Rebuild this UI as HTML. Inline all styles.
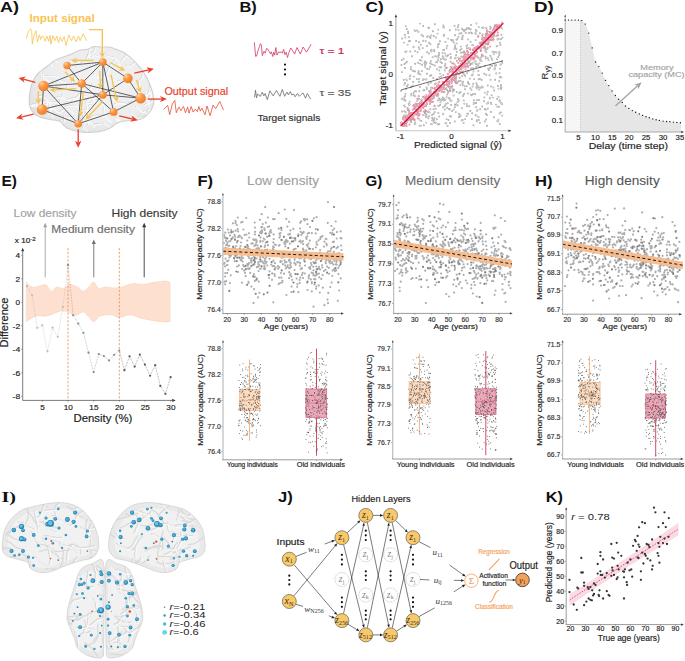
<!DOCTYPE html>
<html><head><meta charset="utf-8"><style>
html,body{margin:0;padding:0;background:#fff;}
svg{display:block;}
text{font-family:"Liberation Sans", sans-serif;}
</style></head><body>
<svg width="685" height="661" viewBox="0 0 685 661">
<rect width="685" height="661" fill="#fff"/>
<text x="0.00" y="11.60" font-size="15.2" fill="#111" font-weight="bold" textLength="19" lengthAdjust="spacingAndGlyphs">A)</text>
<defs><clipPath id="cA"><path d="M29.2,99.3 C29.2,96.2 29.8,92.2 30.5,89.0 C31.2,85.8 32.2,82.6 33.5,80.0 C34.8,77.4 36.2,75.4 38.0,73.5 C39.8,71.6 42.2,69.9 44.0,68.5 C45.8,67.1 47.2,66.3 49.0,65.0 C50.8,63.6 52.5,61.6 54.7,60.4 C56.9,59.1 59.3,58.5 62.0,57.5 C64.7,56.5 68.3,55.5 71.1,54.3 C73.9,53.1 76.3,51.4 79.0,50.5 C81.7,49.6 84.9,49.9 87.4,49.2 C89.9,48.5 91.6,46.8 94.0,46.5 C96.4,46.2 99.2,47.1 101.7,47.2 C104.2,47.3 106.6,46.7 109.0,47.0 C111.4,47.3 113.7,48.4 116.0,49.2 C118.3,50.0 120.6,50.6 123.0,52.0 C125.4,53.4 128.2,55.6 130.4,57.4 C132.6,59.2 134.0,60.8 136.0,63.0 C138.0,65.2 140.8,68.2 142.6,70.7 C144.4,73.2 145.6,75.3 147.0,78.0 C148.4,80.7 149.8,84.3 150.8,87.0 C151.8,89.7 152.5,91.6 153.0,94.0 C153.5,96.4 154.0,99.1 153.9,101.3 C153.8,103.5 153.2,105.1 152.5,107.0 C151.8,108.9 150.9,110.8 149.5,112.5 C148.1,114.2 145.9,116.3 144.0,117.5 C142.1,118.7 140.2,119.3 138.0,119.8 C135.8,120.3 132.9,120.1 131.0,120.3 C129.1,120.5 128.1,120.4 126.3,120.7 C124.5,121.0 121.7,121.5 120.0,122.0 C118.3,122.5 117.5,122.9 116.0,123.8 C114.5,124.7 112.7,126.5 111.0,127.5 C109.3,128.5 107.8,129.2 105.8,129.9 C103.8,130.6 101.0,131.2 99.0,131.6 C97.0,131.9 95.6,131.8 93.6,132.0 C91.6,132.2 89.0,132.5 87.0,132.5 C85.0,132.5 83.5,132.3 81.3,132.0 C79.1,131.7 76.4,131.2 74.0,130.5 C71.6,129.8 68.8,128.9 67.0,127.9 C65.2,126.9 64.0,125.5 63.0,124.5 C62.0,123.5 62.1,122.4 60.9,121.7 C59.7,121.0 57.7,120.6 56.0,120.3 C54.3,120.0 52.9,120.1 50.7,119.7 C48.5,119.3 45.4,118.7 43.0,118.0 C40.6,117.3 38.1,116.7 36.4,115.6 C34.6,114.5 33.5,112.9 32.5,111.5 C31.5,110.1 30.8,109.4 30.2,107.4 C29.6,105.4 29.1,102.4 29.2,99.3Z"/></clipPath><radialGradient id="ng" cx="0.32" cy="0.26" r="0.8"><stop offset="0" stop-color="#ffd2a6"/><stop offset="0.38" stop-color="#fd9b48"/><stop offset="1" stop-color="#ee7b22"/></radialGradient></defs>
<defs><radialGradient id="bgA" cx="0.55" cy="0.45" r="0.6"><stop offset="0" stop-color="#f3f3f3"/><stop offset="0.7" stop-color="#ededed"/><stop offset="1" stop-color="#e2e2e2"/></radialGradient></defs>
<path d="M29.2,99.3 C29.2,96.2 29.8,92.2 30.5,89.0 C31.2,85.8 32.2,82.6 33.5,80.0 C34.8,77.4 36.2,75.4 38.0,73.5 C39.8,71.6 42.2,69.9 44.0,68.5 C45.8,67.1 47.2,66.3 49.0,65.0 C50.8,63.6 52.5,61.6 54.7,60.4 C56.9,59.1 59.3,58.5 62.0,57.5 C64.7,56.5 68.3,55.5 71.1,54.3 C73.9,53.1 76.3,51.4 79.0,50.5 C81.7,49.6 84.9,49.9 87.4,49.2 C89.9,48.5 91.6,46.8 94.0,46.5 C96.4,46.2 99.2,47.1 101.7,47.2 C104.2,47.3 106.6,46.7 109.0,47.0 C111.4,47.3 113.7,48.4 116.0,49.2 C118.3,50.0 120.6,50.6 123.0,52.0 C125.4,53.4 128.2,55.6 130.4,57.4 C132.6,59.2 134.0,60.8 136.0,63.0 C138.0,65.2 140.8,68.2 142.6,70.7 C144.4,73.2 145.6,75.3 147.0,78.0 C148.4,80.7 149.8,84.3 150.8,87.0 C151.8,89.7 152.5,91.6 153.0,94.0 C153.5,96.4 154.0,99.1 153.9,101.3 C153.8,103.5 153.2,105.1 152.5,107.0 C151.8,108.9 150.9,110.8 149.5,112.5 C148.1,114.2 145.9,116.3 144.0,117.5 C142.1,118.7 140.2,119.3 138.0,119.8 C135.8,120.3 132.9,120.1 131.0,120.3 C129.1,120.5 128.1,120.4 126.3,120.7 C124.5,121.0 121.7,121.5 120.0,122.0 C118.3,122.5 117.5,122.9 116.0,123.8 C114.5,124.7 112.7,126.5 111.0,127.5 C109.3,128.5 107.8,129.2 105.8,129.9 C103.8,130.6 101.0,131.2 99.0,131.6 C97.0,131.9 95.6,131.8 93.6,132.0 C91.6,132.2 89.0,132.5 87.0,132.5 C85.0,132.5 83.5,132.3 81.3,132.0 C79.1,131.7 76.4,131.2 74.0,130.5 C71.6,129.8 68.8,128.9 67.0,127.9 C65.2,126.9 64.0,125.5 63.0,124.5 C62.0,123.5 62.1,122.4 60.9,121.7 C59.7,121.0 57.7,120.6 56.0,120.3 C54.3,120.0 52.9,120.1 50.7,119.7 C48.5,119.3 45.4,118.7 43.0,118.0 C40.6,117.3 38.1,116.7 36.4,115.6 C34.6,114.5 33.5,112.9 32.5,111.5 C31.5,110.1 30.8,109.4 30.2,107.4 C29.6,105.4 29.1,102.4 29.2,99.3Z" fill="url(#bgA)"/>
<g clip-path="url(#cA)">
<path d="M142.4,102.2 C142.8,101.2 144.2,97.9 145.1,96.5 C145.9,95.0 146.6,94.9 147.3,93.6 C148.0,92.3 149.0,89.9 149.4,88.5 C149.8,87.1 149.0,87.0 149.7,85.4 C150.4,83.7 153.0,79.7 153.6,78.5M144.8,128.0 C145.1,127.5 146.4,124.9 147.1,124.8 C147.8,124.6 148.2,126.4 148.9,127.3 C149.6,128.3 150.6,130.4 151.4,130.4 C152.1,130.5 152.5,127.5 153.3,127.5 C154.1,127.5 155.8,129.9 156.4,130.4M143.9,91.4 C144.0,91.5 144.4,90.8 144.8,91.8 C145.3,92.8 146.5,96.1 146.6,97.2 C146.8,98.3 145.7,98.0 145.8,98.4 C146.0,98.7 147.1,98.3 147.5,99.6 C147.9,100.9 147.9,105.1 148.0,106.2M138.0,90.3 C138.2,89.4 138.8,86.4 138.9,84.8 C139.0,83.2 138.1,82.2 138.6,81.0 C139.1,79.7 141.5,78.1 142.0,77.2 C142.5,76.3 141.1,77.1 141.5,75.6 C141.9,74.2 143.7,69.8 144.2,68.7M63.9,120.9 C63.9,120.0 63.1,116.4 63.8,116.0 C64.5,115.5 67.3,117.9 68.0,118.0 C68.8,118.1 68.0,116.9 68.3,116.7 C68.6,116.5 69.0,117.0 69.9,117.0 C70.8,116.9 73.2,116.4 73.8,116.3M32.4,103.4 C33.0,103.4 35.5,103.7 36.4,103.3 C37.3,103.0 37.0,101.6 37.8,101.4 C38.5,101.2 39.7,102.3 41.0,102.2 C42.3,102.1 44.2,100.7 45.6,100.8 C47.1,100.9 48.9,102.4 49.5,102.7M78.5,93.7 C79.6,94.1 83.5,95.1 85.5,95.8 C87.5,96.6 89.1,97.3 90.5,98.0 C92.0,98.8 92.8,100.2 94.0,100.4 C95.3,100.6 96.6,99.2 98.2,99.3 C99.7,99.5 102.5,100.9 103.4,101.2M129.9,112.3 C130.9,113.1 134.4,116.2 136.0,117.0 C137.7,117.8 138.2,116.8 139.8,116.9 C141.5,117.0 144.2,117.0 145.9,117.5 C147.6,118.1 148.6,119.7 149.9,120.5 C151.1,121.3 152.8,122.0 153.4,122.3M88.2,43.4 C88.3,44.6 88.8,48.3 88.8,50.2 C88.7,52.2 87.8,53.3 87.9,55.0 C88.0,56.7 88.7,58.8 89.2,60.5 C89.8,62.2 90.5,64.1 91.0,65.3 C91.5,66.6 92.0,67.5 92.2,67.9M126.4,125.6 C126.8,126.3 127.8,129.1 128.9,129.9 C130.0,130.7 131.7,130.2 132.8,130.6 C133.9,131.0 134.5,131.0 135.4,132.5 C136.3,133.9 137.8,137.4 138.4,139.0 C139.0,140.6 138.7,141.7 138.8,142.2M114.8,103.5 C115.6,103.4 117.6,102.8 119.4,102.9 C121.2,102.9 124.0,103.9 125.8,103.7 C127.6,103.6 128.4,102.7 130.1,102.2 C131.8,101.6 134.8,100.9 136.0,100.4 C137.2,99.9 137.3,99.3 137.5,99.1M21.0,103.6 C21.9,103.7 24.7,104.0 26.3,104.2 C28.0,104.4 29.7,104.8 31.1,104.7 C32.5,104.6 33.4,103.4 34.7,103.7 C35.9,104.0 36.6,106.7 38.6,106.6 C40.5,106.6 45.0,103.9 46.3,103.3M101.2,81.0 C101.6,80.1 102.6,77.3 103.5,75.8 C104.5,74.2 106.0,73.5 107.1,71.8 C108.1,70.0 108.7,66.8 109.6,65.2 C110.5,63.6 111.6,63.4 112.5,62.4 C113.4,61.5 114.6,59.8 115.0,59.3M117.3,126.3 C117.5,126.3 117.9,125.9 118.2,126.5 C118.6,127.2 118.7,129.5 119.1,130.2 C119.6,130.9 120.1,130.2 120.9,130.6 C121.7,130.9 123.1,131.4 123.9,132.1 C124.6,132.8 125.1,134.3 125.4,134.8M135.6,106.8 C136.7,107.6 140.7,110.9 142.1,111.7 C143.5,112.4 142.9,110.5 143.9,111.2 C144.9,111.9 146.8,114.6 148.2,116.0 C149.6,117.3 150.8,118.1 152.3,119.3 C153.8,120.4 156.3,122.2 157.0,122.8M57.3,136.5 C57.4,135.5 57.4,132.0 58.1,130.7 C58.9,129.4 61.4,129.3 61.9,128.6 C62.5,127.9 61.5,126.9 61.5,126.3 C61.4,125.7 61.7,126.2 61.6,125.1 C61.6,124.0 61.0,120.5 60.9,119.6M82.6,115.6 C82.9,115.3 83.6,114.8 84.2,114.0 C84.8,113.1 86.2,112.2 86.4,110.5 C86.7,108.8 86.1,105.2 86.0,103.7 C85.9,102.3 85.3,102.8 85.8,101.8 C86.4,100.9 88.8,98.5 89.3,97.9M114.8,117.2 C115.4,117.6 117.5,118.6 118.6,119.6 C119.6,120.5 120.7,122.4 121.1,123.0 C121.5,123.5 120.8,122.3 121.2,122.9 C121.6,123.6 122.5,125.3 123.7,126.8 C124.8,128.2 127.3,130.7 128.0,131.5M114.8,119.0 C115.5,119.4 117.7,119.8 118.6,121.3 C119.5,122.7 119.7,126.8 120.0,127.7 C120.4,128.7 120.1,126.0 120.7,127.2 C121.4,128.4 123.0,133.8 123.9,135.2 C124.9,136.6 126.0,135.5 126.4,135.6M148.8,97.8 C149.0,97.1 149.3,95.5 150.0,93.6 C150.7,91.7 152.5,88.2 153.1,86.6 C153.6,85.0 153.3,84.5 153.5,84.1 C153.6,83.8 153.8,85.1 154.0,84.5 C154.3,83.9 154.6,81.3 154.8,80.7M54.0,98.5 C54.6,98.2 56.0,97.0 57.7,96.9 C59.4,96.9 62.9,97.8 64.3,98.3 C65.7,98.7 64.6,99.8 66.1,99.7 C67.7,99.5 71.5,98.0 73.4,97.6 C75.4,97.2 77.0,97.3 77.7,97.3M143.9,105.0 C144.3,104.7 145.5,104.0 145.9,103.1 C146.2,102.2 145.7,100.0 146.0,99.5 C146.4,99.0 147.3,100.5 147.9,100.1 C148.5,99.7 149.1,97.9 149.6,97.0 C150.1,96.1 150.8,95.1 151.0,94.7M75.1,97.9 C75.8,97.3 77.8,94.9 79.1,94.1 C80.3,93.3 81.9,93.7 82.7,93.3 C83.5,92.9 83.0,92.4 84.1,91.6 C85.2,90.9 88.2,90.2 89.5,88.9 C90.8,87.6 91.4,84.5 91.8,83.6M87.3,102.9 C88.0,102.7 90.0,103.2 91.4,101.8 C92.9,100.5 94.3,96.2 96.0,94.8 C97.8,93.4 99.9,94.2 101.8,93.5 C103.7,92.7 105.8,90.9 107.2,90.4 C108.6,89.9 109.6,90.4 110.1,90.4M85.3,61.2 C85.8,60.0 87.4,55.0 88.0,53.9 C88.6,52.8 88.0,55.2 88.9,54.7 C89.9,54.2 92.8,52.5 93.8,51.0 C94.9,49.4 95.0,46.5 95.5,45.5 C95.9,44.4 96.4,44.8 96.6,44.6M50.1,107.3 C50.7,107.6 52.4,108.2 53.7,109.0 C55.0,109.9 56.3,112.5 58.2,112.3 C60.0,112.2 63.2,108.8 64.8,108.3 C66.5,107.8 66.7,108.4 68.1,109.3 C69.4,110.1 72.1,112.7 72.9,113.4M42.5,73.4 C42.5,74.0 41.9,75.6 42.9,76.8 C43.8,77.9 47.0,79.4 48.1,80.4 C49.3,81.5 49.0,82.6 49.5,83.2 C50.0,83.8 50.6,84.1 51.3,84.1 C51.9,84.0 53.0,83.2 53.3,83.1M137.1,128.3 C137.6,127.0 139.2,122.0 139.9,120.6 C140.7,119.3 140.5,120.9 141.5,120.1 C142.5,119.4 145.3,117.1 146.0,116.2 C146.8,115.3 145.7,115.9 146.1,114.6 C146.6,113.4 148.3,109.7 148.7,108.7M90.4,92.8 C91.2,93.1 94.0,94.2 95.2,94.4 C96.5,94.5 96.2,94.4 97.9,93.7 C99.6,93.1 104.0,91.0 105.5,90.4 C107.0,89.9 105.5,90.6 107.0,90.3 C108.4,90.0 112.9,88.7 114.1,88.4M41.7,75.1 C42.4,75.2 44.8,75.6 46.3,75.7 C47.7,75.7 48.6,75.1 50.3,75.4 C52.1,75.6 55.0,76.1 56.8,77.0 C58.5,77.9 59.4,79.9 60.8,80.7 C62.3,81.4 64.5,81.4 65.3,81.5M93.5,73.3 C94.0,74.0 96.1,76.7 96.7,77.1 C97.2,77.5 96.5,75.5 96.8,75.6 C97.1,75.7 97.8,77.5 98.4,77.7 C99.0,77.8 99.2,76.7 100.4,76.4 C101.5,76.2 104.4,76.4 105.2,76.4M137.0,91.6 C137.2,91.6 137.7,91.2 138.0,91.3 C138.3,91.4 138.1,91.7 138.7,92.4 C139.4,93.1 141.4,95.0 141.9,95.8 C142.4,96.5 141.4,96.3 141.9,96.7 C142.5,97.1 144.6,97.8 145.2,98.0M27.2,103.8 C27.2,103.8 26.8,103.6 27.4,103.8 C28.1,104.0 30.5,104.6 31.1,104.9 C31.7,105.2 30.0,105.5 30.8,105.6 C31.6,105.6 35.2,105.2 36.0,105.2 C36.8,105.2 35.8,105.6 35.7,105.6M106.7,76.9 C107.4,77.5 110.0,79.9 111.1,80.2 C112.1,80.6 112.3,78.8 113.2,78.9 C114.1,79.1 115.9,80.8 116.3,81.1 C116.7,81.4 114.9,80.9 115.7,80.7 C116.4,80.6 119.9,80.3 120.7,80.3M81.0,109.9 C81.2,110.1 82.2,110.8 82.4,111.2 C82.5,111.5 81.9,111.7 81.9,111.9 C81.9,112.2 81.7,111.4 82.4,112.7 C83.0,113.9 85.1,118.5 85.7,119.3 C86.4,120.2 86.0,118.1 86.0,117.9M72.3,118.9 C72.5,118.8 72.1,118.2 73.3,118.5 C74.4,118.7 78.2,120.5 79.4,120.4 C80.6,120.4 79.7,118.9 80.4,118.3 C81.0,117.7 82.3,117.5 83.3,116.6 C84.4,115.8 86.2,113.9 86.8,113.4M120.4,61.1 C120.5,61.0 120.3,61.6 121.2,60.6 C122.1,59.6 124.6,55.6 125.7,54.9 C126.8,54.2 126.5,57.2 127.8,56.6 C129.1,56.0 132.2,52.2 133.5,51.2 C134.8,50.1 135.1,50.5 135.4,50.4M107.3,45.2 C108.1,45.5 110.7,47.3 111.8,47.4 C112.9,47.4 112.8,45.5 114.0,45.4 C115.2,45.2 117.0,46.2 118.8,46.4 C120.6,46.6 122.8,46.8 124.6,46.6 C126.4,46.4 128.8,45.3 129.6,45.1M45.3,55.7 C45.7,55.8 46.9,56.4 47.6,56.4 C48.2,56.3 48.8,55.5 49.3,55.4 C49.9,55.4 49.8,55.4 50.7,56.2 C51.5,56.9 53.3,58.9 54.3,59.8 C55.4,60.8 56.5,61.3 56.9,61.6M91.8,56.8 C91.9,56.5 91.5,55.2 92.4,55.1 C93.4,54.9 96.3,55.3 97.4,56.0 C98.6,56.6 98.4,58.5 99.4,58.9 C100.4,59.2 102.2,58.0 103.2,58.2 C104.3,58.5 105.3,60.2 105.7,60.6M107.5,55.2 C107.9,55.5 109.2,56.2 110.2,56.6 C111.2,56.9 112.4,56.6 113.5,57.1 C114.5,57.7 115.6,58.7 116.5,59.9 C117.4,61.0 118.2,63.1 118.8,64.0 C119.5,64.9 120.3,65.1 120.6,65.3M111.7,97.7 C112.2,98.2 114.0,100.0 114.9,100.9 C115.7,101.7 115.9,102.7 116.7,102.9 C117.5,103.1 118.0,102.1 119.6,102.2 C121.2,102.3 124.9,103.0 126.1,103.4 C127.4,103.9 126.9,104.6 127.0,104.9M125.9,65.3 C126.5,65.4 128.3,66.2 129.4,65.9 C130.5,65.5 131.9,63.9 132.7,63.4 C133.5,62.8 133.0,63.4 134.1,62.6 C135.2,61.8 137.8,59.7 139.1,58.5 C140.4,57.4 141.4,56.2 141.9,55.7M46.0,102.8 C46.4,102.6 47.5,101.0 48.1,101.8 C48.7,102.7 49.5,106.8 49.6,107.8 C49.7,108.9 48.6,107.1 48.8,108.2 C49.0,109.3 50.1,113.3 50.8,114.7 C51.4,116.0 52.3,116.2 52.6,116.5M90.8,109.8 C90.5,109.0 88.3,105.5 88.7,104.8 C89.1,104.0 92.5,106.3 93.1,105.4 C93.8,104.5 92.7,100.8 92.8,99.3 C92.9,97.7 93.3,96.8 93.7,96.0 C94.1,95.1 94.9,94.5 95.2,94.2M45.2,136.8 C45.5,136.2 46.5,134.5 46.8,133.4 C47.1,132.4 46.8,131.5 47.2,130.7 C47.6,130.0 48.7,129.6 49.3,128.8 C49.9,128.1 50.6,127.0 50.8,126.3 C51.0,125.7 50.6,125.1 50.6,124.9M143.7,69.4 C144.5,69.7 147.7,70.4 148.3,71.7 C148.9,72.9 146.8,75.1 147.3,76.8 C147.9,78.5 150.8,80.9 151.6,81.8 C152.4,82.6 152.0,81.0 152.1,81.8 C152.2,82.5 152.1,85.5 152.1,86.2M37.5,95.9 C38.5,96.0 41.6,95.7 43.2,96.4 C44.8,97.1 46.0,99.2 47.0,100.1 C47.9,100.9 48.0,101.2 48.9,101.5 C49.9,101.8 51.3,101.6 52.9,101.7 C54.4,101.9 57.6,102.5 58.5,102.6M84.9,118.9 C85.4,118.9 86.9,119.6 87.9,119.2 C88.8,118.8 89.0,117.2 90.6,116.5 C92.1,115.8 95.2,115.3 97.0,115.1 C98.9,114.9 100.0,115.0 101.4,115.2 C102.8,115.3 104.7,115.9 105.4,116.1M87.8,124.1 C87.9,123.7 87.7,121.0 88.6,121.3 C89.6,121.6 92.5,125.3 93.3,126.1 C94.1,126.9 93.1,126.5 93.3,126.2 C93.6,125.8 93.9,124.4 95.1,123.9 C96.3,123.5 99.5,123.6 100.4,123.6M99.6,102.1 C100.2,102.6 102.7,103.8 103.3,105.4 C103.9,106.9 103.0,109.9 103.3,111.5 C103.7,113.1 104.7,113.8 105.2,114.9 C105.7,116.1 105.7,117.1 106.6,118.2 C107.5,119.3 109.8,120.9 110.4,121.4M123.6,49.5 C124.6,50.0 127.9,51.7 129.7,52.4 C131.5,53.0 132.9,52.9 134.2,53.5 C135.6,54.0 136.1,55.3 137.7,55.7 C139.3,56.2 142.3,55.3 143.8,56.1 C145.3,56.9 146.1,59.8 146.6,60.6M84.1,122.1 C84.6,121.9 86.1,122.0 86.8,121.3 C87.6,120.7 88.0,118.7 88.6,117.9 C89.3,117.1 89.8,116.7 90.6,116.5 C91.4,116.3 92.4,117.0 93.5,116.8 C94.5,116.5 96.1,115.2 96.6,114.9M34.2,121.7 C35.1,121.7 37.7,121.9 39.6,121.8 C41.5,121.7 43.6,120.8 45.4,121.3 C47.3,121.7 49.2,124.1 50.7,124.5 C52.3,124.8 53.1,122.9 54.8,123.3 C56.5,123.8 60.0,126.5 61.0,127.1M146.1,103.7 C146.9,103.4 149.9,102.1 150.8,101.5 C151.7,100.9 150.9,100.4 151.4,100.4 C151.9,100.4 153.2,101.6 153.9,101.4 C154.6,101.1 155.2,100.2 155.4,99.0 C155.7,97.8 155.4,94.9 155.4,94.0M34.9,67.2 C34.8,67.1 33.9,66.8 34.3,66.8 C34.7,66.7 36.8,66.2 37.3,66.9 C37.9,67.6 37.3,70.3 37.7,70.9 C38.1,71.5 39.4,70.2 39.9,70.7 C40.4,71.2 40.4,73.5 40.5,74.1M64.8,89.5 C65.1,89.3 66.4,89.5 66.8,88.3 C67.2,87.1 66.5,83.1 67.1,82.2 C67.8,81.4 69.9,83.4 70.7,83.1 C71.5,82.8 71.3,81.7 72.0,80.5 C72.6,79.2 74.2,76.3 74.7,75.4M35.9,55.4 C36.8,55.5 39.5,56.2 40.8,56.5 C42.1,56.7 42.5,55.7 43.8,56.8 C45.1,57.9 47.7,62.0 48.5,63.0 C49.3,64.0 48.0,62.2 48.6,62.6 C49.1,63.1 51.4,65.2 51.9,65.8M82.5,117.8 C82.6,118.8 83.4,122.3 83.5,123.9 C83.5,125.6 82.2,126.7 82.6,127.7 C83.0,128.6 85.1,127.9 85.9,129.5 C86.8,131.2 87.3,136.3 87.9,137.5 C88.5,138.7 89.3,136.8 89.6,136.7M69.4,60.2 C70.0,60.1 71.9,59.3 72.9,59.7 C73.9,60.1 74.5,62.7 75.5,62.6 C76.4,62.5 77.9,58.7 78.4,59.0 C78.9,59.3 77.6,64.0 78.3,64.4 C79.0,64.8 81.9,61.9 82.6,61.5M130.7,135.2 C130.9,135.0 131.6,135.2 132.3,134.1 C133.1,133.0 134.6,130.2 135.2,128.7 C135.9,127.2 136.0,126.4 136.4,125.1 C136.7,123.9 136.3,122.1 137.2,121.0 C138.1,120.0 140.8,119.0 141.6,118.6M39.4,43.5 C40.2,43.9 42.3,45.6 44.2,46.1 C46.1,46.6 49.0,46.3 50.8,46.5 C52.6,46.6 53.9,46.2 55.0,46.9 C56.0,47.7 56.0,49.7 57.2,50.7 C58.5,51.7 61.6,52.7 62.4,53.1M138.3,63.9 C138.4,64.2 138.5,65.4 139.1,65.8 C139.7,66.2 141.4,65.7 141.9,66.2 C142.4,66.6 141.7,67.9 141.9,68.7 C142.2,69.5 143.3,70.4 143.6,71.2 C144.0,72.0 144.1,73.0 144.2,73.4M65.7,101.5 C66.1,101.5 67.4,101.2 68.3,101.4 C69.1,101.5 69.5,103.0 70.6,102.4 C71.6,101.8 73.4,98.0 74.6,97.6 C75.8,97.1 77.3,99.6 77.7,99.6 C78.0,99.6 76.9,98.0 76.7,97.7M134.7,51.3 C134.7,50.6 134.2,47.9 134.4,47.2 C134.6,46.4 135.3,47.2 135.9,46.9 C136.5,46.5 137.1,45.7 138.1,45.1 C139.2,44.6 141.5,44.3 142.0,43.6 C142.6,43.0 141.6,41.7 141.5,41.3M103.0,122.0 C103.3,122.3 104.1,123.9 104.7,124.3 C105.3,124.8 105.8,124.1 106.6,124.6 C107.4,125.0 108.5,126.1 109.4,127.1 C110.3,128.1 111.2,129.2 112.0,130.5 C112.8,131.8 113.7,134.1 114.0,134.9M64.6,106.3 C65.1,106.1 65.9,105.6 67.8,105.5 C69.6,105.4 73.8,104.9 75.6,105.8 C77.5,106.6 77.0,110.3 78.9,110.9 C80.7,111.4 85.0,109.0 86.6,109.1 C88.3,109.3 88.3,111.3 88.6,111.7M143.4,94.7 C144.0,94.6 146.4,94.5 147.4,94.1 C148.4,93.7 148.7,93.3 149.6,92.2 C150.4,91.2 151.6,89.0 152.6,87.9 C153.6,86.9 154.0,86.6 155.4,86.1 C156.9,85.5 160.3,84.7 161.3,84.5M46.9,114.5 C47.5,113.6 49.4,110.2 50.4,109.0 C51.4,107.8 51.9,108.0 53.0,107.3 C54.2,106.5 55.9,105.7 57.1,104.4 C58.3,103.2 59.3,101.2 60.2,99.6 C61.1,97.9 62.1,95.4 62.4,94.6M113.5,125.9 C114.2,126.3 116.8,127.9 117.7,128.6 C118.6,129.3 118.0,129.8 118.9,130.0 C119.9,130.2 121.9,129.2 123.2,130.1 C124.5,130.9 125.8,134.5 126.8,135.3 C127.8,136.1 128.9,135.1 129.4,135.0" fill="none" stroke="#cfcfcf" stroke-width="0.8" stroke-linecap="round" stroke-linejoin="round"/>
<path d="M142.4,102.2 C142.8,101.2 144.2,97.9 145.1,96.5 C145.9,95.0 146.6,94.9 147.3,93.6 C148.0,92.3 149.0,89.9 149.4,88.5 C149.8,87.1 149.0,87.0 149.7,85.4 C150.4,83.7 153.0,79.7 153.6,78.5M144.8,128.0 C145.1,127.5 146.4,124.9 147.1,124.8 C147.8,124.6 148.2,126.4 148.9,127.3 C149.6,128.3 150.6,130.4 151.4,130.4 C152.1,130.5 152.5,127.5 153.3,127.5 C154.1,127.5 155.8,129.9 156.4,130.4M143.9,91.4 C144.0,91.5 144.4,90.8 144.8,91.8 C145.3,92.8 146.5,96.1 146.6,97.2 C146.8,98.3 145.7,98.0 145.8,98.4 C146.0,98.7 147.1,98.3 147.5,99.6 C147.9,100.9 147.9,105.1 148.0,106.2M138.0,90.3 C138.2,89.4 138.8,86.4 138.9,84.8 C139.0,83.2 138.1,82.2 138.6,81.0 C139.1,79.7 141.5,78.1 142.0,77.2 C142.5,76.3 141.1,77.1 141.5,75.6 C141.9,74.2 143.7,69.8 144.2,68.7M63.9,120.9 C63.9,120.0 63.1,116.4 63.8,116.0 C64.5,115.5 67.3,117.9 68.0,118.0 C68.8,118.1 68.0,116.9 68.3,116.7 C68.6,116.5 69.0,117.0 69.9,117.0 C70.8,116.9 73.2,116.4 73.8,116.3M32.4,103.4 C33.0,103.4 35.5,103.7 36.4,103.3 C37.3,103.0 37.0,101.6 37.8,101.4 C38.5,101.2 39.7,102.3 41.0,102.2 C42.3,102.1 44.2,100.7 45.6,100.8 C47.1,100.9 48.9,102.4 49.5,102.7M78.5,93.7 C79.6,94.1 83.5,95.1 85.5,95.8 C87.5,96.6 89.1,97.3 90.5,98.0 C92.0,98.8 92.8,100.2 94.0,100.4 C95.3,100.6 96.6,99.2 98.2,99.3 C99.7,99.5 102.5,100.9 103.4,101.2M129.9,112.3 C130.9,113.1 134.4,116.2 136.0,117.0 C137.7,117.8 138.2,116.8 139.8,116.9 C141.5,117.0 144.2,117.0 145.9,117.5 C147.6,118.1 148.6,119.7 149.9,120.5 C151.1,121.3 152.8,122.0 153.4,122.3M88.2,43.4 C88.3,44.6 88.8,48.3 88.8,50.2 C88.7,52.2 87.8,53.3 87.9,55.0 C88.0,56.7 88.7,58.8 89.2,60.5 C89.8,62.2 90.5,64.1 91.0,65.3 C91.5,66.6 92.0,67.5 92.2,67.9M126.4,125.6 C126.8,126.3 127.8,129.1 128.9,129.9 C130.0,130.7 131.7,130.2 132.8,130.6 C133.9,131.0 134.5,131.0 135.4,132.5 C136.3,133.9 137.8,137.4 138.4,139.0 C139.0,140.6 138.7,141.7 138.8,142.2M114.8,103.5 C115.6,103.4 117.6,102.8 119.4,102.9 C121.2,102.9 124.0,103.9 125.8,103.7 C127.6,103.6 128.4,102.7 130.1,102.2 C131.8,101.6 134.8,100.9 136.0,100.4 C137.2,99.9 137.3,99.3 137.5,99.1M21.0,103.6 C21.9,103.7 24.7,104.0 26.3,104.2 C28.0,104.4 29.7,104.8 31.1,104.7 C32.5,104.6 33.4,103.4 34.7,103.7 C35.9,104.0 36.6,106.7 38.6,106.6 C40.5,106.6 45.0,103.9 46.3,103.3M101.2,81.0 C101.6,80.1 102.6,77.3 103.5,75.8 C104.5,74.2 106.0,73.5 107.1,71.8 C108.1,70.0 108.7,66.8 109.6,65.2 C110.5,63.6 111.6,63.4 112.5,62.4 C113.4,61.5 114.6,59.8 115.0,59.3M117.3,126.3 C117.5,126.3 117.9,125.9 118.2,126.5 C118.6,127.2 118.7,129.5 119.1,130.2 C119.6,130.9 120.1,130.2 120.9,130.6 C121.7,130.9 123.1,131.4 123.9,132.1 C124.6,132.8 125.1,134.3 125.4,134.8M135.6,106.8 C136.7,107.6 140.7,110.9 142.1,111.7 C143.5,112.4 142.9,110.5 143.9,111.2 C144.9,111.9 146.8,114.6 148.2,116.0 C149.6,117.3 150.8,118.1 152.3,119.3 C153.8,120.4 156.3,122.2 157.0,122.8M57.3,136.5 C57.4,135.5 57.4,132.0 58.1,130.7 C58.9,129.4 61.4,129.3 61.9,128.6 C62.5,127.9 61.5,126.9 61.5,126.3 C61.4,125.7 61.7,126.2 61.6,125.1 C61.6,124.0 61.0,120.5 60.9,119.6M82.6,115.6 C82.9,115.3 83.6,114.8 84.2,114.0 C84.8,113.1 86.2,112.2 86.4,110.5 C86.7,108.8 86.1,105.2 86.0,103.7 C85.9,102.3 85.3,102.8 85.8,101.8 C86.4,100.9 88.8,98.5 89.3,97.9M114.8,117.2 C115.4,117.6 117.5,118.6 118.6,119.6 C119.6,120.5 120.7,122.4 121.1,123.0 C121.5,123.5 120.8,122.3 121.2,122.9 C121.6,123.6 122.5,125.3 123.7,126.8 C124.8,128.2 127.3,130.7 128.0,131.5M114.8,119.0 C115.5,119.4 117.7,119.8 118.6,121.3 C119.5,122.7 119.7,126.8 120.0,127.7 C120.4,128.7 120.1,126.0 120.7,127.2 C121.4,128.4 123.0,133.8 123.9,135.2 C124.9,136.6 126.0,135.5 126.4,135.6M148.8,97.8 C149.0,97.1 149.3,95.5 150.0,93.6 C150.7,91.7 152.5,88.2 153.1,86.6 C153.6,85.0 153.3,84.5 153.5,84.1 C153.6,83.8 153.8,85.1 154.0,84.5 C154.3,83.9 154.6,81.3 154.8,80.7M54.0,98.5 C54.6,98.2 56.0,97.0 57.7,96.9 C59.4,96.9 62.9,97.8 64.3,98.3 C65.7,98.7 64.6,99.8 66.1,99.7 C67.7,99.5 71.5,98.0 73.4,97.6 C75.4,97.2 77.0,97.3 77.7,97.3M143.9,105.0 C144.3,104.7 145.5,104.0 145.9,103.1 C146.2,102.2 145.7,100.0 146.0,99.5 C146.4,99.0 147.3,100.5 147.9,100.1 C148.5,99.7 149.1,97.9 149.6,97.0 C150.1,96.1 150.8,95.1 151.0,94.7M75.1,97.9 C75.8,97.3 77.8,94.9 79.1,94.1 C80.3,93.3 81.9,93.7 82.7,93.3 C83.5,92.9 83.0,92.4 84.1,91.6 C85.2,90.9 88.2,90.2 89.5,88.9 C90.8,87.6 91.4,84.5 91.8,83.6M87.3,102.9 C88.0,102.7 90.0,103.2 91.4,101.8 C92.9,100.5 94.3,96.2 96.0,94.8 C97.8,93.4 99.9,94.2 101.8,93.5 C103.7,92.7 105.8,90.9 107.2,90.4 C108.6,89.9 109.6,90.4 110.1,90.4M85.3,61.2 C85.8,60.0 87.4,55.0 88.0,53.9 C88.6,52.8 88.0,55.2 88.9,54.7 C89.9,54.2 92.8,52.5 93.8,51.0 C94.9,49.4 95.0,46.5 95.5,45.5 C95.9,44.4 96.4,44.8 96.6,44.6M50.1,107.3 C50.7,107.6 52.4,108.2 53.7,109.0 C55.0,109.9 56.3,112.5 58.2,112.3 C60.0,112.2 63.2,108.8 64.8,108.3 C66.5,107.8 66.7,108.4 68.1,109.3 C69.4,110.1 72.1,112.7 72.9,113.4M42.5,73.4 C42.5,74.0 41.9,75.6 42.9,76.8 C43.8,77.9 47.0,79.4 48.1,80.4 C49.3,81.5 49.0,82.6 49.5,83.2 C50.0,83.8 50.6,84.1 51.3,84.1 C51.9,84.0 53.0,83.2 53.3,83.1M137.1,128.3 C137.6,127.0 139.2,122.0 139.9,120.6 C140.7,119.3 140.5,120.9 141.5,120.1 C142.5,119.4 145.3,117.1 146.0,116.2 C146.8,115.3 145.7,115.9 146.1,114.6 C146.6,113.4 148.3,109.7 148.7,108.7M90.4,92.8 C91.2,93.1 94.0,94.2 95.2,94.4 C96.5,94.5 96.2,94.4 97.9,93.7 C99.6,93.1 104.0,91.0 105.5,90.4 C107.0,89.9 105.5,90.6 107.0,90.3 C108.4,90.0 112.9,88.7 114.1,88.4M41.7,75.1 C42.4,75.2 44.8,75.6 46.3,75.7 C47.7,75.7 48.6,75.1 50.3,75.4 C52.1,75.6 55.0,76.1 56.8,77.0 C58.5,77.9 59.4,79.9 60.8,80.7 C62.3,81.4 64.5,81.4 65.3,81.5M93.5,73.3 C94.0,74.0 96.1,76.7 96.7,77.1 C97.2,77.5 96.5,75.5 96.8,75.6 C97.1,75.7 97.8,77.5 98.4,77.7 C99.0,77.8 99.2,76.7 100.4,76.4 C101.5,76.2 104.4,76.4 105.2,76.4M137.0,91.6 C137.2,91.6 137.7,91.2 138.0,91.3 C138.3,91.4 138.1,91.7 138.7,92.4 C139.4,93.1 141.4,95.0 141.9,95.8 C142.4,96.5 141.4,96.3 141.9,96.7 C142.5,97.1 144.6,97.8 145.2,98.0M27.2,103.8 C27.2,103.8 26.8,103.6 27.4,103.8 C28.1,104.0 30.5,104.6 31.1,104.9 C31.7,105.2 30.0,105.5 30.8,105.6 C31.6,105.6 35.2,105.2 36.0,105.2 C36.8,105.2 35.8,105.6 35.7,105.6M106.7,76.9 C107.4,77.5 110.0,79.9 111.1,80.2 C112.1,80.6 112.3,78.8 113.2,78.9 C114.1,79.1 115.9,80.8 116.3,81.1 C116.7,81.4 114.9,80.9 115.7,80.7 C116.4,80.6 119.9,80.3 120.7,80.3M81.0,109.9 C81.2,110.1 82.2,110.8 82.4,111.2 C82.5,111.5 81.9,111.7 81.9,111.9 C81.9,112.2 81.7,111.4 82.4,112.7 C83.0,113.9 85.1,118.5 85.7,119.3 C86.4,120.2 86.0,118.1 86.0,117.9M72.3,118.9 C72.5,118.8 72.1,118.2 73.3,118.5 C74.4,118.7 78.2,120.5 79.4,120.4 C80.6,120.4 79.7,118.9 80.4,118.3 C81.0,117.7 82.3,117.5 83.3,116.6 C84.4,115.8 86.2,113.9 86.8,113.4M120.4,61.1 C120.5,61.0 120.3,61.6 121.2,60.6 C122.1,59.6 124.6,55.6 125.7,54.9 C126.8,54.2 126.5,57.2 127.8,56.6 C129.1,56.0 132.2,52.2 133.5,51.2 C134.8,50.1 135.1,50.5 135.4,50.4M107.3,45.2 C108.1,45.5 110.7,47.3 111.8,47.4 C112.9,47.4 112.8,45.5 114.0,45.4 C115.2,45.2 117.0,46.2 118.8,46.4 C120.6,46.6 122.8,46.8 124.6,46.6 C126.4,46.4 128.8,45.3 129.6,45.1M45.3,55.7 C45.7,55.8 46.9,56.4 47.6,56.4 C48.2,56.3 48.8,55.5 49.3,55.4 C49.9,55.4 49.8,55.4 50.7,56.2 C51.5,56.9 53.3,58.9 54.3,59.8 C55.4,60.8 56.5,61.3 56.9,61.6M91.8,56.8 C91.9,56.5 91.5,55.2 92.4,55.1 C93.4,54.9 96.3,55.3 97.4,56.0 C98.6,56.6 98.4,58.5 99.4,58.9 C100.4,59.2 102.2,58.0 103.2,58.2 C104.3,58.5 105.3,60.2 105.7,60.6M107.5,55.2 C107.9,55.5 109.2,56.2 110.2,56.6 C111.2,56.9 112.4,56.6 113.5,57.1 C114.5,57.7 115.6,58.7 116.5,59.9 C117.4,61.0 118.2,63.1 118.8,64.0 C119.5,64.9 120.3,65.1 120.6,65.3M111.7,97.7 C112.2,98.2 114.0,100.0 114.9,100.9 C115.7,101.7 115.9,102.7 116.7,102.9 C117.5,103.1 118.0,102.1 119.6,102.2 C121.2,102.3 124.9,103.0 126.1,103.4 C127.4,103.9 126.9,104.6 127.0,104.9M125.9,65.3 C126.5,65.4 128.3,66.2 129.4,65.9 C130.5,65.5 131.9,63.9 132.7,63.4 C133.5,62.8 133.0,63.4 134.1,62.6 C135.2,61.8 137.8,59.7 139.1,58.5 C140.4,57.4 141.4,56.2 141.9,55.7M46.0,102.8 C46.4,102.6 47.5,101.0 48.1,101.8 C48.7,102.7 49.5,106.8 49.6,107.8 C49.7,108.9 48.6,107.1 48.8,108.2 C49.0,109.3 50.1,113.3 50.8,114.7 C51.4,116.0 52.3,116.2 52.6,116.5M90.8,109.8 C90.5,109.0 88.3,105.5 88.7,104.8 C89.1,104.0 92.5,106.3 93.1,105.4 C93.8,104.5 92.7,100.8 92.8,99.3 C92.9,97.7 93.3,96.8 93.7,96.0 C94.1,95.1 94.9,94.5 95.2,94.2M45.2,136.8 C45.5,136.2 46.5,134.5 46.8,133.4 C47.1,132.4 46.8,131.5 47.2,130.7 C47.6,130.0 48.7,129.6 49.3,128.8 C49.9,128.1 50.6,127.0 50.8,126.3 C51.0,125.7 50.6,125.1 50.6,124.9M143.7,69.4 C144.5,69.7 147.7,70.4 148.3,71.7 C148.9,72.9 146.8,75.1 147.3,76.8 C147.9,78.5 150.8,80.9 151.6,81.8 C152.4,82.6 152.0,81.0 152.1,81.8 C152.2,82.5 152.1,85.5 152.1,86.2M37.5,95.9 C38.5,96.0 41.6,95.7 43.2,96.4 C44.8,97.1 46.0,99.2 47.0,100.1 C47.9,100.9 48.0,101.2 48.9,101.5 C49.9,101.8 51.3,101.6 52.9,101.7 C54.4,101.9 57.6,102.5 58.5,102.6M84.9,118.9 C85.4,118.9 86.9,119.6 87.9,119.2 C88.8,118.8 89.0,117.2 90.6,116.5 C92.1,115.8 95.2,115.3 97.0,115.1 C98.9,114.9 100.0,115.0 101.4,115.2 C102.8,115.3 104.7,115.9 105.4,116.1M87.8,124.1 C87.9,123.7 87.7,121.0 88.6,121.3 C89.6,121.6 92.5,125.3 93.3,126.1 C94.1,126.9 93.1,126.5 93.3,126.2 C93.6,125.8 93.9,124.4 95.1,123.9 C96.3,123.5 99.5,123.6 100.4,123.6M99.6,102.1 C100.2,102.6 102.7,103.8 103.3,105.4 C103.9,106.9 103.0,109.9 103.3,111.5 C103.7,113.1 104.7,113.8 105.2,114.9 C105.7,116.1 105.7,117.1 106.6,118.2 C107.5,119.3 109.8,120.9 110.4,121.4M123.6,49.5 C124.6,50.0 127.9,51.7 129.7,52.4 C131.5,53.0 132.9,52.9 134.2,53.5 C135.6,54.0 136.1,55.3 137.7,55.7 C139.3,56.2 142.3,55.3 143.8,56.1 C145.3,56.9 146.1,59.8 146.6,60.6M84.1,122.1 C84.6,121.9 86.1,122.0 86.8,121.3 C87.6,120.7 88.0,118.7 88.6,117.9 C89.3,117.1 89.8,116.7 90.6,116.5 C91.4,116.3 92.4,117.0 93.5,116.8 C94.5,116.5 96.1,115.2 96.6,114.9M34.2,121.7 C35.1,121.7 37.7,121.9 39.6,121.8 C41.5,121.7 43.6,120.8 45.4,121.3 C47.3,121.7 49.2,124.1 50.7,124.5 C52.3,124.8 53.1,122.9 54.8,123.3 C56.5,123.8 60.0,126.5 61.0,127.1M146.1,103.7 C146.9,103.4 149.9,102.1 150.8,101.5 C151.7,100.9 150.9,100.4 151.4,100.4 C151.9,100.4 153.2,101.6 153.9,101.4 C154.6,101.1 155.2,100.2 155.4,99.0 C155.7,97.8 155.4,94.9 155.4,94.0M34.9,67.2 C34.8,67.1 33.9,66.8 34.3,66.8 C34.7,66.7 36.8,66.2 37.3,66.9 C37.9,67.6 37.3,70.3 37.7,70.9 C38.1,71.5 39.4,70.2 39.9,70.7 C40.4,71.2 40.4,73.5 40.5,74.1M64.8,89.5 C65.1,89.3 66.4,89.5 66.8,88.3 C67.2,87.1 66.5,83.1 67.1,82.2 C67.8,81.4 69.9,83.4 70.7,83.1 C71.5,82.8 71.3,81.7 72.0,80.5 C72.6,79.2 74.2,76.3 74.7,75.4M35.9,55.4 C36.8,55.5 39.5,56.2 40.8,56.5 C42.1,56.7 42.5,55.7 43.8,56.8 C45.1,57.9 47.7,62.0 48.5,63.0 C49.3,64.0 48.0,62.2 48.6,62.6 C49.1,63.1 51.4,65.2 51.9,65.8M82.5,117.8 C82.6,118.8 83.4,122.3 83.5,123.9 C83.5,125.6 82.2,126.7 82.6,127.7 C83.0,128.6 85.1,127.9 85.9,129.5 C86.8,131.2 87.3,136.3 87.9,137.5 C88.5,138.7 89.3,136.8 89.6,136.7M69.4,60.2 C70.0,60.1 71.9,59.3 72.9,59.7 C73.9,60.1 74.5,62.7 75.5,62.6 C76.4,62.5 77.9,58.7 78.4,59.0 C78.9,59.3 77.6,64.0 78.3,64.4 C79.0,64.8 81.9,61.9 82.6,61.5M130.7,135.2 C130.9,135.0 131.6,135.2 132.3,134.1 C133.1,133.0 134.6,130.2 135.2,128.7 C135.9,127.2 136.0,126.4 136.4,125.1 C136.7,123.9 136.3,122.1 137.2,121.0 C138.1,120.0 140.8,119.0 141.6,118.6M39.4,43.5 C40.2,43.9 42.3,45.6 44.2,46.1 C46.1,46.6 49.0,46.3 50.8,46.5 C52.6,46.6 53.9,46.2 55.0,46.9 C56.0,47.7 56.0,49.7 57.2,50.7 C58.5,51.7 61.6,52.7 62.4,53.1M138.3,63.9 C138.4,64.2 138.5,65.4 139.1,65.8 C139.7,66.2 141.4,65.7 141.9,66.2 C142.4,66.6 141.7,67.9 141.9,68.7 C142.2,69.5 143.3,70.4 143.6,71.2 C144.0,72.0 144.1,73.0 144.2,73.4M65.7,101.5 C66.1,101.5 67.4,101.2 68.3,101.4 C69.1,101.5 69.5,103.0 70.6,102.4 C71.6,101.8 73.4,98.0 74.6,97.6 C75.8,97.1 77.3,99.6 77.7,99.6 C78.0,99.6 76.9,98.0 76.7,97.7M134.7,51.3 C134.7,50.6 134.2,47.9 134.4,47.2 C134.6,46.4 135.3,47.2 135.9,46.9 C136.5,46.5 137.1,45.7 138.1,45.1 C139.2,44.6 141.5,44.3 142.0,43.6 C142.6,43.0 141.6,41.7 141.5,41.3M103.0,122.0 C103.3,122.3 104.1,123.9 104.7,124.3 C105.3,124.8 105.8,124.1 106.6,124.6 C107.4,125.0 108.5,126.1 109.4,127.1 C110.3,128.1 111.2,129.2 112.0,130.5 C112.8,131.8 113.7,134.1 114.0,134.9M64.6,106.3 C65.1,106.1 65.9,105.6 67.8,105.5 C69.6,105.4 73.8,104.9 75.6,105.8 C77.5,106.6 77.0,110.3 78.9,110.9 C80.7,111.4 85.0,109.0 86.6,109.1 C88.3,109.3 88.3,111.3 88.6,111.7M143.4,94.7 C144.0,94.6 146.4,94.5 147.4,94.1 C148.4,93.7 148.7,93.3 149.6,92.2 C150.4,91.2 151.6,89.0 152.6,87.9 C153.6,86.9 154.0,86.6 155.4,86.1 C156.9,85.5 160.3,84.7 161.3,84.5M46.9,114.5 C47.5,113.6 49.4,110.2 50.4,109.0 C51.4,107.8 51.9,108.0 53.0,107.3 C54.2,106.5 55.9,105.7 57.1,104.4 C58.3,103.2 59.3,101.2 60.2,99.6 C61.1,97.9 62.1,95.4 62.4,94.6M113.5,125.9 C114.2,126.3 116.8,127.9 117.7,128.6 C118.6,129.3 118.0,129.8 118.9,130.0 C119.9,130.2 121.9,129.2 123.2,130.1 C124.5,130.9 125.8,134.5 126.8,135.3 C127.8,136.1 128.9,135.1 129.4,135.0" fill="none" stroke="#fbfbfb" stroke-width="1.2" stroke-linecap="round" stroke-linejoin="round" transform="translate(0.9 0.8)"/>
</g>
<path d="M29.2,99.3 C29.2,96.2 29.8,92.2 30.5,89.0 C31.2,85.8 32.2,82.6 33.5,80.0 C34.8,77.4 36.2,75.4 38.0,73.5 C39.8,71.6 42.2,69.9 44.0,68.5 C45.8,67.1 47.2,66.3 49.0,65.0 C50.8,63.6 52.5,61.6 54.7,60.4 C56.9,59.1 59.3,58.5 62.0,57.5 C64.7,56.5 68.3,55.5 71.1,54.3 C73.9,53.1 76.3,51.4 79.0,50.5 C81.7,49.6 84.9,49.9 87.4,49.2 C89.9,48.5 91.6,46.8 94.0,46.5 C96.4,46.2 99.2,47.1 101.7,47.2 C104.2,47.3 106.6,46.7 109.0,47.0 C111.4,47.3 113.7,48.4 116.0,49.2 C118.3,50.0 120.6,50.6 123.0,52.0 C125.4,53.4 128.2,55.6 130.4,57.4 C132.6,59.2 134.0,60.8 136.0,63.0 C138.0,65.2 140.8,68.2 142.6,70.7 C144.4,73.2 145.6,75.3 147.0,78.0 C148.4,80.7 149.8,84.3 150.8,87.0 C151.8,89.7 152.5,91.6 153.0,94.0 C153.5,96.4 154.0,99.1 153.9,101.3 C153.8,103.5 153.2,105.1 152.5,107.0 C151.8,108.9 150.9,110.8 149.5,112.5 C148.1,114.2 145.9,116.3 144.0,117.5 C142.1,118.7 140.2,119.3 138.0,119.8 C135.8,120.3 132.9,120.1 131.0,120.3 C129.1,120.5 128.1,120.4 126.3,120.7 C124.5,121.0 121.7,121.5 120.0,122.0 C118.3,122.5 117.5,122.9 116.0,123.8 C114.5,124.7 112.7,126.5 111.0,127.5 C109.3,128.5 107.8,129.2 105.8,129.9 C103.8,130.6 101.0,131.2 99.0,131.6 C97.0,131.9 95.6,131.8 93.6,132.0 C91.6,132.2 89.0,132.5 87.0,132.5 C85.0,132.5 83.5,132.3 81.3,132.0 C79.1,131.7 76.4,131.2 74.0,130.5 C71.6,129.8 68.8,128.9 67.0,127.9 C65.2,126.9 64.0,125.5 63.0,124.5 C62.0,123.5 62.1,122.4 60.9,121.7 C59.7,121.0 57.7,120.6 56.0,120.3 C54.3,120.0 52.9,120.1 50.7,119.7 C48.5,119.3 45.4,118.7 43.0,118.0 C40.6,117.3 38.1,116.7 36.4,115.6 C34.6,114.5 33.5,112.9 32.5,111.5 C31.5,110.1 30.8,109.4 30.2,107.4 C29.6,105.4 29.1,102.4 29.2,99.3Z" fill="none" stroke="#d0d0d0" stroke-width="1.1"/>
<line x1="67.00" y1="65.50" x2="102.80" y2="62.10" stroke="#262626" stroke-width="0.72"/>
<line x1="67.00" y1="65.50" x2="81.70" y2="83.50" stroke="#262626" stroke-width="0.72"/>
<line x1="102.80" y1="62.10" x2="43.50" y2="86.00" stroke="#262626" stroke-width="0.72"/>
<line x1="102.80" y1="62.10" x2="81.70" y2="83.50" stroke="#262626" stroke-width="0.72"/>
<line x1="102.80" y1="62.10" x2="127.90" y2="78.40" stroke="#262626" stroke-width="0.72"/>
<line x1="102.80" y1="62.10" x2="102.80" y2="94.80" stroke="#262626" stroke-width="0.72"/>
<line x1="102.80" y1="62.10" x2="113.60" y2="111.90" stroke="#262626" stroke-width="0.72"/>
<line x1="43.50" y1="86.00" x2="81.70" y2="83.50" stroke="#262626" stroke-width="0.72"/>
<line x1="43.50" y1="86.00" x2="42.10" y2="109.50" stroke="#262626" stroke-width="0.72"/>
<line x1="43.50" y1="86.00" x2="78.20" y2="123.80" stroke="#262626" stroke-width="0.72"/>
<line x1="81.70" y1="83.50" x2="140.60" y2="98.20" stroke="#262626" stroke-width="0.72"/>
<line x1="81.70" y1="83.50" x2="113.60" y2="111.90" stroke="#262626" stroke-width="0.72"/>
<line x1="81.70" y1="83.50" x2="78.20" y2="123.80" stroke="#262626" stroke-width="0.72"/>
<line x1="42.10" y1="109.50" x2="102.80" y2="94.80" stroke="#262626" stroke-width="0.72"/>
<line x1="42.10" y1="109.50" x2="78.20" y2="123.80" stroke="#262626" stroke-width="0.72"/>
<line x1="78.20" y1="123.80" x2="102.80" y2="94.80" stroke="#262626" stroke-width="0.72"/>
<line x1="78.20" y1="123.80" x2="113.60" y2="111.90" stroke="#262626" stroke-width="0.72"/>
<line x1="127.90" y1="78.40" x2="140.60" y2="98.20" stroke="#262626" stroke-width="0.72"/>
<line x1="127.90" y1="78.40" x2="102.80" y2="94.80" stroke="#262626" stroke-width="0.72"/>
<line x1="113.60" y1="111.90" x2="140.60" y2="98.20" stroke="#262626" stroke-width="0.72"/>
<line x1="102.80" y1="94.80" x2="140.60" y2="98.20" stroke="#262626" stroke-width="0.72"/>
<line x1="43.50" y1="86.00" x2="102.80" y2="94.80" stroke="#262626" stroke-width="0.72"/>
<g opacity="0.95"><line x1="93.6" y1="60.4" x2="75.3" y2="60.4" stroke="#f6c24e" stroke-width="1.4"/><path d="M71.1,60.4 L77.1,57.4 L75.3,60.4 L77.1,63.4 Z" fill="#f6c24e"/></g>
<g opacity="0.95"><line x1="110.0" y1="62.5" x2="121.5" y2="68.7" stroke="#f6c24e" stroke-width="1.4"/><path d="M125.2,70.7 L118.5,70.5 L121.5,68.7 L121.3,65.2 Z" fill="#f6c24e"/></g>
<g opacity="0.95"><line x1="99.7" y1="70.7" x2="100.5" y2="84.8" stroke="#f6c24e" stroke-width="1.4"/><path d="M100.7,89.0 L97.4,83.2 L100.5,84.8 L103.4,82.8 Z" fill="#f6c24e"/></g>
<g opacity="0.95"><line x1="111.0" y1="74.7" x2="116.1" y2="98.2" stroke="#f6c24e" stroke-width="1.4"/><path d="M117.0,102.3 L112.8,97.1 L116.1,98.2 L118.7,95.8 Z" fill="#f6c24e"/></g>
<g opacity="0.95"><line x1="65.0" y1="71.7" x2="72.2" y2="78.9" stroke="#f6c24e" stroke-width="1.4"/><path d="M75.2,81.9 L68.8,79.8 L72.2,78.9 L73.1,75.5 Z" fill="#f6c24e"/></g>
<g opacity="0.95"><line x1="76.2" y1="88.6" x2="53.8" y2="89.9" stroke="#f6c24e" stroke-width="1.4"/><path d="M49.6,90.1 L55.4,86.8 L53.8,89.9 L55.8,92.8 Z" fill="#f6c24e"/></g>
<g opacity="0.95"><line x1="83.4" y1="92.1" x2="80.8" y2="112.4" stroke="#f6c24e" stroke-width="1.4"/><path d="M80.3,116.6 L78.1,110.3 L80.8,112.4 L84.0,111.0 Z" fill="#f6c24e"/></g>
<g opacity="0.95"><line x1="102.8" y1="101.3" x2="88.3" y2="116.6" stroke="#f6c24e" stroke-width="1.4"/><path d="M85.4,119.7 L87.3,113.3 L88.3,116.6 L91.7,117.4 Z" fill="#f6c24e"/></g>
<g opacity="0.95"><line x1="38.4" y1="91.1" x2="38.4" y2="100.2" stroke="#f6c24e" stroke-width="1.4"/><path d="M38.4,104.4 L35.4,98.4 L38.4,100.2 L41.4,98.4 Z" fill="#f6c24e"/></g>
<g opacity="0.95"><line x1="136.5" y1="79.9" x2="139.4" y2="89.1" stroke="#f6c24e" stroke-width="1.4"/><path d="M140.6,93.1 L136.0,88.3 L139.4,89.1 L141.7,86.5 Z" fill="#f6c24e"/></g>
<path d="M88.9,29.6 L102.3,29.6 L102.3,53" fill="none" stroke="#f6c24e" stroke-width="1.3"/>
<g><line x1="102.3" y1="50.0" x2="102.3" y2="54.1" stroke="#f6c24e" stroke-width="1.3"/><path d="M102.3,58.0 L99.6,52.5 L102.3,54.1 L105.0,52.5 Z" fill="#f6c24e"/></g>
<g><line x1="35.3" y1="82.3" x2="23.2" y2="79.1" stroke="#e8402a" stroke-width="1.3"/><path d="M18.5,77.9 L26.1,76.6 L23.2,79.1 L24.5,82.8 Z" fill="#e8402a"/></g>
<g><line x1="33.6" y1="114.2" x2="20.9" y2="117.1" stroke="#e8402a" stroke-width="1.3"/><path d="M16.1,118.2 L22.2,113.5 L20.9,117.1 L23.6,119.8 Z" fill="#e8402a"/></g>
<g><line x1="78.2" y1="129.3" x2="78.2" y2="142.8" stroke="#e8402a" stroke-width="1.3"/><path d="M78.2,147.7 L75.0,140.7 L78.2,142.8 L81.4,140.7 Z" fill="#e8402a"/></g>
<g><line x1="134.3" y1="73.2" x2="149.0" y2="69.9" stroke="#e8402a" stroke-width="1.3"/><path d="M153.8,68.8 L147.7,73.5 L149.0,69.9 L146.3,67.2 Z" fill="#e8402a"/></g>
<g><line x1="147.7" y1="99.1" x2="162.0" y2="99.1" stroke="#e8402a" stroke-width="1.3"/><path d="M166.9,99.1 L159.9,102.3 L162.0,99.1 L159.9,95.9 Z" fill="#e8402a"/></g>
<g><line x1="119.2" y1="115.8" x2="132.9" y2="119.1" stroke="#e8402a" stroke-width="1.3"/><path d="M137.7,120.2 L130.1,121.7 L132.9,119.1 L131.6,115.5 Z" fill="#e8402a"/></g>
<circle cx="67.00" cy="65.50" r="3.70" fill="url(#ng)"/>
<circle cx="102.80" cy="62.10" r="3.90" fill="url(#ng)"/>
<circle cx="81.70" cy="83.50" r="4.30" fill="url(#ng)"/>
<circle cx="43.50" cy="86.00" r="5.30" fill="url(#ng)"/>
<circle cx="127.90" cy="78.40" r="4.80" fill="url(#ng)"/>
<circle cx="102.80" cy="94.80" r="3.90" fill="url(#ng)"/>
<circle cx="140.60" cy="98.20" r="5.30" fill="url(#ng)"/>
<circle cx="42.10" cy="109.50" r="5.30" fill="url(#ng)"/>
<circle cx="113.60" cy="111.90" r="3.90" fill="url(#ng)"/>
<circle cx="78.20" cy="123.80" r="3.80" fill="url(#ng)"/>
<text x="29.50" y="22.20" font-size="10.2" fill="#fbc353" font-weight="bold" textLength="65.3" lengthAdjust="spacingAndGlyphs">Input signal</text>
<text x="164.40" y="94.50" font-size="10" fill="#e8402a" textLength="63.8" lengthAdjust="spacingAndGlyphs" stroke="#e8402a" stroke-width="0.16">Output signal</text>
<path d="M26.4,38.4 L28.2,31.9 L30.5,28.8 L31.7,31.3 L32.3,44.2 L34.0,36.0 L35.8,30.8 L37.5,41.9 L39.3,34.8 L40.8,39.5 L42.2,36.0 L43.9,37.2 L45.1,41.3 L46.9,36.0 L48.6,41.3 L50.1,35.4 L50.9,44.2 L52.9,35.4 L54.8,40.7 L56.8,36.0 L58.5,42.4 L60.3,37.2 L62.0,41.3 L64.1,36.6 L66.1,45.4 L68.8,34.8 L71.4,40.7 L73.7,36.0 L76.1,41.9 L78.4,36.0 L80.1,40.7 L83.1,33.7 L86.6,40.7" fill="none" stroke="#f6c24e" stroke-width="0.8" stroke-linejoin="round"/>
<path d="M163.6,109.6 L167.7,105.3 L169.7,114.7 L172.3,104.0 L174.8,100.4 L176.3,112.7 L178.9,107.0 L180.9,110.6 L183.5,106.5 L185.5,112.7 L187.6,107.0 L189.1,113.2 L191.2,106.5 L193.2,112.1 L195.3,109.1 L197.3,111.6 L198.8,106.5 L200.4,111.1 L201.9,108.1 L205.0,114.7 L207.0,106.0 L210.1,115.7 L213.1,105.0 L215.7,108.6 L219.8,101.4 L223.4,110.1" fill="none" stroke="#e8402a" stroke-width="0.75" stroke-linejoin="round"/>
<text x="239.40" y="11.60" font-size="15.2" fill="#111" font-weight="bold" textLength="17.3" lengthAdjust="spacingAndGlyphs">B)</text>
<path d="M254.3,42.3 L255.7,56.5 L256.6,56.0 L258.1,50.3 L259.5,46.5 L260.4,43.7 L261.4,45.1 L262.3,55.6 L264.0,51.3 L265.2,53.2 L266.6,48.4 L268.0,49.4 L269.0,51.3 L270.4,53.7 L271.3,51.8 L272.8,56.5 L273.7,52.2 L274.7,55.1 L275.8,47.5 L277.0,55.1 L278.5,51.8 L279.9,52.7 L281.3,51.8 L282.3,53.2 L283.7,49.4 L284.9,54.6 L286.1,52.2 L287.5,57.5 L288.9,52.7 L290.8,48.0 L292.7,50.8 L294.6,54.1 L297.0,47.5 L300.3,54.1 L303.1,47.0 L306.5,52.2 L311.2,44.2" fill="none" stroke="#d03a62" stroke-width="0.8" stroke-linejoin="round"/>
<path d="M254.6,97.3 L255.5,90.2 L256.5,97.8 L257.6,94.0 L259.0,95.4 L260.4,96.3 L262.3,92.1 L263.8,95.9 L265.2,93.5 L267.3,99.7 L269.9,90.8 L273.2,95.9 L276.4,90.5 L279.9,96.3 L282.3,89.5 L284.6,96.3 L287.0,92.1 L288.4,94.9 L290.3,91.6 L291.7,94.9 L293.6,94.0 L295.1,96.8 L297.4,93.5 L299.3,96.3 L301.2,94.4 L303.1,93.0 L305.5,98.2 L307.4,93.5 L310.7,99.2" fill="none" stroke="#707070" stroke-width="0.85" stroke-linejoin="round"/>
<text x="319.40" y="53.80" font-size="9.8" fill="#c8264a" textLength="25" lengthAdjust="spacingAndGlyphs" stroke="#c8264a" stroke-width="0.16">τ = 1</text>
<text x="319.60" y="95.80" font-size="9.8" fill="#555" textLength="31.5" lengthAdjust="spacingAndGlyphs" stroke="#555" stroke-width="0.16">τ = 35</text>
<path d="M285.0 64.6h0M285.0 69.5h0M285.0 74.4h0" stroke="#111" stroke-width="2.20" stroke-linecap="round" fill="none"/>
<text x="257.40" y="120.80" font-size="9.7" fill="#333" textLength="63" lengthAdjust="spacingAndGlyphs" stroke="#333" stroke-width="0.16">Target signals</text>
<text x="365.50" y="11.80" font-size="15.2" fill="#111" font-weight="bold" textLength="18.1" lengthAdjust="spacingAndGlyphs">C)</text>
<path d="M409.7 101.6h0M460.4 116.2h0M449.9 109.4h0M412.6 85.7h0M444.9 65.7h0M498.5 96.7h0M492.0 65.9h0M479.9 122.7h0M439.2 116.5h0M496.0 104.6h0M431.4 49.8h0M423.3 40.8h0M470.6 41.8h0M478.4 35.8h0M487.7 85.5h0M489.9 97.6h0M441.8 63.0h0M419.4 49.3h0M487.8 108.5h0M464.6 63.7h0M481.3 44.9h0M431.3 75.3h0M499.5 53.3h0M470.3 88.1h0M469.3 57.3h0M457.6 105.5h0M413.8 76.6h0M454.8 104.8h0M440.6 86.8h0M441.1 90.1h0M450.0 116.2h0M495.0 68.2h0M497.6 39.6h0M483.9 41.8h0M450.2 90.7h0M459.3 93.2h0M460.4 115.1h0M418.2 73.3h0M429.5 91.0h0M443.3 57.4h0M418.7 47.2h0M469.3 84.3h0M472.8 94.2h0M479.1 75.1h0M453.7 109.4h0M490.0 68.0h0M401.1 90.9h0M471.0 68.4h0M490.4 55.8h0M458.4 57.6h0M469.3 62.8h0M450.0 123.0h0M488.5 60.3h0M440.9 89.3h0M408.9 37.1h0M450.7 58.2h0M445.5 68.2h0M491.4 104.1h0M418.1 62.7h0M491.0 112.0h0M473.7 50.2h0M466.1 57.3h0M467.5 66.7h0M453.2 91.3h0M402.2 38.5h0M425.1 98.6h0M462.2 76.1h0M483.4 43.7h0M451.9 63.4h0M420.4 74.4h0M482.1 27.6h0M440.1 73.6h0M489.5 75.3h0M480.3 60.6h0M441.7 92.0h0M497.3 121.1h0M446.6 56.4h0M463.6 122.9h0M443.5 100.6h0M432.0 99.3h0M461.4 33.2h0M431.0 92.6h0M425.7 63.9h0M431.2 90.6h0M478.4 75.0h0M499.1 27.7h0M448.9 97.9h0M421.9 71.1h0M406.7 29.0h0M438.8 106.1h0M481.3 57.3h0M454.6 25.7h0M409.6 118.1h0M475.7 61.5h0M431.0 87.8h0M439.0 98.5h0M416.1 104.5h0M441.6 90.9h0M451.2 67.0h0M461.3 56.4h0M407.6 120.1h0M480.7 87.8h0M443.9 98.7h0M472.6 86.5h0M441.4 67.1h0M459.9 33.5h0M439.2 43.6h0M458.9 117.0h0M463.5 94.8h0M405.0 106.6h0M405.7 112.3h0M429.0 53.5h0M420.8 125.6h0M493.8 54.1h0M467.2 113.6h0M427.8 36.1h0M478.7 87.3h0M500.9 88.0h0M417.6 114.7h0M469.2 48.6h0M440.8 85.9h0M473.0 45.1h0M434.1 120.1h0M475.8 29.9h0M408.0 84.6h0M452.5 90.0h0M416.0 107.3h0M499.5 72.9h0M487.1 94.4h0M455.0 45.5h0M500.2 77.2h0M484.8 65.7h0M444.9 59.6h0M445.8 59.5h0M423.1 114.9h0M490.3 40.4h0M462.7 119.9h0M477.1 110.8h0M473.5 71.5h0M429.5 96.6h0M434.9 24.3h0M443.5 58.9h0M448.2 38.6h0M487.7 91.8h0M448.9 109.0h0M419.5 125.6h0M444.7 70.4h0M442.8 57.5h0M423.0 96.8h0M450.7 67.6h0M430.3 109.3h0M470.7 94.6h0M414.8 124.0h0M469.2 28.9h0M416.2 40.9h0M419.8 23.6h0M445.5 104.8h0M495.1 79.8h0M427.0 73.8h0M434.8 94.5h0M452.2 40.7h0M443.3 25.5h0M433.6 113.9h0M497.0 59.3h0M449.7 72.2h0M415.0 122.4h0M462.6 71.3h0M470.4 60.6h0M466.7 104.1h0M467.0 64.4h0M428.3 111.4h0M489.7 98.5h0M465.9 29.4h0M434.3 50.0h0M468.1 113.8h0M437.8 47.2h0M448.2 91.6h0M433.7 36.0h0M432.6 57.3h0M498.5 97.1h0M496.3 36.1h0M473.5 125.2h0M443.3 50.0h0M416.8 79.1h0M467.1 106.3h0M478.7 27.1h0M430.2 66.7h0M495.1 65.8h0M431.4 51.5h0M451.5 86.8h0M455.1 58.3h0M473.1 68.1h0M496.3 73.5h0M467.1 73.1h0M446.1 67.8h0M476.3 83.1h0M456.4 67.5h0M430.8 82.6h0M449.0 83.5h0M490.2 26.6h0M439.9 99.7h0M471.6 95.0h0M444.1 86.8h0M497.8 121.4h0M487.6 103.4h0M446.6 48.3h0M423.5 90.2h0M437.8 124.2h0M414.9 91.1h0M447.9 91.1h0M486.0 109.6h0M458.5 36.8h0M450.6 67.8h0M416.8 30.4h0M424.8 61.4h0M423.7 115.1h0M476.2 66.8h0M451.0 79.8h0M498.3 56.9h0M468.2 63.3h0M435.4 123.0h0M426.4 62.4h0M473.2 83.8h0M468.4 71.1h0M500.1 76.6h0M464.6 86.2h0M467.8 93.5h0M440.4 61.8h0M485.6 56.8h0M478.2 65.7h0M432.9 101.8h0M455.1 35.2h0M423.1 36.2h0M413.6 47.3h0M419.3 91.3h0M420.1 63.6h0M455.1 107.1h0M456.1 55.2h0M433.6 50.4h0M448.4 85.5h0M414.7 95.6h0M462.4 83.2h0M486.8 103.6h0M439.1 54.9h0M444.8 105.9h0M426.2 116.0h0M466.7 86.2h0M496.8 46.3h0M403.0 118.8h0M461.8 39.1h0M426.0 117.0h0M483.2 40.6h0M464.2 93.6h0M455.1 47.2h0M496.2 65.2h0M430.0 75.7h0M461.6 62.2h0M417.6 52.3h0M494.1 28.7h0M437.5 33.6h0M479.8 33.2h0M445.7 103.6h0M463.4 29.9h0M426.6 87.5h0M455.7 29.5h0M434.2 97.6h0M409.7 78.9h0M494.6 68.4h0M434.8 65.5h0M467.2 28.2h0M415.0 108.2h0M500.4 64.5h0M429.4 100.9h0M490.5 79.8h0M466.5 45.9h0M470.7 29.3h0M426.8 89.1h0M432.2 117.9h0M461.7 120.5h0M478.5 117.0h0M418.6 71.2h0M409.6 104.5h0M498.5 88.6h0M456.2 79.5h0M411.1 67.1h0M457.8 27.3h0M502.1 104.1h0M432.9 31.2h0M450.5 87.1h0M420.9 106.2h0M478.9 47.3h0M454.1 67.1h0M472.7 74.5h0M466.7 116.1h0M502.5 37.6h0M409.8 76.4h0M447.1 94.6h0M456.0 83.2h0M431.4 64.1h0M481.5 42.5h0M403.4 99.5h0M458.0 81.8h0M499.8 100.2h0M484.3 38.6h0M421.4 60.6h0M404.1 105.4h0M463.7 100.4h0M452.2 111.0h0M475.8 64.0h0M479.1 99.9h0M430.9 61.1h0M462.4 39.2h0M500.9 102.6h0M425.4 79.4h0M491.6 39.9h0M490.0 36.6h0M477.5 110.1h0M446.7 56.0h0M418.5 31.7h0M494.1 35.7h0M448.5 120.0h0M486.7 29.6h0M444.1 87.2h0M444.2 27.5h0M434.4 117.9h0M454.2 80.2h0M490.8 27.8h0M409.2 112.3h0M455.7 66.9h0M419.0 73.8h0M421.3 99.8h0M494.8 28.1h0M449.7 84.3h0M492.7 51.8h0M426.7 98.9h0M426.7 115.9h0M411.4 95.4h0M456.6 43.4h0M491.4 57.6h0M483.6 27.9h0M447.5 125.7h0M414.2 119.4h0M445.3 100.1h0M478.5 57.9h0M419.9 86.9h0M484.4 39.9h0M447.1 107.8h0M487.0 114.9h0M499.3 80.9h0M499.3 52.0h0M476.8 120.1h0M437.0 69.1h0M460.3 85.1h0M483.3 55.7h0M435.8 122.5h0M484.7 41.3h0M451.5 100.6h0M447.3 45.7h0M488.2 68.8h0M417.8 112.0h0M401.5 65.0h0M477.9 46.5h0M494.5 69.4h0M471.7 75.4h0M449.8 30.3h0M412.5 70.5h0M403.7 125.7h0M461.5 48.9h0M457.4 38.7h0M402.7 125.5h0M438.2 105.6h0M419.4 119.5h0M447.6 79.7h0M429.1 42.7h0M446.7 97.1h0M433.9 97.8h0M451.1 39.7h0M484.9 92.6h0M419.0 78.9h0M452.5 88.6h0M424.4 90.2h0M431.1 50.8h0M482.7 87.4h0M421.9 57.3h0M502.3 28.6h0M418.5 96.3h0M482.7 34.5h0M480.4 79.1h0M427.2 68.8h0M468.0 81.9h0M499.8 123.9h0M487.0 125.8h0M474.1 103.2h0M411.4 116.2h0M435.8 37.5h0M401.7 98.6h0M437.2 62.3h0M425.2 110.1h0M432.2 94.8h0M415.3 123.8h0M468.8 61.4h0M486.1 119.5h0M463.7 61.1h0M428.4 84.6h0M502.3 115.6h0M441.6 100.1h0M406.5 51.5h0M426.3 122.6h0M500.8 112.4h0M457.6 101.9h0M479.3 89.5h0M438.0 44.7h0M468.8 32.9h0M462.3 57.3h0M405.4 100.8h0M501.6 103.5h0M484.7 109.0h0M441.2 67.5h0M458.8 80.9h0M498.4 119.6h0M464.2 74.5h0M492.3 59.9h0M404.4 96.9h0M439.9 41.3h0M408.8 104.8h0M411.0 121.0h0M502.2 61.4h0M475.8 33.8h0M499.4 101.3h0M494.0 117.3h0M460.1 50.3h0M458.8 100.5h0M464.8 30.2h0M501.2 85.0h0M475.5 115.2h0M485.8 113.8h0M443.2 107.3h0M415.2 30.7h0M476.2 107.2h0M494.2 90.5h0M413.1 105.7h0M472.6 63.6h0M465.8 32.9h0M481.6 80.0h0M492.8 97.6h0M423.0 80.1h0M490.7 33.1h0M481.7 43.9h0M476.2 103.0h0M467.5 51.7h0M484.3 73.7h0M432.8 120.0h0M420.9 44.7h0M497.5 106.7h0M470.0 78.6h0M455.6 57.7h0M499.6 113.5h0M500.0 42.7h0M481.5 61.1h0M472.2 113.2h0M436.8 119.3h0M439.3 124.3h0M444.7 109.5h0M413.4 46.6h0M485.5 48.1h0M458.0 99.2h0M437.4 85.2h0M430.3 63.2h0M428.3 118.2h0M469.4 47.7h0M491.6 95.3h0M459.7 77.7h0M440.2 104.9h0M419.0 81.7h0M417.3 100.9h0M464.2 31.3h0M458.4 25.3h0M454.1 76.4h0M419.0 96.1h0M408.2 33.3h0M481.4 60.8h0M448.1 55.2h0M480.2 67.0h0M476.4 87.2h0M407.0 86.3h0M408.1 31.5h0M480.2 109.2h0M417.3 98.7h0M408.7 103.7h0M494.1 34.1h0M452.2 86.5h0M430.9 99.7h0M445.4 123.1h0M474.0 100.3h0M500.4 45.0h0M463.1 52.3h0M441.8 99.3h0M405.4 37.5h0M455.3 69.1h0M452.2 80.5h0M439.5 67.3h0M423.8 125.3h0M437.1 56.5h0M457.5 82.7h0M405.3 51.7h0M427.2 52.2h0M419.4 103.8h0M461.8 108.1h0M444.9 53.4h0M467.4 54.2h0M453.8 42.5h0M488.8 70.0h0M464.7 52.9h0M476.7 88.5h0M427.0 46.0h0M480.3 59.2h0M406.1 88.8h0M454.2 89.7h0M431.1 124.1h0M405.8 26.1h0M468.1 52.8h0M405.1 100.3h0M478.7 79.2h0M408.4 108.7h0M428.4 82.6h0M428.3 27.8h0M499.8 77.2h0M501.5 87.7h0M438.4 113.0h0M430.5 44.3h0M401.7 60.1h0M408.8 120.3h0M499.9 68.6h0M423.2 104.3h0M435.2 56.2h0M442.6 52.9h0M501.4 34.7h0M436.2 62.2h0M483.4 47.5h0M415.3 123.6h0M469.2 106.3h0M489.2 39.2h0M411.3 94.0h0M434.6 112.2h0M483.3 27.5h0M449.8 88.8h0M464.4 56.6h0M482.2 106.4h0M455.8 112.1h0M420.0 59.9h0M414.5 30.4h0M468.2 58.9h0M490.9 102.6h0M475.6 51.7h0M430.6 38.1h0M446.2 123.2h0M490.3 28.9h0M484.4 47.9h0M485.7 58.6h0M442.7 56.2h0M403.4 118.6h0M407.4 108.0h0M419.0 42.3h0M431.8 124.3h0M434.0 96.5h0M485.1 46.5h0M487.3 35.4h0M442.8 97.5h0M422.1 106.3h0M413.8 95.2h0M408.8 119.3h0M418.8 115.7h0M496.6 27.0h0M475.0 94.0h0M438.7 57.5h0M429.6 112.5h0M424.5 63.2h0M425.1 65.1h0M482.4 43.5h0M426.3 97.0h0M463.1 81.7h0M405.2 116.7h0M415.2 51.1h0M453.4 63.3h0M449.4 97.9h0M413.6 92.8h0M439.0 53.0h0M477.5 64.4h0M446.0 55.6h0M487.8 58.1h0M404.5 84.6h0M473.1 54.2h0M433.7 122.2h0M443.9 85.0h0M422.7 48.1h0M464.3 103.6h0M438.0 60.0h0M471.7 56.2h0M402.3 125.5h0M478.4 71.0h0M405.5 93.7h0M472.6 50.1h0M468.2 39.4h0M473.7 53.8h0M448.0 92.7h0M437.8 100.4h0M451.9 81.3h0M407.9 116.2h0M404.9 34.8h0M429.8 37.0h0M457.1 82.1h0M415.2 63.8h0M407.6 44.6h0M501.0 89.1h0M429.2 116.3h0M471.9 119.1h0M487.7 47.7h0M439.4 77.1h0M416.2 91.4h0M487.8 44.3h0M437.0 86.5h0M473.6 103.9h0M471.9 33.3h0M497.6 38.7h0M442.2 87.1h0M470.3 111.0h0M478.8 119.9h0M469.9 48.6h0M497.9 86.0h0M459.3 33.6h0M406.2 123.8h0M444.2 34.8h0M475.7 40.1h0M432.3 120.4h0M462.8 35.8h0M460.7 72.1h0M499.2 54.9h0M488.4 102.4h0M456.3 104.2h0M443.4 74.9h0M421.2 121.0h0M440.9 59.2h0M461.1 52.7h0M406.7 80.4h0M427.7 111.9h0M487.5 48.7h0M405.5 63.2h0M433.3 78.0h0M451.1 116.5h0M432.1 114.9h0M496.5 52.5h0M445.3 64.0h0M474.3 79.1h0M404.4 64.1h0M401.9 111.5h0M474.0 103.1h0M468.0 67.3h0M411.0 87.3h0M429.2 69.1h0M456.5 39.8h0M434.4 51.2h0M467.4 45.1h0M433.5 109.2h0M486.3 27.7h0M458.8 113.8h0M468.6 27.9h0M443.2 114.2h0M435.6 108.8h0M460.6 80.9h0M430.8 90.3h0M437.8 56.4h0M410.7 118.9h0M424.5 105.7h0M449.7 98.9h0M480.0 79.0h0M434.0 119.4h0M403.6 58.7h0M410.3 51.5h0M417.5 100.6h0M493.4 87.5h0M470.5 58.2h0M474.7 61.6h0M486.4 52.3h0M445.4 41.9h0M402.0 72.1h0M446.3 88.2h0M471.1 24.9h0M404.2 115.5h0M475.3 33.1h0M411.9 56.2h0M447.7 103.3h0M468.1 83.0h0M476.4 31.2h0M476.8 84.7h0M501.0 64.6h0M411.9 119.4h0M437.3 96.2h0M404.9 68.0h0M482.2 35.8h0M456.7 91.9h0M438.3 29.6h0M402.6 123.4h0M482.3 86.4h0M487.2 32.9h0M423.2 26.0h0M478.3 70.7h0M471.4 89.8h0M444.2 49.9h0M485.1 50.5h0M413.2 82.0h0M406.4 79.5h0M403.8 79.7h0M492.0 59.4h0M498.7 39.1h0M440.5 102.2h0M443.3 113.8h0M427.2 36.7h0M456.7 51.7h0M404.9 83.0h0M480.6 44.2h0M424.7 113.0h0M410.0 41.0h0M421.5 34.7h0M410.4 75.5h0M443.5 27.4h0M470.7 32.4h0M462.1 28.7h0M413.6 70.9h0M451.1 105.0h0M450.9 57.2h0M450.4 54.0h0M486.3 74.8h0M490.3 65.3h0M449.4 77.8h0M476.5 23.5h0M404.1 42.6h0M497.2 98.9h0M479.4 63.4h0M426.5 79.4h0M486.2 49.5h0M482.0 55.5h0M415.1 71.4h0M499.1 106.6h0M433.1 64.6h0M422.1 64.7h0M443.7 35.8h0M426.3 97.9h0M408.8 41.2h0M408.8 117.2h0M450.4 100.7h0M453.1 40.3h0M405.0 96.2h0M480.4 43.5h0M421.8 99.7h0M425.1 67.1h0M476.8 121.4h0M425.7 41.1h0M477.0 100.1h0M484.3 42.6h0M465.1 89.2h0M448.9 86.7h0M491.1 86.4h0M501.4 77.4h0M450.0 69.8h0M462.9 96.1h0M404.0 99.3h0M477.9 86.4h0M438.3 95.4h0M472.6 62.9h0M462.3 37.4h0M485.0 50.5h0M501.0 38.9h0M472.1 45.1h0M481.0 50.6h0M486.8 33.8h0M404.4 111.3h0M426.4 114.2h0M447.0 56.0h0M452.9 91.6h0M410.7 69.3h0M418.6 114.1h0M454.4 49.1h0M500.8 86.4h0M414.7 96.4h0M454.8 121.5h0M431.3 35.4h0M456.4 48.7h0M475.1 103.0h0M423.4 79.2h0M465.2 75.7h0M446.6 119.1h0M460.8 46.6h0M484.1 101.2h0M462.7 85.0h0M457.0 104.6h0M439.3 70.4h0M464.1 51.4h0M434.6 105.7h0M497.3 46.1h0M458.5 29.9h0M484.8 121.5h0M476.6 115.4h0M453.6 95.5h0M494.6 52.0h0M494.9 25.2h0M446.5 97.6h0M485.6 34.7h0M502.2 62.8h0M475.3 54.6h0M460.5 92.0h0M484.4 97.4h0M488.2 43.1h0M434.7 84.4h0M446.8 89.7h0M465.2 119.1h0M494.4 63.6h0M408.0 109.2h0M406.8 61.8h0M479.6 78.6h0M429.2 27.8h0" stroke="#9c9c9c" stroke-width="1.90" stroke-linecap="round" fill="none"/>
<path d="M409.7 101.6h0M460.4 116.2h0M449.9 109.4h0M412.6 85.7h0M444.9 65.7h0M498.5 96.7h0M492.0 65.9h0M479.9 122.7h0M439.2 116.5h0M496.0 104.6h0M431.4 49.8h0M423.3 40.8h0M470.6 41.8h0M478.4 35.8h0M487.7 85.5h0M489.9 97.6h0M441.8 63.0h0M419.4 49.3h0M487.8 108.5h0M464.6 63.7h0M481.3 44.9h0M431.3 75.3h0M499.5 53.3h0M470.3 88.1h0M469.3 57.3h0M457.6 105.5h0M413.8 76.6h0M454.8 104.8h0M440.6 86.8h0M441.1 90.1h0M450.0 116.2h0M495.0 68.2h0M497.6 39.6h0M483.9 41.8h0M450.2 90.7h0M459.3 93.2h0M460.4 115.1h0M418.2 73.3h0M429.5 91.0h0M443.3 57.4h0M418.7 47.2h0M469.3 84.3h0M472.8 94.2h0M479.1 75.1h0M453.7 109.4h0M490.0 68.0h0M401.1 90.9h0M471.0 68.4h0M490.4 55.8h0M458.4 57.6h0M469.3 62.8h0M450.0 123.0h0M488.5 60.3h0M440.9 89.3h0M408.9 37.1h0M450.7 58.2h0M445.5 68.2h0M491.4 104.1h0M418.1 62.7h0M491.0 112.0h0M473.7 50.2h0M466.1 57.3h0M467.5 66.7h0M453.2 91.3h0M402.2 38.5h0M425.1 98.6h0M462.2 76.1h0M483.4 43.7h0M451.9 63.4h0M420.4 74.4h0M482.1 27.6h0M440.1 73.6h0M489.5 75.3h0M480.3 60.6h0M441.7 92.0h0M497.3 121.1h0M446.6 56.4h0M463.6 122.9h0M443.5 100.6h0M432.0 99.3h0M461.4 33.2h0M431.0 92.6h0M425.7 63.9h0M431.2 90.6h0M478.4 75.0h0M499.1 27.7h0M448.9 97.9h0M421.9 71.1h0M406.7 29.0h0M438.8 106.1h0M481.3 57.3h0M454.6 25.7h0M409.6 118.1h0M475.7 61.5h0M431.0 87.8h0M439.0 98.5h0M416.1 104.5h0M441.6 90.9h0M451.2 67.0h0M461.3 56.4h0M407.6 120.1h0M480.7 87.8h0M443.9 98.7h0M472.6 86.5h0M441.4 67.1h0M459.9 33.5h0M439.2 43.6h0M458.9 117.0h0M463.5 94.8h0M405.0 106.6h0M405.7 112.3h0M429.0 53.5h0M420.8 125.6h0M493.8 54.1h0M467.2 113.6h0M427.8 36.1h0M478.7 87.3h0M500.9 88.0h0M417.6 114.7h0M469.2 48.6h0M440.8 85.9h0M473.0 45.1h0M434.1 120.1h0M475.8 29.9h0M408.0 84.6h0M452.5 90.0h0M416.0 107.3h0M499.5 72.9h0M487.1 94.4h0M455.0 45.5h0M500.2 77.2h0M484.8 65.7h0M444.9 59.6h0M445.8 59.5h0M423.1 114.9h0M490.3 40.4h0M462.7 119.9h0M477.1 110.8h0M473.5 71.5h0M429.5 96.6h0M434.9 24.3h0M443.5 58.9h0M448.2 38.6h0M487.7 91.8h0M448.9 109.0h0M419.5 125.6h0M444.7 70.4h0M442.8 57.5h0M423.0 96.8h0M450.7 67.6h0M430.3 109.3h0M470.7 94.6h0M414.8 124.0h0M469.2 28.9h0M416.2 40.9h0M419.8 23.6h0M445.5 104.8h0M495.1 79.8h0M427.0 73.8h0M434.8 94.5h0M452.2 40.7h0M443.3 25.5h0M433.6 113.9h0M497.0 59.3h0M449.7 72.2h0M415.0 122.4h0M462.6 71.3h0M470.4 60.6h0M466.7 104.1h0M467.0 64.4h0M428.3 111.4h0M489.7 98.5h0M465.9 29.4h0M434.3 50.0h0M468.1 113.8h0M437.8 47.2h0M448.2 91.6h0M433.7 36.0h0M432.6 57.3h0M498.5 97.1h0M496.3 36.1h0M473.5 125.2h0M443.3 50.0h0M416.8 79.1h0M467.1 106.3h0M478.7 27.1h0M430.2 66.7h0M495.1 65.8h0M431.4 51.5h0M451.5 86.8h0M455.1 58.3h0M473.1 68.1h0M496.3 73.5h0M467.1 73.1h0M446.1 67.8h0M476.3 83.1h0M456.4 67.5h0M430.8 82.6h0M449.0 83.5h0M490.2 26.6h0M439.9 99.7h0M471.6 95.0h0M444.1 86.8h0M497.8 121.4h0M487.6 103.4h0M446.6 48.3h0M423.5 90.2h0M437.8 124.2h0M414.9 91.1h0M447.9 91.1h0M486.0 109.6h0M458.5 36.8h0M450.6 67.8h0M416.8 30.4h0M424.8 61.4h0M423.7 115.1h0M476.2 66.8h0M451.0 79.8h0M498.3 56.9h0M468.2 63.3h0M435.4 123.0h0M426.4 62.4h0M473.2 83.8h0M468.4 71.1h0M500.1 76.6h0M464.6 86.2h0M467.8 93.5h0M440.4 61.8h0M485.6 56.8h0M478.2 65.7h0M432.9 101.8h0M455.1 35.2h0M423.1 36.2h0M413.6 47.3h0M419.3 91.3h0M420.1 63.6h0M455.1 107.1h0M456.1 55.2h0M433.6 50.4h0M448.4 85.5h0M414.7 95.6h0M462.4 83.2h0M486.8 103.6h0M439.1 54.9h0M444.8 105.9h0M426.2 116.0h0M466.7 86.2h0M496.8 46.3h0M403.0 118.8h0M461.8 39.1h0M426.0 117.0h0M483.2 40.6h0M464.2 93.6h0M455.1 47.2h0M496.2 65.2h0M430.0 75.7h0M461.6 62.2h0M417.6 52.3h0M494.1 28.7h0M437.5 33.6h0M479.8 33.2h0M445.7 103.6h0M463.4 29.9h0M426.6 87.5h0M455.7 29.5h0M434.2 97.6h0M409.7 78.9h0M494.6 68.4h0M434.8 65.5h0M467.2 28.2h0M415.0 108.2h0M500.4 64.5h0M429.4 100.9h0M490.5 79.8h0M466.5 45.9h0M470.7 29.3h0M426.8 89.1h0M432.2 117.9h0M461.7 120.5h0M478.5 117.0h0M418.6 71.2h0M409.6 104.5h0M498.5 88.6h0M456.2 79.5h0M411.1 67.1h0M457.8 27.3h0M502.1 104.1h0M432.9 31.2h0M450.5 87.1h0M420.9 106.2h0M478.9 47.3h0M454.1 67.1h0M472.7 74.5h0M466.7 116.1h0M502.5 37.6h0M409.8 76.4h0M447.1 94.6h0M456.0 83.2h0M431.4 64.1h0M481.5 42.5h0M403.4 99.5h0M458.0 81.8h0M499.8 100.2h0M484.3 38.6h0M421.4 60.6h0M404.1 105.4h0M463.7 100.4h0M452.2 111.0h0M475.8 64.0h0M479.1 99.9h0M430.9 61.1h0M462.4 39.2h0M500.9 102.6h0M425.4 79.4h0M491.6 39.9h0M490.0 36.6h0M477.5 110.1h0M446.7 56.0h0M418.5 31.7h0M494.1 35.7h0M448.5 120.0h0M486.7 29.6h0M444.1 87.2h0M444.2 27.5h0M434.4 117.9h0M454.2 80.2h0M490.8 27.8h0M409.2 112.3h0M455.7 66.9h0M419.0 73.8h0M421.3 99.8h0M494.8 28.1h0M449.7 84.3h0M492.7 51.8h0M426.7 98.9h0M426.7 115.9h0M411.4 95.4h0M456.6 43.4h0M491.4 57.6h0M483.6 27.9h0M447.5 125.7h0M414.2 119.4h0M445.3 100.1h0M478.5 57.9h0M419.9 86.9h0M484.4 39.9h0M447.1 107.8h0M487.0 114.9h0M499.3 80.9h0M499.3 52.0h0M476.8 120.1h0M437.0 69.1h0M460.3 85.1h0M483.3 55.7h0M435.8 122.5h0M484.7 41.3h0M451.5 100.6h0M447.3 45.7h0M488.2 68.8h0M417.8 112.0h0M401.5 65.0h0M477.9 46.5h0M494.5 69.4h0M471.7 75.4h0M449.8 30.3h0M412.5 70.5h0M403.7 125.7h0M461.5 48.9h0M457.4 38.7h0M402.7 125.5h0M438.2 105.6h0M419.4 119.5h0M447.6 79.7h0M429.1 42.7h0M446.7 97.1h0M433.9 97.8h0M451.1 39.7h0M484.9 92.6h0M419.0 78.9h0M452.5 88.6h0M424.4 90.2h0M431.1 50.8h0M482.7 87.4h0M421.9 57.3h0M502.3 28.6h0M418.5 96.3h0M482.7 34.5h0M480.4 79.1h0M427.2 68.8h0M468.0 81.9h0M499.8 123.9h0M487.0 125.8h0M474.1 103.2h0M411.4 116.2h0M435.8 37.5h0M401.7 98.6h0M437.2 62.3h0M425.2 110.1h0M432.2 94.8h0M415.3 123.8h0M468.8 61.4h0M486.1 119.5h0M463.7 61.1h0M428.4 84.6h0M502.3 115.6h0M441.6 100.1h0M406.5 51.5h0M426.3 122.6h0M500.8 112.4h0M457.6 101.9h0M479.3 89.5h0M438.0 44.7h0M468.8 32.9h0M462.3 57.3h0M405.4 100.8h0M501.6 103.5h0M484.7 109.0h0M441.2 67.5h0M458.8 80.9h0M498.4 119.6h0M464.2 74.5h0M492.3 59.9h0M404.4 96.9h0M439.9 41.3h0M408.8 104.8h0M411.0 121.0h0M502.2 61.4h0M475.8 33.8h0M499.4 101.3h0M494.0 117.3h0M460.1 50.3h0M458.8 100.5h0M464.8 30.2h0M501.2 85.0h0M475.5 115.2h0M485.8 113.8h0M443.2 107.3h0M415.2 30.7h0M476.2 107.2h0M494.2 90.5h0M413.1 105.7h0M472.6 63.6h0M465.8 32.9h0M481.6 80.0h0M492.8 97.6h0M423.0 80.1h0M490.7 33.1h0M481.7 43.9h0M476.2 103.0h0M467.5 51.7h0M484.3 73.7h0M432.8 120.0h0M420.9 44.7h0M497.5 106.7h0M470.0 78.6h0M455.6 57.7h0M499.6 113.5h0M500.0 42.7h0M481.5 61.1h0M472.2 113.2h0M436.8 119.3h0M439.3 124.3h0M444.7 109.5h0M413.4 46.6h0M485.5 48.1h0M458.0 99.2h0M437.4 85.2h0M430.3 63.2h0M428.3 118.2h0M469.4 47.7h0M491.6 95.3h0M459.7 77.7h0M440.2 104.9h0M419.0 81.7h0M417.3 100.9h0M464.2 31.3h0M458.4 25.3h0M454.1 76.4h0M419.0 96.1h0M408.2 33.3h0M481.4 60.8h0M448.1 55.2h0M480.2 67.0h0M476.4 87.2h0M407.0 86.3h0M408.1 31.5h0M480.2 109.2h0M417.3 98.7h0M408.7 103.7h0M494.1 34.1h0M452.2 86.5h0M430.9 99.7h0M445.4 123.1h0M474.0 100.3h0M500.4 45.0h0M463.1 52.3h0M441.8 99.3h0M405.4 37.5h0M455.3 69.1h0M452.2 80.5h0M439.5 67.3h0M423.8 125.3h0M437.1 56.5h0M457.5 82.7h0M405.3 51.7h0M427.2 52.2h0M419.4 103.8h0M461.8 108.1h0M444.9 53.4h0M467.4 54.2h0M453.8 42.5h0M488.8 70.0h0M464.7 52.9h0M476.7 88.5h0M427.0 46.0h0M480.3 59.2h0M406.1 88.8h0M454.2 89.7h0M431.1 124.1h0M405.8 26.1h0M468.1 52.8h0M405.1 100.3h0M478.7 79.2h0M408.4 108.7h0M428.4 82.6h0M428.3 27.8h0M499.8 77.2h0M501.5 87.7h0M438.4 113.0h0M430.5 44.3h0M401.7 60.1h0M408.8 120.3h0M499.9 68.6h0M423.2 104.3h0M435.2 56.2h0M442.6 52.9h0M501.4 34.7h0M436.2 62.2h0M483.4 47.5h0M415.3 123.6h0M469.2 106.3h0M489.2 39.2h0M411.3 94.0h0M434.6 112.2h0M483.3 27.5h0M449.8 88.8h0M464.4 56.6h0M482.2 106.4h0M455.8 112.1h0M420.0 59.9h0M414.5 30.4h0M468.2 58.9h0M490.9 102.6h0M475.6 51.7h0M430.6 38.1h0M446.2 123.2h0M490.3 28.9h0M484.4 47.9h0M485.7 58.6h0M442.7 56.2h0M403.4 118.6h0M407.4 108.0h0M419.0 42.3h0M431.8 124.3h0M434.0 96.5h0M485.1 46.5h0M487.3 35.4h0M442.8 97.5h0M422.1 106.3h0M413.8 95.2h0M408.8 119.3h0M418.8 115.7h0M496.6 27.0h0M475.0 94.0h0M438.7 57.5h0M429.6 112.5h0M424.5 63.2h0M425.1 65.1h0M482.4 43.5h0M426.3 97.0h0M463.1 81.7h0M405.2 116.7h0M415.2 51.1h0M453.4 63.3h0M449.4 97.9h0M413.6 92.8h0M439.0 53.0h0M477.5 64.4h0M446.0 55.6h0M487.8 58.1h0M404.5 84.6h0M473.1 54.2h0M433.7 122.2h0M443.9 85.0h0M422.7 48.1h0M464.3 103.6h0M438.0 60.0h0M471.7 56.2h0M402.3 125.5h0M478.4 71.0h0M405.5 93.7h0M472.6 50.1h0M468.2 39.4h0M473.7 53.8h0M448.0 92.7h0M437.8 100.4h0M451.9 81.3h0M407.9 116.2h0M404.9 34.8h0M429.8 37.0h0M457.1 82.1h0M415.2 63.8h0M407.6 44.6h0M501.0 89.1h0M429.2 116.3h0M471.9 119.1h0M487.7 47.7h0M439.4 77.1h0M416.2 91.4h0M487.8 44.3h0M437.0 86.5h0M473.6 103.9h0M471.9 33.3h0M497.6 38.7h0M442.2 87.1h0M470.3 111.0h0M478.8 119.9h0M469.9 48.6h0M497.9 86.0h0M459.3 33.6h0M406.2 123.8h0M444.2 34.8h0M475.7 40.1h0M432.3 120.4h0M462.8 35.8h0M460.7 72.1h0M499.2 54.9h0M488.4 102.4h0M456.3 104.2h0M443.4 74.9h0M421.2 121.0h0M440.9 59.2h0M461.1 52.7h0M406.7 80.4h0M427.7 111.9h0M487.5 48.7h0M405.5 63.2h0M433.3 78.0h0M451.1 116.5h0M432.1 114.9h0M496.5 52.5h0M445.3 64.0h0M474.3 79.1h0M404.4 64.1h0M401.9 111.5h0M474.0 103.1h0M468.0 67.3h0M411.0 87.3h0M429.2 69.1h0M456.5 39.8h0M434.4 51.2h0M467.4 45.1h0M433.5 109.2h0M486.3 27.7h0M458.8 113.8h0M468.6 27.9h0M443.2 114.2h0M435.6 108.8h0M460.6 80.9h0M430.8 90.3h0M437.8 56.4h0M410.7 118.9h0M424.5 105.7h0M449.7 98.9h0M480.0 79.0h0M434.0 119.4h0M403.6 58.7h0M410.3 51.5h0M417.5 100.6h0M493.4 87.5h0M470.5 58.2h0M474.7 61.6h0M486.4 52.3h0M445.4 41.9h0M402.0 72.1h0M446.3 88.2h0M471.1 24.9h0M404.2 115.5h0M475.3 33.1h0M411.9 56.2h0M447.7 103.3h0M468.1 83.0h0M476.4 31.2h0M476.8 84.7h0M501.0 64.6h0M411.9 119.4h0M437.3 96.2h0M404.9 68.0h0M482.2 35.8h0M456.7 91.9h0M438.3 29.6h0M402.6 123.4h0M482.3 86.4h0M487.2 32.9h0M423.2 26.0h0M478.3 70.7h0M471.4 89.8h0M444.2 49.9h0M485.1 50.5h0M413.2 82.0h0M406.4 79.5h0M403.8 79.7h0M492.0 59.4h0M498.7 39.1h0M440.5 102.2h0M443.3 113.8h0M427.2 36.7h0M456.7 51.7h0M404.9 83.0h0M480.6 44.2h0M424.7 113.0h0M410.0 41.0h0M421.5 34.7h0M410.4 75.5h0M443.5 27.4h0M470.7 32.4h0M462.1 28.7h0M413.6 70.9h0M451.1 105.0h0M450.9 57.2h0M450.4 54.0h0M486.3 74.8h0M490.3 65.3h0M449.4 77.8h0M476.5 23.5h0M404.1 42.6h0M497.2 98.9h0M479.4 63.4h0M426.5 79.4h0M486.2 49.5h0M482.0 55.5h0M415.1 71.4h0M499.1 106.6h0M433.1 64.6h0M422.1 64.7h0M443.7 35.8h0M426.3 97.9h0M408.8 41.2h0M408.8 117.2h0M450.4 100.7h0M453.1 40.3h0M405.0 96.2h0M480.4 43.5h0M421.8 99.7h0M425.1 67.1h0M476.8 121.4h0M425.7 41.1h0M477.0 100.1h0M484.3 42.6h0M465.1 89.2h0M448.9 86.7h0M491.1 86.4h0M501.4 77.4h0M450.0 69.8h0M462.9 96.1h0M404.0 99.3h0M477.9 86.4h0M438.3 95.4h0M472.6 62.9h0M462.3 37.4h0M485.0 50.5h0M501.0 38.9h0M472.1 45.1h0M481.0 50.6h0M486.8 33.8h0M404.4 111.3h0M426.4 114.2h0M447.0 56.0h0M452.9 91.6h0M410.7 69.3h0M418.6 114.1h0M454.4 49.1h0M500.8 86.4h0M414.7 96.4h0M454.8 121.5h0M431.3 35.4h0M456.4 48.7h0M475.1 103.0h0M423.4 79.2h0M465.2 75.7h0M446.6 119.1h0M460.8 46.6h0M484.1 101.2h0M462.7 85.0h0M457.0 104.6h0M439.3 70.4h0M464.1 51.4h0M434.6 105.7h0M497.3 46.1h0M458.5 29.9h0M484.8 121.5h0M476.6 115.4h0M453.6 95.5h0M494.6 52.0h0M494.9 25.2h0M446.5 97.6h0M485.6 34.7h0M502.2 62.8h0M475.3 54.6h0M460.5 92.0h0M484.4 97.4h0M488.2 43.1h0M434.7 84.4h0M446.8 89.7h0M465.2 119.1h0M494.4 63.6h0M408.0 109.2h0M406.8 61.8h0M479.6 78.6h0M429.2 27.8h0" stroke="#e2e2e2" stroke-width="1.00" stroke-linecap="round" fill="none"/>
<path d="M484.7 40.6h0M408.5 117.6h0M497.8 32.5h0M455.6 80.4h0M484.8 43.6h0M467.4 60.5h0M486.0 33.8h0M418.3 113.1h0M463.6 67.5h0M409.5 124.5h0M411.1 122.1h0M495.2 26.1h0M464.5 67.4h0M431.5 101.8h0M436.7 90.5h0M464.8 65.3h0M493.9 34.0h0M424.2 105.0h0M404.9 122.8h0M477.9 46.2h0M411.7 118.2h0M440.2 88.4h0M415.7 114.6h0M437.5 90.1h0M492.9 36.9h0M474.6 49.1h0M468.1 55.0h0M487.0 31.3h0M495.3 29.9h0M442.8 82.3h0M443.0 88.1h0M494.6 31.8h0M412.8 116.5h0M482.6 41.9h0M428.6 100.5h0M465.6 69.5h0M428.9 96.1h0M415.5 108.9h0M472.6 57.0h0M462.1 66.8h0M451.8 86.1h0M437.2 94.2h0M423.3 105.8h0M417.0 104.7h0M415.2 112.8h0M459.9 60.8h0M428.2 98.7h0M413.6 112.7h0M448.3 84.4h0M464.2 61.3h0M451.5 66.7h0M413.6 115.7h0M415.1 106.7h0M455.1 81.9h0M501.5 24.1h0M411.6 116.2h0M472.8 49.9h0M449.6 91.2h0M466.7 56.7h0M476.3 52.9h0M436.4 92.1h0M494.1 27.5h0M486.9 40.8h0M420.5 102.2h0M451.7 83.1h0M418.9 98.8h0M497.5 28.7h0M419.7 107.5h0M458.8 69.2h0M486.7 38.3h0M453.2 70.7h0M492.6 38.4h0M465.4 56.9h0M417.2 104.3h0M430.9 97.5h0M426.6 102.1h0M474.3 48.0h0M460.9 68.1h0M479.2 48.3h0M406.4 115.3h0M406.1 119.7h0M401.2 123.8h0M449.7 81.8h0M437.9 89.6h0M464.5 53.5h0M487.7 39.8h0M491.6 34.0h0M438.5 82.6h0M401.1 122.6h0M415.8 103.5h0M481.8 54.7h0M471.1 63.8h0M466.8 48.3h0M406.3 124.3h0M405.9 120.7h0M464.2 66.0h0M407.6 118.0h0M465.1 62.2h0M413.1 119.3h0M485.7 37.0h0M474.5 57.9h0M488.7 42.2h0M420.7 108.7h0M463.6 58.8h0M458.0 67.3h0M430.1 92.5h0M401.4 124.4h0M444.2 82.6h0M482.8 44.2h0M488.3 37.3h0M435.7 83.4h0M463.3 61.6h0M418.1 109.9h0M495.5 31.7h0M497.6 29.7h0M466.1 66.5h0M484.1 47.1h0M476.9 46.9h0M499.8 26.9h0M454.8 67.8h0M439.4 81.8h0M453.1 72.1h0M467.9 65.9h0M403.2 118.5h0M491.1 36.3h0M500.0 26.1h0M426.3 111.0h0M403.3 119.5h0M480.8 46.6h0M410.8 113.0h0M474.1 51.7h0M467.1 57.6h0M445.6 77.5h0M477.3 51.7h0M463.6 60.4h0M448.7 80.5h0M490.1 36.1h0M452.1 78.2h0M472.8 57.2h0M463.4 61.7h0M422.7 106.7h0M488.0 44.2h0M448.4 80.5h0M418.7 110.9h0M499.3 28.2h0M453.1 68.4h0M460.9 72.5h0M432.7 93.9h0M416.6 113.3h0M471.5 58.5h0M416.3 106.4h0M465.4 55.6h0M451.5 71.6h0M409.3 110.7h0M414.0 109.3h0M452.7 80.0h0M432.7 97.4h0M446.0 84.9h0M401.4 122.4h0M496.9 26.2h0M475.3 56.4h0M420.0 105.4h0M412.2 112.6h0M432.2 95.4h0M420.7 102.6h0M476.2 49.3h0M424.4 98.4h0M412.6 113.3h0M415.6 112.3h0M421.6 103.9h0M423.4 108.0h0M463.3 62.1h0M406.6 126.1h0M476.3 52.3h0M463.9 65.9h0M406.8 115.7h0M459.1 70.7h0M437.5 91.5h0M452.2 68.9h0M472.5 56.1h0M502.1 22.6h0M483.1 45.1h0M425.2 97.3h0M448.6 82.7h0M425.2 112.5h0M492.5 40.4h0M490.1 46.6h0M447.1 84.0h0M405.8 118.3h0M443.9 84.4h0M423.6 106.5h0M441.3 76.5h0M475.1 55.4h0M439.0 85.7h0M485.7 40.9h0M475.3 52.7h0M499.6 26.6h0M459.0 59.2h0M487.6 34.4h0M496.5 29.8h0M427.7 97.3h0M431.3 98.1h0M426.0 106.0h0M456.8 72.3h0M430.5 102.3h0M410.1 114.0h0M457.7 73.5h0M473.7 59.5h0M405.9 119.9h0M424.8 104.1h0M483.9 37.5h0M471.6 56.7h0M470.1 65.1h0M491.9 40.2h0M493.7 33.8h0M492.9 30.1h0M464.9 59.7h0M479.6 42.7h0M459.9 58.6h0M432.9 97.7h0M470.9 52.9h0M457.1 73.7h0M474.8 51.7h0M471.6 53.6h0M462.8 72.8h0M455.9 77.8h0M440.6 86.6h0M486.3 43.9h0M456.8 83.3h0M429.8 103.8h0M432.5 96.9h0M406.8 115.5h0M420.2 107.1h0M500.9 25.6h0M404.9 120.2h0M405.1 120.1h0M407.0 121.9h0M485.9 39.3h0M407.2 118.5h0M484.3 40.2h0M459.2 74.2h0M479.7 43.8h0M442.6 81.7h0M488.9 34.7h0M462.3 60.8h0M472.2 53.0h0M408.1 119.4h0M490.1 37.3h0M497.5 29.7h0M444.6 88.6h0M502.2 22.4h0M494.9 30.5h0M403.3 117.2h0M470.5 56.3h0M411.1 116.2h0M433.6 92.1h0M494.3 32.2h0M496.7 28.1h0M448.8 83.2h0M417.3 114.0h0M409.3 118.4h0M488.2 41.5h0M424.9 104.6h0M467.9 56.2h0M429.8 99.8h0M451.5 75.7h0M430.9 97.5h0M459.4 73.7h0M455.7 69.4h0M466.9 57.5h0M464.2 61.3h0M463.4 63.5h0M501.2 27.1h0M465.1 62.4h0M467.7 52.1h0M434.5 106.3h0M490.9 35.6h0M419.0 107.3h0M410.9 118.9h0M480.7 48.9h0M488.7 35.5h0M401.3 122.5h0M412.7 114.9h0M453.3 75.1h0M463.2 66.7h0M489.9 34.8h0M455.6 66.3h0M419.9 102.9h0M432.4 95.2h0M412.6 109.6h0M437.0 79.3h0M488.8 38.7h0M455.1 75.9h0M403.8 125.5h0M442.8 89.0h0M407.9 110.1h0M498.0 35.6h0M407.3 121.4h0M438.8 89.0h0M453.1 70.3h0M471.5 59.1h0M401.7 122.9h0M467.9 56.7h0M465.8 54.6h0M477.1 56.1h0M437.2 87.4h0M485.2 40.3h0M403.5 124.7h0M415.6 112.9h0M478.0 48.8h0M418.0 105.5h0M462.6 67.5h0M490.4 32.3h0M468.3 58.0h0M455.7 72.9h0M482.0 39.3h0M459.3 65.8h0M408.9 114.3h0M456.0 76.0h0M421.9 101.4h0M414.3 107.4h0M455.8 71.4h0M470.9 56.4h0M489.7 39.0h0M475.7 51.3h0M451.9 74.4h0M433.1 96.0h0M490.8 34.9h0M450.5 61.6h0M484.7 38.8h0M481.1 48.3h0M496.6 25.0h0M470.0 56.6h0M449.9 77.4h0M401.8 125.4h0M440.6 85.9h0M498.0 28.1h0M426.5 95.2h0M432.7 88.2h0M470.2 49.6h0M427.0 104.0h0M452.5 80.6h0M447.8 80.7h0M420.7 111.3h0M404.9 122.5h0M422.8 102.9h0M481.8 38.5h0M435.0 93.0h0M424.4 105.7h0M428.8 98.5h0M456.0 72.6h0M481.7 45.2h0M405.4 125.1h0M500.2 26.6h0M480.7 51.0h0M417.7 118.2h0M484.7 41.7h0M408.2 117.2h0M422.8 102.6h0M417.5 115.0h0M490.7 33.2h0M446.5 78.3h0M475.5 52.8h0M407.5 119.6h0M419.0 105.8h0M465.5 58.2h0M481.1 42.8h0M425.4 100.3h0M464.0 56.0h0M474.2 50.0h0M447.5 83.0h0M405.5 120.8h0M437.3 86.9h0M438.9 89.5h0M415.4 104.4h0M444.9 89.2h0M433.8 91.8h0M464.4 56.9h0M430.2 93.0h0M418.7 106.0h0M492.8 34.0h0M448.1 77.9h0M473.4 52.8h0M424.6 104.4h0M489.2 36.8h0M475.9 47.4h0M469.6 56.2h0M498.5 26.3h0M492.0 34.9h0M466.3 63.1h0M429.4 94.4h0M475.2 50.7h0M443.6 82.1h0M464.7 55.2h0M413.4 114.2h0M485.9 38.3h0M475.4 53.0h0M433.1 97.1h0M490.1 39.4h0M401.2 125.4h0M456.4 69.3h0M416.8 110.7h0M432.0 97.9h0M480.3 48.5h0M478.1 36.7h0M502.9 23.4h0M422.6 101.6h0M459.6 59.5h0M447.0 67.6h0M460.1 65.9h0M497.6 34.6h0M425.2 105.6h0M489.0 31.6h0M435.1 89.2h0M464.4 58.1h0M422.6 103.1h0M447.4 83.5h0M460.8 63.9h0M501.8 24.1h0M442.3 87.8h0M446.7 82.3h0M458.3 62.9h0M413.9 118.4h0M447.8 86.4h0M494.4 30.1h0M492.0 37.5h0M455.6 72.9h0M447.7 74.2h0M455.8 74.7h0M464.7 62.4h0M443.0 91.6h0M426.9 99.8h0M414.1 104.7h0M429.3 91.2h0M482.2 38.2h0M480.1 47.7h0M405.0 120.7h0M456.8 60.7h0M449.4 71.1h0M470.1 56.1h0M477.0 47.9h0M424.5 96.7h0M408.5 118.6h0M415.3 109.1h0M434.8 87.7h0M404.5 117.0h0M446.6 80.5h0M413.1 114.9h0M412.4 116.0h0M442.8 84.4h0M419.6 114.2h0M438.6 84.9h0M477.5 56.9h0M500.1 26.3h0M499.5 28.3h0M422.7 103.4h0M462.4 64.7h0M486.0 41.5h0M441.1 85.4h0M438.1 94.0h0M453.4 78.3h0M404.7 119.6h0M451.3 69.6h0M467.6 56.7h0M469.2 55.1h0M454.5 64.4h0M446.4 79.2h0M499.1 25.1h0M472.8 58.2h0M426.0 98.4h0M420.8 109.5h0M423.8 111.4h0M414.7 120.0h0M418.5 114.7h0M467.2 50.8h0M447.9 78.8h0M458.1 70.1h0M442.5 88.2h0M419.9 106.2h0M439.5 91.0h0M479.9 43.9h0M502.2 24.0h0M498.2 25.8h0M436.3 95.1h0M489.0 38.2h0M473.5 48.9h0M424.3 96.7h0M418.5 104.5h0M416.7 106.2h0M419.3 108.4h0M460.9 69.2h0M458.6 69.8h0M448.0 73.6h0M470.8 55.8h0M486.8 37.9h0M430.1 93.7h0M452.4 75.6h0M487.7 41.2h0M493.7 39.4h0M416.3 112.5h0M492.3 32.1h0M468.9 55.8h0M474.7 54.0h0M409.8 115.6h0M404.4 125.9h0M444.3 92.3h0M455.1 78.0h0M453.5 74.2h0M405.1 124.8h0M486.5 40.7h0" stroke="#dc6f8a" stroke-width="1.90" stroke-linecap="round" fill="none"/>
<path d="M484.7 40.6h0M408.5 117.6h0M497.8 32.5h0M455.6 80.4h0M484.8 43.6h0M467.4 60.5h0M486.0 33.8h0M418.3 113.1h0M463.6 67.5h0M409.5 124.5h0M411.1 122.1h0M495.2 26.1h0M464.5 67.4h0M431.5 101.8h0M436.7 90.5h0M464.8 65.3h0M493.9 34.0h0M424.2 105.0h0M404.9 122.8h0M477.9 46.2h0M411.7 118.2h0M440.2 88.4h0M415.7 114.6h0M437.5 90.1h0M492.9 36.9h0M474.6 49.1h0M468.1 55.0h0M487.0 31.3h0M495.3 29.9h0M442.8 82.3h0M443.0 88.1h0M494.6 31.8h0M412.8 116.5h0M482.6 41.9h0M428.6 100.5h0M465.6 69.5h0M428.9 96.1h0M415.5 108.9h0M472.6 57.0h0M462.1 66.8h0M451.8 86.1h0M437.2 94.2h0M423.3 105.8h0M417.0 104.7h0M415.2 112.8h0M459.9 60.8h0M428.2 98.7h0M413.6 112.7h0M448.3 84.4h0M464.2 61.3h0M451.5 66.7h0M413.6 115.7h0M415.1 106.7h0M455.1 81.9h0M501.5 24.1h0M411.6 116.2h0M472.8 49.9h0M449.6 91.2h0M466.7 56.7h0M476.3 52.9h0M436.4 92.1h0M494.1 27.5h0M486.9 40.8h0M420.5 102.2h0M451.7 83.1h0M418.9 98.8h0M497.5 28.7h0M419.7 107.5h0M458.8 69.2h0M486.7 38.3h0M453.2 70.7h0M492.6 38.4h0M465.4 56.9h0M417.2 104.3h0M430.9 97.5h0M426.6 102.1h0M474.3 48.0h0M460.9 68.1h0M479.2 48.3h0M406.4 115.3h0M406.1 119.7h0M401.2 123.8h0M449.7 81.8h0M437.9 89.6h0M464.5 53.5h0M487.7 39.8h0M491.6 34.0h0M438.5 82.6h0M401.1 122.6h0M415.8 103.5h0M481.8 54.7h0M471.1 63.8h0M466.8 48.3h0M406.3 124.3h0M405.9 120.7h0M464.2 66.0h0M407.6 118.0h0M465.1 62.2h0M413.1 119.3h0M485.7 37.0h0M474.5 57.9h0M488.7 42.2h0M420.7 108.7h0M463.6 58.8h0M458.0 67.3h0M430.1 92.5h0M401.4 124.4h0M444.2 82.6h0M482.8 44.2h0M488.3 37.3h0M435.7 83.4h0M463.3 61.6h0M418.1 109.9h0M495.5 31.7h0M497.6 29.7h0M466.1 66.5h0M484.1 47.1h0M476.9 46.9h0M499.8 26.9h0M454.8 67.8h0M439.4 81.8h0M453.1 72.1h0M467.9 65.9h0M403.2 118.5h0M491.1 36.3h0M500.0 26.1h0M426.3 111.0h0M403.3 119.5h0M480.8 46.6h0M410.8 113.0h0M474.1 51.7h0M467.1 57.6h0M445.6 77.5h0M477.3 51.7h0M463.6 60.4h0M448.7 80.5h0M490.1 36.1h0M452.1 78.2h0M472.8 57.2h0M463.4 61.7h0M422.7 106.7h0M488.0 44.2h0M448.4 80.5h0M418.7 110.9h0M499.3 28.2h0M453.1 68.4h0M460.9 72.5h0M432.7 93.9h0M416.6 113.3h0M471.5 58.5h0M416.3 106.4h0M465.4 55.6h0M451.5 71.6h0M409.3 110.7h0M414.0 109.3h0M452.7 80.0h0M432.7 97.4h0M446.0 84.9h0M401.4 122.4h0M496.9 26.2h0M475.3 56.4h0M420.0 105.4h0M412.2 112.6h0M432.2 95.4h0M420.7 102.6h0M476.2 49.3h0M424.4 98.4h0M412.6 113.3h0M415.6 112.3h0M421.6 103.9h0M423.4 108.0h0M463.3 62.1h0M406.6 126.1h0M476.3 52.3h0M463.9 65.9h0M406.8 115.7h0M459.1 70.7h0M437.5 91.5h0M452.2 68.9h0M472.5 56.1h0M502.1 22.6h0M483.1 45.1h0M425.2 97.3h0M448.6 82.7h0M425.2 112.5h0M492.5 40.4h0M490.1 46.6h0M447.1 84.0h0M405.8 118.3h0M443.9 84.4h0M423.6 106.5h0M441.3 76.5h0M475.1 55.4h0M439.0 85.7h0M485.7 40.9h0M475.3 52.7h0M499.6 26.6h0M459.0 59.2h0M487.6 34.4h0M496.5 29.8h0M427.7 97.3h0M431.3 98.1h0M426.0 106.0h0M456.8 72.3h0M430.5 102.3h0M410.1 114.0h0M457.7 73.5h0M473.7 59.5h0M405.9 119.9h0M424.8 104.1h0M483.9 37.5h0M471.6 56.7h0M470.1 65.1h0M491.9 40.2h0M493.7 33.8h0M492.9 30.1h0M464.9 59.7h0M479.6 42.7h0M459.9 58.6h0M432.9 97.7h0M470.9 52.9h0M457.1 73.7h0M474.8 51.7h0M471.6 53.6h0M462.8 72.8h0M455.9 77.8h0M440.6 86.6h0M486.3 43.9h0M456.8 83.3h0M429.8 103.8h0M432.5 96.9h0M406.8 115.5h0M420.2 107.1h0M500.9 25.6h0M404.9 120.2h0M405.1 120.1h0M407.0 121.9h0M485.9 39.3h0M407.2 118.5h0M484.3 40.2h0M459.2 74.2h0M479.7 43.8h0M442.6 81.7h0M488.9 34.7h0M462.3 60.8h0M472.2 53.0h0M408.1 119.4h0M490.1 37.3h0M497.5 29.7h0M444.6 88.6h0M502.2 22.4h0M494.9 30.5h0M403.3 117.2h0M470.5 56.3h0M411.1 116.2h0M433.6 92.1h0M494.3 32.2h0M496.7 28.1h0M448.8 83.2h0M417.3 114.0h0M409.3 118.4h0M488.2 41.5h0M424.9 104.6h0M467.9 56.2h0M429.8 99.8h0M451.5 75.7h0M430.9 97.5h0M459.4 73.7h0M455.7 69.4h0M466.9 57.5h0M464.2 61.3h0M463.4 63.5h0M501.2 27.1h0M465.1 62.4h0M467.7 52.1h0M434.5 106.3h0M490.9 35.6h0M419.0 107.3h0M410.9 118.9h0M480.7 48.9h0M488.7 35.5h0M401.3 122.5h0M412.7 114.9h0M453.3 75.1h0M463.2 66.7h0M489.9 34.8h0M455.6 66.3h0M419.9 102.9h0M432.4 95.2h0M412.6 109.6h0M437.0 79.3h0M488.8 38.7h0M455.1 75.9h0M403.8 125.5h0M442.8 89.0h0M407.9 110.1h0M498.0 35.6h0M407.3 121.4h0M438.8 89.0h0M453.1 70.3h0M471.5 59.1h0M401.7 122.9h0M467.9 56.7h0M465.8 54.6h0M477.1 56.1h0M437.2 87.4h0M485.2 40.3h0M403.5 124.7h0M415.6 112.9h0M478.0 48.8h0M418.0 105.5h0M462.6 67.5h0M490.4 32.3h0M468.3 58.0h0M455.7 72.9h0M482.0 39.3h0M459.3 65.8h0M408.9 114.3h0M456.0 76.0h0M421.9 101.4h0M414.3 107.4h0M455.8 71.4h0M470.9 56.4h0M489.7 39.0h0M475.7 51.3h0M451.9 74.4h0M433.1 96.0h0M490.8 34.9h0M450.5 61.6h0M484.7 38.8h0M481.1 48.3h0M496.6 25.0h0M470.0 56.6h0M449.9 77.4h0M401.8 125.4h0M440.6 85.9h0M498.0 28.1h0M426.5 95.2h0M432.7 88.2h0M470.2 49.6h0M427.0 104.0h0M452.5 80.6h0M447.8 80.7h0M420.7 111.3h0M404.9 122.5h0M422.8 102.9h0M481.8 38.5h0M435.0 93.0h0M424.4 105.7h0M428.8 98.5h0M456.0 72.6h0M481.7 45.2h0M405.4 125.1h0M500.2 26.6h0M480.7 51.0h0M417.7 118.2h0M484.7 41.7h0M408.2 117.2h0M422.8 102.6h0M417.5 115.0h0M490.7 33.2h0M446.5 78.3h0M475.5 52.8h0M407.5 119.6h0M419.0 105.8h0M465.5 58.2h0M481.1 42.8h0M425.4 100.3h0M464.0 56.0h0M474.2 50.0h0M447.5 83.0h0M405.5 120.8h0M437.3 86.9h0M438.9 89.5h0M415.4 104.4h0M444.9 89.2h0M433.8 91.8h0M464.4 56.9h0M430.2 93.0h0M418.7 106.0h0M492.8 34.0h0M448.1 77.9h0M473.4 52.8h0M424.6 104.4h0M489.2 36.8h0M475.9 47.4h0M469.6 56.2h0M498.5 26.3h0M492.0 34.9h0M466.3 63.1h0M429.4 94.4h0M475.2 50.7h0M443.6 82.1h0M464.7 55.2h0M413.4 114.2h0M485.9 38.3h0M475.4 53.0h0M433.1 97.1h0M490.1 39.4h0M401.2 125.4h0M456.4 69.3h0M416.8 110.7h0M432.0 97.9h0M480.3 48.5h0M478.1 36.7h0M502.9 23.4h0M422.6 101.6h0M459.6 59.5h0M447.0 67.6h0M460.1 65.9h0M497.6 34.6h0M425.2 105.6h0M489.0 31.6h0M435.1 89.2h0M464.4 58.1h0M422.6 103.1h0M447.4 83.5h0M460.8 63.9h0M501.8 24.1h0M442.3 87.8h0M446.7 82.3h0M458.3 62.9h0M413.9 118.4h0M447.8 86.4h0M494.4 30.1h0M492.0 37.5h0M455.6 72.9h0M447.7 74.2h0M455.8 74.7h0M464.7 62.4h0M443.0 91.6h0M426.9 99.8h0M414.1 104.7h0M429.3 91.2h0M482.2 38.2h0M480.1 47.7h0M405.0 120.7h0M456.8 60.7h0M449.4 71.1h0M470.1 56.1h0M477.0 47.9h0M424.5 96.7h0M408.5 118.6h0M415.3 109.1h0M434.8 87.7h0M404.5 117.0h0M446.6 80.5h0M413.1 114.9h0M412.4 116.0h0M442.8 84.4h0M419.6 114.2h0M438.6 84.9h0M477.5 56.9h0M500.1 26.3h0M499.5 28.3h0M422.7 103.4h0M462.4 64.7h0M486.0 41.5h0M441.1 85.4h0M438.1 94.0h0M453.4 78.3h0M404.7 119.6h0M451.3 69.6h0M467.6 56.7h0M469.2 55.1h0M454.5 64.4h0M446.4 79.2h0M499.1 25.1h0M472.8 58.2h0M426.0 98.4h0M420.8 109.5h0M423.8 111.4h0M414.7 120.0h0M418.5 114.7h0M467.2 50.8h0M447.9 78.8h0M458.1 70.1h0M442.5 88.2h0M419.9 106.2h0M439.5 91.0h0M479.9 43.9h0M502.2 24.0h0M498.2 25.8h0M436.3 95.1h0M489.0 38.2h0M473.5 48.9h0M424.3 96.7h0M418.5 104.5h0M416.7 106.2h0M419.3 108.4h0M460.9 69.2h0M458.6 69.8h0M448.0 73.6h0M470.8 55.8h0M486.8 37.9h0M430.1 93.7h0M452.4 75.6h0M487.7 41.2h0M493.7 39.4h0M416.3 112.5h0M492.3 32.1h0M468.9 55.8h0M474.7 54.0h0M409.8 115.6h0M404.4 125.9h0M444.3 92.3h0M455.1 78.0h0M453.5 74.2h0M405.1 124.8h0M486.5 40.7h0" stroke="#f6c9d4" stroke-width="1.00" stroke-linecap="round" fill="none"/>
<line x1="401.00" y1="89.96" x2="503.00" y2="60.78" stroke="#333" stroke-width="0.7"/>
<line x1="401.00" y1="125.80" x2="503.00" y2="23.40" stroke="#c8102e" stroke-width="1.3"/>
<line x1="395.90" y1="130.70" x2="395.90" y2="15.80" stroke="#9a9a9a" stroke-width="0.9"/>
<path d="M394.70,17.30 L395.90,14.30 L397.10,17.30 Z" fill="#333"/>
<line x1="395.50" y1="130.70" x2="510.00" y2="130.70" stroke="#c4c4c4" stroke-width="1.1"/>
<path d="M508.40,129.50 L511.40,130.70 L508.40,131.90 Z" fill="#333"/>
<text x="393.00" y="26.00" font-size="7.74" fill="#222" text-anchor="end" textLength="4.5" lengthAdjust="spacingAndGlyphs" stroke="#222" stroke-width="0.16">1</text>
<text x="393.00" y="77.20" font-size="7.74" fill="#222" text-anchor="end" textLength="4.5" lengthAdjust="spacingAndGlyphs" stroke="#222" stroke-width="0.16">0</text>
<text x="393.00" y="128.40" font-size="7.74" fill="#222" text-anchor="end" textLength="7.56" lengthAdjust="spacingAndGlyphs" stroke="#222" stroke-width="0.16">-1</text>
<text x="400.50" y="139.20" font-size="7.74" fill="#222" text-anchor="middle" textLength="7.56" lengthAdjust="spacingAndGlyphs" stroke="#222" stroke-width="0.16">-1</text>
<text x="451.50" y="139.20" font-size="7.74" fill="#222" text-anchor="middle" textLength="4.5" lengthAdjust="spacingAndGlyphs" stroke="#222" stroke-width="0.16">0</text>
<text x="502.50" y="139.20" font-size="7.74" fill="#222" text-anchor="middle" textLength="4.5" lengthAdjust="spacingAndGlyphs" stroke="#222" stroke-width="0.16">1</text>
<text x="458.00" y="148.20" font-size="9.5" fill="#222" text-anchor="middle" textLength="88" lengthAdjust="spacingAndGlyphs" stroke="#222" stroke-width="0.16">Predicted signal (ŷ)</text>
<text x="386.20" y="68.50" font-size="9.5" fill="#222" text-anchor="middle" textLength="74.5" lengthAdjust="spacingAndGlyphs" transform="rotate(-90 386.2 68.5)" stroke="#222" stroke-width="0.16">Target signal (y)</text>
<text x="534.00" y="11.80" font-size="15.2" fill="#111" font-weight="bold" textLength="19.8" lengthAdjust="spacingAndGlyphs">D)</text>
<polygon points="565.2,132 565.2,20.1 580.5,20.1 580.5,132" fill="#f6f6f6"/>
<path d="M580.5,132 L580.5,20.3 L578.4,20.1 C579.0,20.2 580.6,19.9 581.8,20.6 C582.9,21.3 584.1,22.0 585.3,24.1 C586.5,26.2 587.6,29.1 588.8,33.1 C589.9,37.1 591.1,43.1 592.2,47.9 C593.3,52.7 594.5,58.9 595.6,62.0 C596.7,65.1 597.8,64.8 598.9,66.6 C600.0,68.4 601.1,70.8 602.2,73.1 C603.3,75.4 604.4,78.3 605.5,80.4 C606.6,82.5 607.7,83.8 608.8,85.6 C609.9,87.3 611.0,89.2 612.1,90.9 C613.2,92.6 614.3,94.1 615.4,95.5 C616.5,96.9 617.6,98.0 618.7,99.2 C619.9,100.4 621.2,101.3 622.3,102.4 C623.4,103.5 624.4,105.0 625.5,106.0 C626.6,107.0 627.8,107.6 628.9,108.4 C630.0,109.2 631.3,109.9 632.4,110.6 C633.5,111.2 634.6,111.8 635.7,112.3 C636.9,112.8 638.1,113.4 639.3,113.9 C640.4,114.4 641.5,114.9 642.6,115.4 C643.7,115.9 644.9,116.4 646.0,116.8 C647.1,117.2 648.2,117.4 649.3,117.8 C650.4,118.2 651.7,118.6 652.8,118.9 C653.9,119.2 655.0,119.5 656.1,119.8 C657.2,120.0 658.2,120.2 659.4,120.4 C660.6,120.6 661.9,120.9 663.1,121.1 C664.3,121.3 665.5,121.4 666.6,121.5 C667.7,121.6 668.8,121.7 669.9,121.8 C671.0,121.9 672.2,122.0 673.4,122.1 C674.6,122.2 675.7,122.3 676.9,122.4 C678.1,122.5 679.8,122.7 680.4,122.7 L681,122.7 L681,132 Z" fill="#e6e6e6"/>
<line x1="580.50" y1="20.10" x2="580.50" y2="132.00" stroke="#888" stroke-width="0.45" stroke-dasharray="0.7,0.9"/>
<line x1="565.20" y1="132.00" x2="565.20" y2="15.80" stroke="#aaaaaa" stroke-width="1.0"/>
<path d="M564.30,16.80 L565.20,14.50 L566.10,16.80 Z" fill="#444"/>
<line x1="564.70" y1="132.00" x2="682.70" y2="132.00" stroke="#aaaaaa" stroke-width="1.0"/>
<path d="M681.20,130.80 L684.00,132.00 L681.20,133.20 Z" fill="#444"/>
<path d="M565.2 20.1h0M568.5 20.1h0M571.8 20.1h0M575.1 20.1h0M578.4 20.1h0M581.8 20.6h0M585.3 24.1h0M588.8 33.1h0M592.2 47.9h0M595.6 62.0h0M598.9 66.6h0M602.2 73.1h0M605.5 80.4h0M608.8 85.6h0M612.1 90.9h0M615.4 95.5h0M618.7 99.2h0M622.3 102.4h0M625.5 106.0h0M628.9 108.4h0M632.4 110.6h0M635.7 112.3h0M639.3 113.9h0M642.6 115.4h0M646.0 116.8h0M649.3 117.8h0M652.8 118.9h0M656.1 119.8h0M659.4 120.4h0M663.1 121.1h0M666.6 121.5h0M669.9 121.8h0M673.4 122.1h0M676.9 122.4h0M680.4 122.7h0" stroke="#1a1a1a" stroke-width="1.44" stroke-linecap="round" fill="none" stroke-linecap="square"/>
<text x="563.00" y="33.22" font-size="7.42" fill="#222" text-anchor="end" textLength="11.11" lengthAdjust="spacingAndGlyphs" stroke="#222" stroke-width="0.16">0.9</text>
<text x="563.00" y="55.74" font-size="7.42" fill="#222" text-anchor="end" textLength="11.11" lengthAdjust="spacingAndGlyphs" stroke="#222" stroke-width="0.16">0.7</text>
<text x="563.00" y="78.26" font-size="7.42" fill="#222" text-anchor="end" textLength="11.11" lengthAdjust="spacingAndGlyphs" stroke="#222" stroke-width="0.16">0.5</text>
<text x="563.00" y="100.78" font-size="7.42" fill="#222" text-anchor="end" textLength="11.11" lengthAdjust="spacingAndGlyphs" stroke="#222" stroke-width="0.16">0.3</text>
<text x="563.00" y="123.30" font-size="7.42" fill="#222" text-anchor="end" textLength="11.11" lengthAdjust="spacingAndGlyphs" stroke="#222" stroke-width="0.16">0.1</text>
<text x="578.50" y="139.60" font-size="7.42" fill="#222" text-anchor="middle" textLength="4.32" lengthAdjust="spacingAndGlyphs" stroke="#222" stroke-width="0.16">5</text>
<text x="595.40" y="139.60" font-size="7.42" fill="#222" text-anchor="middle" textLength="8.64" lengthAdjust="spacingAndGlyphs" stroke="#222" stroke-width="0.16">10</text>
<text x="612.30" y="139.60" font-size="7.42" fill="#222" text-anchor="middle" textLength="8.64" lengthAdjust="spacingAndGlyphs" stroke="#222" stroke-width="0.16">15</text>
<text x="629.20" y="139.60" font-size="7.42" fill="#222" text-anchor="middle" textLength="8.64" lengthAdjust="spacingAndGlyphs" stroke="#222" stroke-width="0.16">20</text>
<text x="646.10" y="139.60" font-size="7.42" fill="#222" text-anchor="middle" textLength="8.64" lengthAdjust="spacingAndGlyphs" stroke="#222" stroke-width="0.16">25</text>
<text x="663.00" y="139.60" font-size="7.42" fill="#222" text-anchor="middle" textLength="8.64" lengthAdjust="spacingAndGlyphs" stroke="#222" stroke-width="0.16">30</text>
<text x="679.90" y="139.60" font-size="7.42" fill="#222" text-anchor="middle" textLength="8.64" lengthAdjust="spacingAndGlyphs" stroke="#222" stroke-width="0.16">35</text>
<text x="628.30" y="148.60" font-size="9.5" fill="#222" text-anchor="middle" textLength="79.2" lengthAdjust="spacingAndGlyphs" stroke="#222" stroke-width="0.16">Delay (time step)</text>
<text x="548.4" y="72.5" font-size="9.5" fill="#222" text-anchor="middle" transform="rotate(-90 548.4 72.5)">R<tspan font-size="7" dy="1.8">yŷ</tspan></text>
<text x="656.90" y="69.90" font-size="7.9" fill="#a3a3a3" text-anchor="middle" textLength="33.2" lengthAdjust="spacingAndGlyphs" stroke="#a3a3a3" stroke-width="0.16">Memory</text>
<text x="656.50" y="77.30" font-size="7.9" fill="#a3a3a3" text-anchor="middle" textLength="56" lengthAdjust="spacingAndGlyphs" stroke="#a3a3a3" stroke-width="0.16">capacity (MC)</text>
<g><line x1="615.4" y1="106.0" x2="637.7" y2="85.8" stroke="#a3a3a3" stroke-width="1.3"/><path d="M641.6,82.3 L638.4,89.2 L637.7,85.8 L634.4,84.8 Z" fill="#a3a3a3"/></g>
<text x="1.50" y="185.80" font-size="15.2" fill="#111" font-weight="bold" textLength="15.5" lengthAdjust="spacingAndGlyphs">E)</text>
<path d="M25.8,281.5 C26.8,282.4 29.7,286.2 31.9,287.0 C34.1,287.8 36.5,286.6 38.8,286.2 C41.1,285.8 43.7,284.0 45.8,284.8 C47.9,285.6 49.4,290.8 51.3,291.2 C53.1,291.6 54.8,287.5 56.9,287.0 C59.0,286.5 61.7,288.8 63.8,288.4 C65.9,287.9 67.0,284.5 69.3,284.3 C71.6,284.1 75.4,285.9 77.7,287.0 C80.0,288.1 81.4,291.2 83.2,291.2 C85.0,291.2 87.0,288.5 88.8,287.0 C90.6,285.5 92.2,281.9 93.8,282.1 C95.4,282.3 96.6,287.6 98.5,288.4 C100.4,289.2 102.9,287.1 105.4,287.0 C107.9,286.9 110.9,287.9 113.7,287.9 C116.5,287.9 119.0,287.7 122.0,287.0 C125.0,286.3 128.1,284.1 131.8,283.7 C135.5,283.2 140.3,284.6 144.2,284.3 C148.1,284.0 151.6,282.7 155.3,282.1 C159.0,281.6 163.9,280.9 166.4,281.0 C168.9,281.1 169.9,282.6 170.6,282.9 L170.6,321.7 C169.9,321.8 168.9,322.1 166.4,322.0 C163.9,321.9 159.5,321.5 155.3,320.9 C151.2,320.3 145.7,319.4 141.5,318.4 C137.3,317.4 134.1,314.9 130.4,314.8 C126.7,314.7 122.5,317.6 119.3,317.6 C116.1,317.6 114.2,315.0 111.0,314.8 C107.8,314.6 102.8,315.1 99.9,316.2 C97.0,317.3 95.7,321.6 93.8,321.7 C91.9,321.8 90.6,318.6 88.8,317.0 C87.0,315.4 85.5,312.2 83.2,312.0 C80.9,311.8 77.4,315.6 74.9,315.6 C72.4,315.6 70.5,312.7 68.0,312.0 C65.5,311.3 62.4,310.7 59.6,311.2 C56.8,311.7 53.8,314.0 51.3,314.8 C48.8,315.6 46.9,316.0 44.4,316.2 C41.9,316.4 39.2,315.3 36.1,316.2 C33.0,317.1 27.5,320.8 25.8,321.7 Z" fill="#fde0cf"/>
<path d="M25.8,281.5 C26.8,282.4 29.7,286.2 31.9,287.0 C34.1,287.8 36.5,286.6 38.8,286.2 C41.1,285.8 43.7,284.0 45.8,284.8 C47.9,285.6 49.4,290.8 51.3,291.2 C53.1,291.6 54.8,287.5 56.9,287.0 C59.0,286.5 61.7,288.8 63.8,288.4 C65.9,287.9 67.0,284.5 69.3,284.3 C71.6,284.1 75.4,285.9 77.7,287.0 C80.0,288.1 81.4,291.2 83.2,291.2 C85.0,291.2 87.0,288.5 88.8,287.0 C90.6,285.5 92.2,281.9 93.8,282.1 C95.4,282.3 96.6,287.6 98.5,288.4 C100.4,289.2 102.9,287.1 105.4,287.0 C107.9,286.9 110.9,287.9 113.7,287.9 C116.5,287.9 119.0,287.7 122.0,287.0 C125.0,286.3 128.1,284.1 131.8,283.7 C135.5,283.2 140.3,284.6 144.2,284.3 C148.1,284.0 151.6,282.7 155.3,282.1 C159.0,281.6 163.9,280.9 166.4,281.0 C168.9,281.1 169.9,282.6 170.6,282.9" fill="none" stroke="#f7b48c" stroke-width="0.5" stroke-dasharray="1,0.8"/>
<path d="M25.8,321.7 C27.5,320.8 33.0,317.1 36.1,316.2 C39.2,315.3 41.9,316.4 44.4,316.2 C46.9,316.0 48.8,315.6 51.3,314.8 C53.8,314.0 56.8,311.7 59.6,311.2 C62.4,310.7 65.5,311.3 68.0,312.0 C70.5,312.7 72.4,315.6 74.9,315.6 C77.4,315.6 80.9,311.8 83.2,312.0 C85.5,312.2 87.0,315.4 88.8,317.0 C90.6,318.6 91.9,321.8 93.8,321.7 C95.7,321.6 97.0,317.3 99.9,316.2 C102.8,315.1 107.8,314.6 111.0,314.8 C114.2,315.0 116.1,317.6 119.3,317.6 C122.5,317.6 126.7,314.7 130.4,314.8 C134.1,314.9 137.3,317.4 141.5,318.4 C145.7,319.4 151.2,320.3 155.3,320.9 C159.5,321.5 163.9,321.9 166.4,322.0 C168.9,322.1 169.9,321.8 170.6,321.7" fill="none" stroke="#f7b48c" stroke-width="0.5" stroke-dasharray="1,0.8"/>
<line x1="68.00" y1="248.00" x2="68.00" y2="400.40" stroke="#f08a3c" stroke-width="0.8" stroke-dasharray="2.2,1.6"/>
<line x1="119.30" y1="248.00" x2="119.30" y2="400.40" stroke="#f08a3c" stroke-width="0.8" stroke-dasharray="2.2,1.6"/>
<line x1="26.96" y1="286.20" x2="32.09" y2="295.37" stroke="#b0b0b0" stroke-width="0.5" stroke-dasharray="0.8,0.8"/>
<line x1="32.09" y1="295.37" x2="37.22" y2="327.80" stroke="#b0b0b0" stroke-width="0.5" stroke-dasharray="0.8,0.8"/>
<line x1="37.22" y1="327.80" x2="42.35" y2="325.33" stroke="#b0b0b0" stroke-width="0.5" stroke-dasharray="0.8,0.8"/>
<line x1="42.35" y1="325.33" x2="47.48" y2="351.30" stroke="#b0b0b0" stroke-width="0.5" stroke-dasharray="0.8,0.8"/>
<line x1="47.48" y1="351.30" x2="52.61" y2="327.68" stroke="#b0b0b0" stroke-width="0.5" stroke-dasharray="0.8,0.8"/>
<line x1="52.61" y1="327.68" x2="57.74" y2="336.85" stroke="#b0b0b0" stroke-width="0.5" stroke-dasharray="0.8,0.8"/>
<line x1="57.74" y1="336.85" x2="62.87" y2="306.88" stroke="#b0b0b0" stroke-width="0.5" stroke-dasharray="0.8,0.8"/>
<line x1="62.87" y1="306.88" x2="68.00" y2="264.94" stroke="#b0b0b0" stroke-width="0.5" stroke-dasharray="0.8,0.8"/>
<line x1="68.00" y1="264.94" x2="73.13" y2="315.23" stroke="#888" stroke-width="0.5" stroke-dasharray="0.8,0.8"/>
<line x1="73.13" y1="315.23" x2="78.26" y2="323.57" stroke="#888" stroke-width="0.5" stroke-dasharray="0.8,0.8"/>
<line x1="78.26" y1="323.57" x2="83.39" y2="332.73" stroke="#888" stroke-width="0.5" stroke-dasharray="0.8,0.8"/>
<line x1="83.39" y1="332.73" x2="88.52" y2="352.71" stroke="#888" stroke-width="0.5" stroke-dasharray="0.8,0.8"/>
<line x1="88.52" y1="352.71" x2="93.65" y2="372.10" stroke="#888" stroke-width="0.5" stroke-dasharray="0.8,0.8"/>
<line x1="93.65" y1="372.10" x2="98.78" y2="354.12" stroke="#888" stroke-width="0.5" stroke-dasharray="0.8,0.8"/>
<line x1="98.78" y1="354.12" x2="103.91" y2="356.00" stroke="#888" stroke-width="0.5" stroke-dasharray="0.8,0.8"/>
<line x1="103.91" y1="356.00" x2="109.04" y2="360.46" stroke="#888" stroke-width="0.5" stroke-dasharray="0.8,0.8"/>
<line x1="109.04" y1="360.46" x2="114.17" y2="354.82" stroke="#888" stroke-width="0.5" stroke-dasharray="0.8,0.8"/>
<line x1="114.17" y1="354.82" x2="119.30" y2="350.48" stroke="#888" stroke-width="0.5" stroke-dasharray="0.8,0.8"/>
<line x1="119.30" y1="350.48" x2="124.43" y2="370.22" stroke="#555" stroke-width="0.5" stroke-dasharray="0.8,0.8"/>
<line x1="124.43" y1="370.22" x2="129.56" y2="356.35" stroke="#555" stroke-width="0.5" stroke-dasharray="0.8,0.8"/>
<line x1="129.56" y1="356.35" x2="134.69" y2="366.57" stroke="#555" stroke-width="0.5" stroke-dasharray="0.8,0.8"/>
<line x1="134.69" y1="366.57" x2="139.82" y2="354.59" stroke="#555" stroke-width="0.5" stroke-dasharray="0.8,0.8"/>
<line x1="139.82" y1="354.59" x2="144.95" y2="364.57" stroke="#555" stroke-width="0.5" stroke-dasharray="0.8,0.8"/>
<line x1="144.95" y1="364.57" x2="150.08" y2="375.74" stroke="#555" stroke-width="0.5" stroke-dasharray="0.8,0.8"/>
<line x1="150.08" y1="375.74" x2="155.21" y2="365.16" stroke="#555" stroke-width="0.5" stroke-dasharray="0.8,0.8"/>
<line x1="155.21" y1="365.16" x2="160.34" y2="385.96" stroke="#555" stroke-width="0.5" stroke-dasharray="0.8,0.8"/>
<line x1="160.34" y1="385.96" x2="165.47" y2="393.83" stroke="#555" stroke-width="0.5" stroke-dasharray="0.8,0.8"/>
<line x1="165.47" y1="393.83" x2="170.60" y2="377.15" stroke="#555" stroke-width="0.5" stroke-dasharray="0.8,0.8"/>
<circle cx="26.96" cy="286.20" r="1.10" fill="#bdbdbd"/>
<circle cx="32.09" cy="295.37" r="1.10" fill="#bdbdbd"/>
<circle cx="37.22" cy="327.80" r="1.10" fill="#bdbdbd"/>
<circle cx="42.35" cy="325.33" r="1.10" fill="#bdbdbd"/>
<circle cx="47.48" cy="351.30" r="1.10" fill="#bdbdbd"/>
<circle cx="52.61" cy="327.68" r="1.10" fill="#bdbdbd"/>
<circle cx="57.74" cy="336.85" r="1.10" fill="#bdbdbd"/>
<circle cx="62.87" cy="306.88" r="1.10" fill="#bdbdbd"/>
<circle cx="68.00" cy="264.94" r="1.10" fill="#8a8a8a"/>
<circle cx="73.13" cy="315.23" r="1.10" fill="#8a8a8a"/>
<circle cx="78.26" cy="323.57" r="1.10" fill="#8a8a8a"/>
<circle cx="83.39" cy="332.73" r="1.10" fill="#8a8a8a"/>
<circle cx="88.52" cy="352.71" r="1.10" fill="#8a8a8a"/>
<circle cx="93.65" cy="372.10" r="1.10" fill="#8a8a8a"/>
<circle cx="98.78" cy="354.12" r="1.10" fill="#8a8a8a"/>
<circle cx="103.91" cy="356.00" r="1.10" fill="#8a8a8a"/>
<circle cx="109.04" cy="360.46" r="1.10" fill="#8a8a8a"/>
<circle cx="114.17" cy="354.82" r="1.10" fill="#8a8a8a"/>
<circle cx="119.30" cy="350.48" r="1.10" fill="#8a8a8a"/>
<circle cx="124.43" cy="370.22" r="1.10" fill="#555"/>
<circle cx="129.56" cy="356.35" r="1.10" fill="#555"/>
<circle cx="134.69" cy="366.57" r="1.10" fill="#555"/>
<circle cx="139.82" cy="354.59" r="1.10" fill="#555"/>
<circle cx="144.95" cy="364.57" r="1.10" fill="#555"/>
<circle cx="150.08" cy="375.74" r="1.10" fill="#555"/>
<circle cx="155.21" cy="365.16" r="1.10" fill="#555"/>
<circle cx="160.34" cy="385.96" r="1.10" fill="#555"/>
<circle cx="165.47" cy="393.83" r="1.10" fill="#555"/>
<circle cx="170.60" cy="377.15" r="1.10" fill="#555"/>
<line x1="22.70" y1="400.40" x2="22.70" y2="249.20" stroke="#444" stroke-width="0.7"/>
<line x1="22.70" y1="400.40" x2="174.20" y2="400.40" stroke="#444" stroke-width="0.7"/>
<path d="M21.10,251.20 L22.70,247.70 L24.30,251.20 Z" fill="#444"/>
<path d="M172.20,398.80 L175.70,400.40 L172.20,402.00 Z" fill="#444"/>
<text x="20.20" y="258.00" font-size="7.84" fill="#222" text-anchor="end" textLength="4.57" lengthAdjust="spacingAndGlyphs" stroke="#222" stroke-width="0.16">4</text>
<line x1="21.10" y1="255.30" x2="22.30" y2="255.30" stroke="#444" stroke-width="0.5"/>
<text x="20.20" y="281.50" font-size="7.84" fill="#222" text-anchor="end" textLength="4.57" lengthAdjust="spacingAndGlyphs" stroke="#222" stroke-width="0.16">2</text>
<line x1="21.10" y1="278.80" x2="22.30" y2="278.80" stroke="#444" stroke-width="0.5"/>
<text x="20.20" y="305.00" font-size="7.84" fill="#222" text-anchor="end" textLength="4.57" lengthAdjust="spacingAndGlyphs" stroke="#222" stroke-width="0.16">0</text>
<line x1="21.10" y1="302.30" x2="22.30" y2="302.30" stroke="#444" stroke-width="0.5"/>
<text x="20.20" y="328.50" font-size="7.84" fill="#222" text-anchor="end" textLength="7.66" lengthAdjust="spacingAndGlyphs" stroke="#222" stroke-width="0.16">-2</text>
<line x1="21.10" y1="325.80" x2="22.30" y2="325.80" stroke="#444" stroke-width="0.5"/>
<text x="20.20" y="352.00" font-size="7.84" fill="#222" text-anchor="end" textLength="7.66" lengthAdjust="spacingAndGlyphs" stroke="#222" stroke-width="0.16">-4</text>
<line x1="21.10" y1="349.30" x2="22.30" y2="349.30" stroke="#444" stroke-width="0.5"/>
<text x="20.20" y="375.50" font-size="7.84" fill="#222" text-anchor="end" textLength="7.66" lengthAdjust="spacingAndGlyphs" stroke="#222" stroke-width="0.16">-6</text>
<line x1="21.10" y1="372.80" x2="22.30" y2="372.80" stroke="#444" stroke-width="0.5"/>
<text x="20.20" y="399.00" font-size="7.84" fill="#222" text-anchor="end" textLength="7.66" lengthAdjust="spacingAndGlyphs" stroke="#222" stroke-width="0.16">-8</text>
<line x1="21.10" y1="396.30" x2="22.30" y2="396.30" stroke="#444" stroke-width="0.5"/>
<text x="42.65" y="410.20" font-size="7.84" fill="#222" text-anchor="middle" textLength="4.57" lengthAdjust="spacingAndGlyphs" stroke="#222" stroke-width="0.16">5</text>
<line x1="42.35" y1="400.40" x2="42.35" y2="401.70" stroke="#444" stroke-width="0.5"/>
<text x="68.30" y="410.20" font-size="7.84" fill="#222" text-anchor="middle" textLength="9.13" lengthAdjust="spacingAndGlyphs" stroke="#222" stroke-width="0.16">10</text>
<line x1="68.00" y1="400.40" x2="68.00" y2="401.70" stroke="#444" stroke-width="0.5"/>
<text x="93.95" y="410.20" font-size="7.84" fill="#222" text-anchor="middle" textLength="9.13" lengthAdjust="spacingAndGlyphs" stroke="#222" stroke-width="0.16">15</text>
<line x1="93.65" y1="400.40" x2="93.65" y2="401.70" stroke="#444" stroke-width="0.5"/>
<text x="119.60" y="410.20" font-size="7.84" fill="#222" text-anchor="middle" textLength="9.13" lengthAdjust="spacingAndGlyphs" stroke="#222" stroke-width="0.16">20</text>
<line x1="119.30" y1="400.40" x2="119.30" y2="401.70" stroke="#444" stroke-width="0.5"/>
<text x="145.25" y="410.20" font-size="7.84" fill="#222" text-anchor="middle" textLength="9.13" lengthAdjust="spacingAndGlyphs" stroke="#222" stroke-width="0.16">25</text>
<line x1="144.95" y1="400.40" x2="144.95" y2="401.70" stroke="#444" stroke-width="0.5"/>
<text x="170.90" y="410.20" font-size="7.84" fill="#222" text-anchor="middle" textLength="9.13" lengthAdjust="spacingAndGlyphs" stroke="#222" stroke-width="0.16">30</text>
<line x1="170.60" y1="400.40" x2="170.60" y2="401.70" stroke="#444" stroke-width="0.5"/>
<text x="14.80" y="243.30" font-size="6.5" fill="#222" textLength="21" lengthAdjust="spacingAndGlyphs" stroke="#222" stroke-width="0.16">x 10<tspan font-size="5" dy="-2.5">-2</tspan></text>
<text x="102.90" y="421.80" font-size="10.7" fill="#222" text-anchor="middle" textLength="59" lengthAdjust="spacingAndGlyphs" stroke="#222" stroke-width="0.16">Density (%)</text>
<text x="8.40" y="322.50" font-size="10.7" fill="#222" text-anchor="middle" textLength="50" lengthAdjust="spacingAndGlyphs" transform="rotate(-90 8.4 322.5)" stroke="#222" stroke-width="0.16">Difference</text>
<text x="13.50" y="216.90" font-size="10.9" fill="#a3a3a3" textLength="63" lengthAdjust="spacingAndGlyphs" stroke="#a3a3a3" stroke-width="0.16">Low density</text>
<text x="51.30" y="233.00" font-size="10.9" fill="#6e6e6e" textLength="83.6" lengthAdjust="spacingAndGlyphs" stroke="#6e6e6e" stroke-width="0.16">Medium density</text>
<text x="111.50" y="216.90" font-size="10.9" fill="#3a3a3a" textLength="66" lengthAdjust="spacingAndGlyphs" stroke="#3a3a3a" stroke-width="0.16">High density</text>
<line x1="45.20" y1="277.30" x2="45.20" y2="226.30" stroke="#a3a3a3" stroke-width="0.9"/>
<path d="M43.20,227.30 L45.20,222.80 L47.20,227.30 Z" fill="#a3a3a3"/>
<line x1="93.80" y1="277.30" x2="93.80" y2="242.90" stroke="#6e6e6e" stroke-width="0.9"/>
<path d="M91.80,243.90 L93.80,239.40 L95.80,243.90 Z" fill="#6e6e6e"/>
<line x1="144.20" y1="277.30" x2="144.20" y2="226.30" stroke="#3a3a3a" stroke-width="0.9"/>
<path d="M142.20,227.30 L144.20,222.80 L146.20,227.30 Z" fill="#3a3a3a"/>
<text x="197.40" y="185.80" font-size="15.2" fill="#111" font-weight="bold" textLength="15.6" lengthAdjust="spacingAndGlyphs">F)</text>
<text x="247.10" y="184.80" font-size="12.6" fill="#a0a0a0" textLength="72" lengthAdjust="spacingAndGlyphs" stroke="#a0a0a0" stroke-width="0.08">Low density</text>
<path d="M315.9 262.9h0M295.2 257.5h0M307.5 224.2h0M234.4 257.6h0M339.4 260.4h0M273.7 239.1h0M237.1 266.5h0M336.7 264.7h0M303.5 249.8h0M303.0 248.7h0M248.6 256.6h0M324.4 305.2h0M306.2 237.3h0M250.0 250.3h0M245.6 276.2h0M336.2 254.6h0M264.0 263.5h0M275.9 245.0h0M301.1 252.9h0M275.7 267.6h0M223.9 243.2h0M254.5 240.2h0M279.5 237.7h0M313.5 262.2h0M295.3 240.3h0M274.5 274.2h0M246.4 234.5h0M316.3 286.6h0M245.9 253.6h0M309.1 267.7h0M288.9 260.7h0M269.1 278.0h0M247.8 248.4h0M243.9 270.5h0M299.4 258.5h0M256.4 242.5h0M225.6 258.7h0M246.6 250.4h0M332.4 233.2h0M307.7 246.6h0M292.2 279.8h0M271.2 264.5h0M320.2 250.0h0M254.9 227.6h0M298.4 292.2h0M299.9 265.7h0M338.4 274.1h0M307.3 245.1h0M232.9 238.0h0M261.2 227.3h0M332.2 263.1h0M226.0 240.9h0M225.3 273.0h0M235.2 248.3h0M263.8 268.7h0M327.8 222.9h0M290.4 230.4h0M301.9 274.9h0M244.5 270.4h0M268.7 236.0h0M297.8 262.1h0M291.6 286.6h0M256.8 248.7h0M245.0 272.9h0M273.5 260.7h0M254.0 256.3h0M329.1 273.8h0M318.6 258.6h0M238.1 231.4h0M316.6 269.5h0M225.7 251.2h0M239.8 236.5h0M306.4 253.5h0M321.3 278.9h0M305.0 265.5h0M299.3 241.5h0M294.6 257.7h0M331.4 226.0h0M321.9 259.4h0M339.8 255.1h0M274.7 219.0h0M258.7 281.6h0M326.3 243.6h0M332.1 234.5h0M308.7 278.3h0M225.1 276.5h0M319.5 255.8h0M341.5 250.0h0M256.9 278.3h0M313.5 270.3h0M311.9 233.1h0M265.9 222.7h0M233.0 248.4h0M244.6 235.0h0M290.7 273.8h0M279.5 233.7h0M304.8 273.5h0M264.9 269.2h0M294.1 249.1h0M268.1 255.3h0M314.3 279.2h0M224.7 281.7h0M230.7 275.3h0M313.9 218.3h0M298.6 256.5h0M335.8 255.9h0M273.9 251.6h0M325.7 262.2h0M335.1 271.2h0M304.6 220.5h0M265.4 233.5h0M311.5 264.9h0M286.8 242.0h0M303.6 231.9h0M333.4 253.7h0M224.9 252.5h0M306.3 250.3h0M331.6 282.6h0M268.0 245.2h0M291.0 267.2h0M227.4 265.0h0M318.7 285.4h0M281.4 277.7h0M302.0 268.3h0M315.7 233.4h0M226.2 245.2h0M246.2 218.0h0M273.1 219.2h0M295.7 248.8h0M267.1 236.8h0M256.6 241.6h0M226.9 265.0h0M274.2 266.1h0M334.5 268.9h0M227.4 248.6h0M294.5 270.0h0M247.9 268.6h0M318.9 273.6h0M249.3 237.5h0M338.3 268.0h0M260.5 237.4h0M305.2 219.0h0M254.7 239.9h0M258.3 264.0h0M258.5 251.6h0M227.1 261.2h0M225.3 232.7h0M225.1 284.3h0M327.5 299.6h0M272.7 266.2h0M280.4 233.0h0M289.7 259.9h0M267.7 227.0h0M315.8 260.6h0M264.3 266.1h0M319.0 266.8h0M270.0 231.7h0M238.9 265.4h0M273.0 246.7h0M227.3 252.9h0M269.5 271.3h0M307.2 236.4h0M341.5 238.4h0M242.2 254.2h0M295.6 264.2h0M322.5 236.0h0M304.2 259.9h0M251.4 243.7h0M273.3 254.2h0M333.8 269.9h0M285.2 265.4h0M303.5 232.7h0M260.2 261.4h0M317.2 254.6h0M290.1 233.8h0M316.5 242.0h0M256.9 267.2h0M251.2 259.0h0M294.0 210.1h0M233.2 231.7h0M264.6 239.5h0M302.1 256.6h0M256.6 240.3h0M279.6 245.0h0M312.9 273.1h0M254.9 234.4h0M286.6 254.7h0M340.5 238.1h0M255.7 244.7h0M322.7 275.2h0M330.5 261.0h0M311.8 291.3h0M262.2 231.8h0M282.8 256.9h0M332.6 270.6h0M225.1 266.4h0M326.8 245.2h0M254.7 222.6h0M241.2 222.4h0M322.8 287.7h0M317.1 274.1h0M228.6 241.5h0M258.6 271.0h0M311.9 282.1h0M330.3 287.0h0M258.2 248.1h0M265.8 242.7h0M227.8 253.0h0M235.7 230.7h0M231.4 251.9h0M309.2 275.0h0M248.3 256.2h0M278.8 228.7h0M255.8 239.6h0M285.1 244.3h0M289.2 259.8h0M264.7 229.9h0M330.8 257.3h0M278.9 245.7h0M270.7 230.2h0M287.7 241.2h0M336.7 260.5h0M274.9 276.0h0M264.3 228.4h0M335.7 221.5h0M300.3 277.7h0M239.7 251.1h0M288.3 234.6h0M320.3 238.9h0M290.4 264.9h0M254.9 276.5h0M266.6 261.8h0M309.8 254.1h0M289.4 268.0h0M225.8 251.2h0M261.7 233.3h0M311.1 259.2h0M231.1 230.0h0M271.2 232.3h0M289.6 268.4h0M259.5 292.8h0M304.7 251.8h0M231.5 232.6h0M312.9 249.2h0M327.1 266.5h0M285.4 246.5h0M278.7 213.2h0M235.7 253.0h0M284.8 209.5h0M260.4 240.8h0M325.7 238.9h0M243.2 265.2h0M228.7 232.6h0M316.7 244.3h0M339.3 265.8h0M326.4 239.1h0M308.5 253.8h0M316.5 275.1h0M293.3 228.9h0M283.5 257.2h0M335.8 264.4h0M328.7 260.3h0M310.2 248.8h0M333.4 264.6h0M227.1 243.0h0M225.1 248.1h0M253.9 274.2h0M224.7 237.4h0M289.8 243.7h0M247.2 240.5h0M327.2 252.8h0M235.2 236.7h0M231.0 255.7h0M334.4 260.8h0M266.7 250.7h0M256.7 258.5h0M261.7 214.2h0M325.8 263.3h0M302.7 272.8h0M240.5 246.1h0M267.9 217.5h0M256.0 249.6h0M333.9 241.7h0M307.2 219.3h0M306.5 238.9h0M286.4 295.0h0M251.3 260.3h0M261.9 230.3h0M315.3 279.3h0M253.3 239.4h0M304.3 257.2h0M252.3 258.0h0M242.7 261.6h0M328.0 202.1h0M230.0 235.4h0M249.0 263.1h0M301.3 234.9h0M266.2 257.2h0M243.1 258.0h0M241.6 256.2h0M285.5 241.1h0M260.1 232.8h0M330.2 254.7h0M311.8 283.3h0M281.6 261.4h0M300.7 231.8h0M250.2 272.9h0M274.7 244.5h0M319.0 268.5h0M330.2 263.3h0M241.4 259.6h0M261.6 261.2h0M315.0 275.7h0M257.6 245.5h0M263.7 238.5h0M322.4 267.5h0M236.9 242.4h0M303.4 251.7h0M234.7 261.1h0M332.9 242.2h0M238.0 237.2h0M316.3 266.5h0M249.5 249.0h0M320.7 253.3h0M263.1 257.2h0M287.4 226.6h0M234.5 234.9h0M330.3 232.8h0M255.0 245.4h0M290.8 263.1h0M331.2 256.3h0M306.9 245.0h0M331.9 247.6h0M289.1 278.2h0M302.9 241.2h0M335.0 258.3h0M273.4 242.4h0M286.9 267.1h0M286.6 251.8h0M336.7 238.5h0M301.3 242.4h0M286.3 239.9h0M241.9 282.7h0M310.0 227.0h0M299.4 262.7h0M291.0 237.4h0M262.7 224.1h0M241.4 257.9h0M250.6 251.3h0M291.5 276.6h0M299.7 282.9h0M337.6 256.9h0M228.3 269.8h0M227.5 245.2h0M270.7 252.8h0M294.4 262.9h0M265.2 245.6h0M319.9 252.7h0M273.9 247.3h0M336.7 260.2h0M254.4 263.9h0M235.5 221.2h0M280.9 273.0h0M309.8 240.7h0M265.2 207.2h0M252.7 243.4h0M290.1 275.2h0M320.6 237.0h0M291.7 237.9h0M294.6 259.8h0M270.5 251.9h0M300.9 258.2h0M313.4 275.2h0M339.0 253.8h0M274.8 250.5h0M277.9 266.0h0M282.2 282.4h0M310.2 267.0h0M279.3 267.3h0M284.3 242.4h0M238.0 272.0h0M229.4 257.4h0M241.0 260.3h0M297.4 284.2h0M332.3 262.4h0M322.0 265.3h0M278.8 284.0h0M288.8 267.7h0M264.6 247.1h0M267.2 249.6h0M336.6 248.2h0M242.5 221.8h0M323.9 271.1h0M315.9 273.0h0M285.7 254.5h0M330.4 251.2h0M223.9 263.9h0M329.3 262.1h0M230.5 240.9h0M259.1 248.6h0M224.3 235.2h0M338.0 254.6h0M337.2 253.7h0M275.0 263.1h0M307.5 290.0h0M229.8 255.4h0M289.2 255.9h0M288.8 252.8h0M260.1 268.8h0M302.2 233.2h0M280.4 261.9h0M281.9 257.5h0M265.0 258.9h0M308.5 243.5h0M298.4 234.3h0M301.7 268.2h0M247.3 264.2h0M300.3 240.6h0M311.0 263.1h0M299.6 280.0h0M317.0 258.8h0M272.0 279.8h0M340.6 231.4h0M328.3 292.9h0M286.4 262.2h0M259.5 265.4h0M241.0 242.5h0M272.2 273.4h0M237.8 217.5h0M254.9 280.9h0M242.1 269.0h0M313.3 266.8h0M260.7 231.4h0M336.5 262.1h0M305.1 257.4h0M258.3 262.0h0M240.5 259.8h0M265.3 251.8h0M289.1 221.8h0M225.6 247.8h0M291.3 292.0h0M248.9 233.3h0M243.4 229.5h0M241.9 238.2h0M258.0 297.4h0M295.6 264.8h0M254.4 246.1h0M303.0 278.1h0M282.4 280.9h0M265.6 263.4h0M337.0 232.1h0M333.9 251.9h0M247.8 265.7h0M278.9 254.8h0M289.7 234.3h0M264.8 267.9h0M267.3 265.5h0M336.9 258.5h0M293.6 249.8h0M334.1 259.4h0M264.8 261.1h0M300.1 262.9h0M317.3 244.6h0M249.7 268.2h0M228.3 250.7h0M319.3 277.3h0M328.8 267.8h0M229.2 245.9h0M327.3 252.9h0M280.2 235.6h0M232.7 237.4h0M253.5 302.9h0M243.8 249.3h0M285.5 241.6h0M341.1 245.6h0M270.4 250.5h0M305.0 258.1h0M259.3 250.6h0M239.7 250.0h0M339.2 290.5h0M328.2 251.3h0M235.6 223.2h0M287.8 265.3h0M311.6 272.7h0M260.1 257.1h0M229.9 283.1h0M255.6 252.4h0M290.4 262.3h0M325.3 255.3h0M226.2 281.2h0M307.7 253.0h0M262.8 262.3h0M278.7 284.2h0M228.5 260.6h0M314.5 284.4h0M260.7 268.6h0M303.2 244.2h0M237.7 229.1h0M273.3 302.3h0M258.1 266.7h0M251.3 262.5h0M294.2 238.3h0M284.4 243.0h0M309.1 232.9h0M249.2 269.1h0M227.9 229.5h0M325.6 269.8h0M324.4 241.6h0M324.0 246.6h0M250.5 251.2h0M307.7 233.6h0M300.2 222.8h0M254.7 277.1h0M224.6 262.9h0M331.0 248.8h0M262.1 227.1h0M255.1 231.8h0M285.1 262.4h0M321.9 236.6h0M272.9 249.2h0M286.3 218.9h0M337.9 246.8h0M297.3 262.2h0M320.1 269.6h0M251.4 261.3h0M250.9 260.7h0M236.2 246.0h0M255.9 249.4h0M251.4 286.6h0M319.8 292.5h0M336.3 270.3h0M301.2 221.3h0M332.7 230.3h0M248.7 263.9h0M226.0 237.8h0M309.0 258.6h0M284.0 273.7h0M303.8 219.1h0M236.9 225.0h0M246.9 247.6h0M316.1 288.8h0M269.2 233.6h0M233.7 249.5h0M282.9 264.2h0M300.7 269.1h0M262.8 241.3h0M284.6 260.3h0M312.5 257.6h0M325.8 259.5h0M253.4 250.0h0M310.3 268.9h0M249.2 253.4h0M280.0 283.1h0M310.8 279.4h0M261.5 250.4h0M296.6 278.6h0M297.2 286.8h0M281.6 257.7h0M273.6 234.4h0M239.0 235.7h0M269.5 258.8h0M316.6 217.2h0M244.1 266.6h0M315.8 247.3h0M332.3 276.0h0M285.4 244.0h0M280.5 261.0h0M289.1 272.2h0M326.5 260.1h0M289.7 253.0h0M290.6 257.5h0M315.7 229.1h0M260.2 241.8h0M227.3 273.0h0M333.4 254.5h0M269.2 226.3h0M281.5 230.1h0M307.2 282.8h0M249.3 257.9h0M254.1 289.2h0M251.6 251.6h0M308.7 276.5h0M274.7 254.8h0M341.3 259.8h0M328.0 303.2h0M337.8 300.8h0M248.5 281.9h0M248.2 246.6h0M313.5 306.7h0M300.1 228.5h0M259.9 219.8h0M225.8 238.4h0M339.1 253.2h0M318.5 240.4h0M278.1 268.7h0M232.9 223.3h0M285.7 268.5h0M279.2 277.7h0M306.3 255.2h0M240.5 236.3h0M334.2 228.6h0M340.7 278.4h0M248.5 283.0h0" stroke="#adadad" stroke-width="2.20" stroke-linecap="round" fill="none"/>
<path d="M298.2 235.9h0M247.1 284.8h0M340.8 262.4h0M282.5 251.8h0M225.3 253.7h0M293.5 282.6h0M229.1 254.5h0M312.4 220.9h0M313.4 257.1h0M261.8 255.3h0M227.3 238.5h0M314.9 282.6h0M256.5 279.7h0M237.2 257.7h0M293.2 241.3h0M245.9 269.0h0M277.4 252.2h0M251.8 254.2h0M338.3 282.3h0M231.4 232.0h0M272.2 255.9h0M331.8 254.4h0M269.5 235.8h0M245.2 246.9h0M254.5 259.7h0M251.4 265.9h0M282.9 252.0h0M261.7 266.3h0M235.0 239.7h0M254.9 257.9h0M334.0 207.0h0M284.9 254.3h0M334.0 246.8h0M260.2 259.4h0M274.7 269.3h0M298.0 246.3h0M317.7 229.7h0M314.9 255.9h0M306.9 253.9h0M281.2 227.9h0M253.1 276.4h0M317.3 269.1h0M235.4 255.8h0M255.0 262.1h0M319.7 253.5h0M268.6 275.1h0M231.5 239.0h0M260.9 246.4h0M335.5 268.1h0M297.6 274.2h0M327.1 272.7h0M271.7 262.1h0M267.3 241.9h0M233.2 246.5h0M295.3 238.4h0M259.0 235.5h0M253.8 260.4h0M307.5 281.6h0M236.4 271.5h0M245.6 265.9h0M267.5 292.6h0M264.9 250.2h0M281.7 270.4h0M283.9 236.9h0M239.8 248.5h0M334.0 234.6h0M291.8 241.5h0M281.5 239.9h0M269.3 274.8h0M288.2 248.0h0M253.4 264.7h0M295.5 274.1h0M281.6 252.9h0M290.0 237.9h0M229.3 290.9h0M263.8 294.3h0M247.3 245.0h0M239.3 257.7h0M265.8 233.6h0M316.2 271.8h0M236.9 254.6h0M340.5 264.3h0M293.6 291.7h0M304.7 261.5h0M233.3 248.2h0M281.6 240.2h0M314.4 263.1h0M237.6 241.1h0M255.7 293.8h0M320.9 261.1h0M279.5 254.2h0M269.6 285.8h0M236.7 261.2h0M309.2 248.6h0M234.1 258.4h0" stroke="#858585" stroke-width="2.20" stroke-linecap="round" fill="none"/>
<polygon points="223.00,247.60 343.50,253.20 343.50,260.40 223.00,254.80" fill="#f7bb8c" fill-opacity="0.95"/>
<line x1="223.00" y1="251.20" x2="343.50" y2="256.80" stroke="#1a1a1a" stroke-width="1.0" stroke-dasharray="3,2.4"/>
<line x1="222.90" y1="313.50" x2="222.90" y2="194.30" stroke="#bdbdbd" stroke-width="1.2"/>
<path d="M222.00,195.30 L222.90,193.00 L223.80,195.30 Z" fill="#444"/>
<line x1="222.40" y1="313.50" x2="342.50" y2="313.50" stroke="#555" stroke-width="0.6"/>
<path d="M341.00,312.30 L343.80,313.50 L341.00,314.70 Z" fill="#444"/>
<line x1="227.30" y1="313.50" x2="227.30" y2="314.80" stroke="#555" stroke-width="0.5"/>
<line x1="244.37" y1="313.50" x2="244.37" y2="314.80" stroke="#555" stroke-width="0.5"/>
<line x1="261.43" y1="313.50" x2="261.43" y2="314.80" stroke="#555" stroke-width="0.5"/>
<line x1="278.50" y1="313.50" x2="278.50" y2="314.80" stroke="#555" stroke-width="0.5"/>
<line x1="295.57" y1="313.50" x2="295.57" y2="314.80" stroke="#555" stroke-width="0.5"/>
<line x1="312.63" y1="313.50" x2="312.63" y2="314.80" stroke="#555" stroke-width="0.5"/>
<line x1="329.70" y1="313.50" x2="329.70" y2="314.80" stroke="#555" stroke-width="0.5"/>
<line x1="221.30" y1="201.80" x2="222.40" y2="201.80" stroke="#555" stroke-width="0.5"/>
<line x1="221.30" y1="228.50" x2="222.40" y2="228.50" stroke="#555" stroke-width="0.5"/>
<line x1="221.30" y1="255.50" x2="222.40" y2="255.50" stroke="#555" stroke-width="0.5"/>
<line x1="221.30" y1="282.30" x2="222.40" y2="282.30" stroke="#555" stroke-width="0.5"/>
<line x1="221.30" y1="309.50" x2="222.40" y2="309.50" stroke="#555" stroke-width="0.5"/>
<text x="220.70" y="204.00" font-size="6.41" fill="#333" text-anchor="end" textLength="13.33" lengthAdjust="spacingAndGlyphs" stroke="#333" stroke-width="0.16">78.8</text>
<text x="220.70" y="230.70" font-size="6.41" fill="#333" text-anchor="end" textLength="13.33" lengthAdjust="spacingAndGlyphs" stroke="#333" stroke-width="0.16">78.2</text>
<text x="220.70" y="257.70" font-size="6.41" fill="#333" text-anchor="end" textLength="13.33" lengthAdjust="spacingAndGlyphs" stroke="#333" stroke-width="0.16">77.6</text>
<text x="220.70" y="284.50" font-size="6.41" fill="#333" text-anchor="end" textLength="13.33" lengthAdjust="spacingAndGlyphs" stroke="#333" stroke-width="0.16">77.0</text>
<text x="220.70" y="311.70" font-size="6.41" fill="#333" text-anchor="end" textLength="13.33" lengthAdjust="spacingAndGlyphs" stroke="#333" stroke-width="0.16">76.4</text>
<text x="227.30" y="321.50" font-size="6.41" fill="#333" text-anchor="middle" textLength="7.46" lengthAdjust="spacingAndGlyphs" stroke="#333" stroke-width="0.16">20</text>
<text x="244.37" y="321.50" font-size="6.41" fill="#333" text-anchor="middle" textLength="7.46" lengthAdjust="spacingAndGlyphs" stroke="#333" stroke-width="0.16">30</text>
<text x="261.43" y="321.50" font-size="6.41" fill="#333" text-anchor="middle" textLength="7.46" lengthAdjust="spacingAndGlyphs" stroke="#333" stroke-width="0.16">40</text>
<text x="278.50" y="321.50" font-size="6.41" fill="#333" text-anchor="middle" textLength="7.46" lengthAdjust="spacingAndGlyphs" stroke="#333" stroke-width="0.16">50</text>
<text x="295.57" y="321.50" font-size="6.41" fill="#333" text-anchor="middle" textLength="7.46" lengthAdjust="spacingAndGlyphs" stroke="#333" stroke-width="0.16">60</text>
<text x="312.63" y="321.50" font-size="6.41" fill="#333" text-anchor="middle" textLength="7.46" lengthAdjust="spacingAndGlyphs" stroke="#333" stroke-width="0.16">70</text>
<text x="329.70" y="321.50" font-size="6.41" fill="#333" text-anchor="middle" textLength="7.46" lengthAdjust="spacingAndGlyphs" stroke="#333" stroke-width="0.16">80</text>
<text x="285.90" y="329.40" font-size="7.6" fill="#222" text-anchor="middle" textLength="44.5" lengthAdjust="spacingAndGlyphs" stroke="#222" stroke-width="0.16">Age (years)</text>
<text x="202.40" y="254.00" font-size="7.6" fill="#222" text-anchor="middle" textLength="91.5" lengthAdjust="spacingAndGlyphs" transform="rotate(-90 202.4 254)" stroke="#222" stroke-width="0.16">Memory capacity (AUC)</text>
<path d="M241.8 438.1h0M251.2 432.9h0M253.1 424.8h0M249.3 431.2h0M242.1 389.1h0M247.5 421.7h0M239.6 433.6h0M255.1 369.1h0M248.2 421.7h0M246.0 367.2h0M240.4 384.4h0M247.6 433.9h0M246.0 435.3h0M239.8 365.1h0M248.5 419.3h0M257.7 423.2h0M249.6 379.1h0M254.7 419.6h0M245.8 415.6h0M244.3 417.2h0M258.3 382.9h0M238.9 423.7h0M247.0 417.6h0M256.2 437.2h0M245.2 419.9h0M252.7 425.9h0M257.6 367.7h0M260.4 371.9h0M250.4 413.9h0M250.5 410.7h0M242.4 439.4h0M259.7 372.3h0M256.4 430.0h0M238.9 425.5h0M244.8 380.6h0M244.5 414.3h0M250.3 363.8h0M244.0 435.3h0M245.2 412.3h0M250.6 379.8h0M257.6 387.0h0M252.5 419.8h0M247.6 389.4h0M253.8 378.3h0M244.3 386.9h0M252.9 386.3h0M255.5 374.3h0M249.5 383.0h0M238.8 425.6h0M249.8 389.0h0M244.0 377.3h0M248.9 380.7h0M258.4 418.2h0M260.0 383.0h0M240.1 420.0h0M257.7 420.2h0M252.1 422.6h0M251.1 373.7h0M248.8 367.0h0M252.6 414.5h0M249.2 376.4h0M253.3 418.5h0M251.8 380.7h0M259.2 384.3h0M250.7 386.6h0M254.6 411.2h0M260.0 388.2h0M247.7 376.8h0M259.8 375.7h0M258.1 370.4h0M242.7 370.8h0M256.2 382.2h0M247.3 414.0h0M239.6 387.6h0M253.4 425.4h0M244.6 381.0h0M255.4 375.0h0M242.8 431.2h0M240.5 384.5h0M260.0 385.4h0M247.3 417.6h0M255.5 420.7h0M242.4 369.0h0M247.9 419.4h0M258.1 378.5h0M260.2 387.0h0M246.8 421.4h0M240.4 430.4h0M244.6 385.6h0M259.7 410.7h0M251.2 363.7h0M247.5 431.9h0M238.9 380.5h0M255.7 376.2h0M252.8 413.8h0M251.4 413.5h0M250.1 385.7h0M256.8 415.4h0M254.1 379.5h0M255.7 380.5h0M245.9 375.7h0M245.8 369.1h0M248.4 423.1h0M253.8 376.0h0M255.8 414.3h0M256.4 432.1h0M246.4 417.7h0M246.5 430.3h0M247.7 375.1h0M244.5 411.5h0M242.3 377.5h0M258.3 422.5h0M252.5 433.0h0M260.0 410.7h0M250.8 423.5h0M259.5 410.7h0M245.2 410.6h0M239.1 421.3h0M250.2 386.9h0M246.1 381.9h0M251.0 412.9h0M251.5 424.9h0M248.0 388.0h0M253.5 419.2h0M245.4 386.8h0M247.9 370.0h0M254.2 381.7h0M245.4 378.5h0M253.4 376.7h0M253.5 365.8h0M259.5 385.1h0M256.8 435.1h0M256.5 377.7h0M260.4 364.5h0M259.5 369.8h0M248.6 389.4h0M243.0 383.2h0M246.0 382.7h0M253.4 419.8h0M260.5 367.8h0M247.0 384.4h0M243.1 363.7h0M239.1 420.4h0M248.1 384.0h0M243.1 384.4h0M260.4 425.7h0M241.4 382.5h0M248.9 420.6h0M241.5 423.1h0M249.9 420.7h0M254.7 366.0h0M245.3 420.6h0M257.4 414.1h0M252.7 423.0h0M259.8 368.6h0M253.7 382.4h0M258.7 418.7h0M246.3 413.5h0M254.2 381.1h0M241.9 414.5h0M253.2 415.9h0M252.7 378.8h0M244.4 427.1h0M246.2 389.0h0M246.9 434.0h0M255.7 386.9h0M247.7 413.4h0M240.4 374.5h0M255.8 379.4h0M249.9 381.9h0M252.1 426.8h0M256.3 379.6h0M259.1 385.3h0M247.0 435.1h0" stroke="#444" stroke-width="0.84" stroke-linecap="round" fill="none"/>
<line x1="249.50" y1="359.40" x2="249.50" y2="440.90" stroke="#f7a66a" stroke-width="0.8"/>
<rect x="239.30" y="389.50" width="20.50" height="21.10" fill="#fcdcc0" stroke="#f8b887" stroke-width="0.7"/>
<path d="M242.8 391.8h0M255.5 409.9h0M248.9 410.1h0M248.3 409.0h0M256.9 397.4h0M255.8 391.3h0M240.2 408.6h0M251.4 404.7h0M249.6 410.4h0M258.4 397.9h0M260.0 392.1h0M244.0 394.4h0M247.0 400.7h0M258.1 393.4h0M253.4 409.5h0M242.3 400.1h0M244.5 397.2h0M249.0 399.5h0M242.3 409.3h0M241.1 405.3h0M239.8 405.6h0M247.9 396.6h0M243.6 396.9h0M248.5 402.5h0M243.7 393.7h0M256.4 394.3h0M238.5 409.8h0M250.2 408.6h0M249.7 389.6h0M257.4 402.1h0M248.9 389.9h0M252.4 397.3h0M251.2 391.3h0M250.5 399.9h0M240.7 401.9h0M258.3 398.9h0M246.4 410.5h0M242.8 390.2h0M255.1 392.5h0M251.6 399.9h0M241.3 403.2h0M243.2 404.3h0M240.2 407.9h0M240.2 409.3h0M246.2 405.2h0M249.8 402.7h0M245.3 396.8h0M241.7 405.9h0M256.3 407.9h0M243.8 395.8h0M241.2 392.9h0M244.6 389.5h0M253.7 396.9h0M257.5 392.3h0M258.9 396.3h0M258.1 406.2h0M259.1 391.5h0M244.4 409.2h0M244.3 408.1h0M257.8 405.6h0M256.5 404.6h0M256.1 406.7h0M249.4 403.9h0M256.5 396.9h0M239.9 403.9h0M254.2 396.1h0M257.8 407.8h0M255.4 402.5h0M251.9 404.8h0M243.6 408.1h0M256.4 389.6h0M239.9 401.2h0M249.4 395.1h0M258.4 403.5h0M240.9 401.2h0M259.2 397.1h0M249.1 395.0h0M260.1 396.5h0M256.6 398.7h0M252.3 390.2h0M240.5 410.3h0M241.0 397.5h0M253.7 403.1h0M260.4 405.1h0M256.3 399.2h0M259.8 400.3h0M242.7 400.4h0M254.4 406.7h0M255.5 400.4h0M242.1 408.8h0M244.8 401.1h0M259.9 408.5h0M253.5 408.5h0M249.4 395.6h0M243.8 404.9h0M242.2 391.7h0M258.0 396.4h0M254.7 400.9h0M255.6 407.7h0M259.0 397.4h0M240.5 410.2h0M253.4 399.1h0M248.3 394.9h0M257.4 399.6h0M258.9 393.3h0M242.4 407.1h0M239.9 405.7h0M252.9 399.4h0M245.4 389.6h0M250.4 391.7h0M246.1 409.4h0M239.9 391.6h0M240.3 389.6h0M249.1 389.6h0M253.7 395.4h0M243.2 399.9h0M242.3 405.3h0M251.8 405.1h0M259.4 398.3h0M255.3 403.5h0M248.7 408.9h0M250.2 391.4h0M244.3 408.8h0M258.0 396.3h0" stroke="#444" stroke-width="0.84" stroke-linecap="round" fill="none"/>
<line x1="239.30" y1="400.05" x2="259.80" y2="400.05" stroke="#f8b887" stroke-width="0.5"/>
<circle cx="249.50" cy="400.05" r="0.90" fill="#f7a66a"/>
<path d="M320.2 432.1h0M310.1 426.1h0M310.5 374.5h0M305.7 421.5h0M318.9 434.7h0M326.0 443.7h0M325.6 379.6h0M307.2 364.1h0M326.0 425.1h0M322.1 372.0h0M310.4 442.6h0M312.4 441.7h0M310.6 380.0h0M307.3 359.1h0M320.5 426.6h0M305.5 378.2h0M311.5 421.3h0M323.1 445.9h0M315.9 427.5h0M316.5 450.2h0M323.5 361.3h0M325.4 386.7h0M310.2 386.2h0M309.4 422.1h0M311.1 388.6h0M325.3 419.6h0M322.1 433.7h0M325.9 385.4h0M316.0 383.5h0M318.0 418.6h0M323.9 382.8h0M306.1 377.9h0M306.9 434.7h0M308.9 442.1h0M317.2 449.8h0M317.0 373.3h0M312.7 382.4h0M314.3 372.1h0M323.5 418.1h0M309.0 423.3h0M326.9 381.0h0M318.8 417.7h0M325.1 425.6h0M313.8 446.4h0M327.0 418.1h0M316.9 432.0h0M317.8 423.7h0M309.9 430.1h0M326.1 438.8h0M315.2 387.5h0M320.4 430.0h0M312.5 368.1h0M319.4 367.2h0M324.1 426.0h0M308.1 432.3h0M324.7 383.6h0M310.3 353.1h0M319.3 379.6h0M325.7 383.4h0M327.1 452.9h0M309.8 419.0h0M313.9 361.1h0M313.0 359.1h0M325.4 423.7h0M322.2 359.5h0M321.7 418.0h0M317.0 437.9h0M322.2 383.6h0M326.1 365.3h0M311.7 352.4h0M317.1 449.0h0M308.8 422.7h0M325.1 419.6h0M324.3 384.4h0M322.0 363.8h0M324.5 424.0h0M315.1 441.8h0M323.0 431.6h0M305.9 383.4h0M315.1 369.4h0M311.0 417.6h0M317.4 372.1h0M319.7 418.3h0M326.6 354.9h0M306.0 439.3h0M308.6 357.3h0M318.3 386.7h0M324.8 387.7h0M326.1 380.2h0M316.2 451.4h0M325.8 443.1h0M320.2 379.2h0M321.0 373.4h0M319.4 427.3h0M320.6 439.6h0M315.5 418.8h0M308.5 432.4h0M316.5 381.4h0M326.9 384.8h0M315.4 431.0h0M325.7 371.2h0M313.8 362.9h0M324.7 373.3h0M316.2 430.4h0M317.8 426.3h0M310.4 372.1h0M318.7 438.3h0M308.5 432.5h0M321.6 446.7h0M322.6 364.1h0M323.9 364.8h0M312.1 421.1h0M309.7 417.9h0M316.1 385.9h0M307.0 369.1h0M313.0 385.3h0M306.3 388.8h0M312.5 388.9h0M327.2 372.4h0M306.4 374.1h0M326.4 384.2h0M313.6 372.4h0M311.0 376.4h0M326.7 388.8h0M308.6 452.2h0M327.2 418.6h0M307.2 432.4h0M315.4 429.1h0M326.2 447.9h0M319.4 380.9h0M322.2 437.5h0M307.5 372.5h0M321.8 432.7h0M316.1 371.1h0M323.5 426.2h0M310.4 374.5h0M320.8 435.7h0M313.9 433.4h0M312.5 388.7h0M322.9 383.7h0M326.1 377.2h0M306.7 385.2h0M316.2 423.8h0M319.6 363.8h0M316.5 374.7h0M316.4 429.2h0M306.7 419.6h0M315.3 373.5h0M321.7 388.6h0M317.2 418.1h0M318.1 369.5h0M319.6 379.9h0M321.1 358.3h0M327.3 427.9h0M316.7 363.3h0M311.5 426.1h0M316.3 365.5h0M307.3 373.1h0M321.5 375.0h0M315.2 376.4h0M319.7 430.0h0M316.2 429.0h0M306.4 363.0h0M317.0 369.7h0M315.9 425.8h0M306.7 388.8h0M310.0 428.8h0M313.3 436.1h0M320.8 419.9h0M319.1 358.6h0M319.4 423.2h0M326.5 353.4h0M326.1 425.1h0M311.8 421.7h0M309.2 421.8h0M323.2 385.1h0M314.2 417.8h0M321.9 428.4h0M322.7 358.4h0M316.7 423.8h0M311.3 379.6h0M326.9 421.5h0M310.1 436.1h0M309.9 421.2h0M323.5 420.5h0M319.3 428.4h0M310.9 366.8h0M318.4 377.0h0M326.6 441.8h0" stroke="#444" stroke-width="0.84" stroke-linecap="round" fill="none"/>
<line x1="316.50" y1="348.60" x2="316.50" y2="455.80" stroke="#c8203f" stroke-width="0.8"/>
<rect x="305.90" y="389.00" width="20.80" height="28.30" fill="#eba8b8" stroke="#d06080" stroke-width="0.7"/>
<path d="M314.6 399.8h0M325.0 397.2h0M326.9 409.5h0M320.8 400.7h0M308.0 416.8h0M325.0 394.7h0M319.3 411.8h0M316.9 415.9h0M323.8 395.1h0M319.0 399.3h0M322.5 392.1h0M317.1 395.4h0M322.6 396.4h0M317.9 410.3h0M305.9 395.4h0M319.0 401.4h0M324.8 402.2h0M319.7 391.8h0M312.9 400.5h0M325.6 396.1h0M325.0 389.4h0M322.0 399.7h0M316.9 408.4h0M305.6 398.6h0M307.5 401.4h0M318.4 407.3h0M320.9 406.3h0M318.8 393.7h0M318.5 406.5h0M326.5 409.0h0M325.4 407.3h0M318.8 408.3h0M308.0 404.4h0M324.0 390.7h0M305.9 399.9h0M322.4 398.3h0M314.4 393.1h0M308.7 393.2h0M320.4 401.1h0M317.4 402.6h0M312.3 400.7h0M321.8 393.9h0M314.5 392.9h0M317.2 401.1h0M314.2 411.0h0M320.7 403.7h0M320.1 389.4h0M306.5 410.6h0M314.4 392.7h0M309.5 416.3h0M316.5 412.1h0M322.8 413.6h0M322.4 392.3h0M325.4 399.0h0M318.2 390.9h0M305.6 407.9h0M321.5 397.1h0M311.8 413.0h0M323.2 405.4h0M327.2 407.2h0M307.6 391.7h0M309.3 401.0h0M305.9 413.4h0M320.5 405.7h0M324.3 411.9h0M309.7 395.5h0M311.8 395.2h0M308.9 406.0h0M320.1 395.2h0M317.2 403.0h0M310.5 412.6h0M319.7 413.2h0M319.0 393.0h0M327.0 405.0h0M323.7 408.0h0M320.3 390.9h0M319.8 407.2h0M327.5 398.5h0M325.8 413.0h0M306.5 414.8h0M307.1 392.0h0M306.4 395.2h0M311.2 415.8h0M322.1 409.2h0M318.2 390.2h0M325.9 397.6h0M322.3 394.3h0M313.2 395.6h0M305.5 402.4h0M316.2 400.2h0M306.8 399.5h0M325.9 413.8h0M324.2 398.3h0M306.8 397.9h0M316.0 400.0h0M323.4 402.1h0M308.0 402.3h0M324.1 392.5h0M307.9 414.6h0M308.6 414.3h0M319.2 394.9h0M313.7 414.1h0M306.2 409.1h0M325.1 399.2h0M313.3 407.6h0M314.9 397.2h0M317.9 394.5h0M312.6 406.2h0M311.9 395.5h0M321.2 410.2h0M323.7 390.7h0M327.4 404.1h0M318.5 405.1h0M325.5 395.3h0M318.7 410.6h0M311.0 395.6h0M322.1 403.7h0M317.6 412.1h0M306.8 406.2h0M312.2 408.8h0M324.6 401.1h0M309.7 409.5h0M314.3 407.6h0M307.5 400.2h0M317.8 400.9h0M307.1 401.2h0M318.3 395.0h0M323.5 402.9h0M322.4 391.7h0M305.8 412.5h0M319.0 416.8h0M307.5 395.9h0M321.0 409.9h0M308.9 399.3h0M326.9 413.9h0M321.4 389.6h0" stroke="#444" stroke-width="0.84" stroke-linecap="round" fill="none"/>
<line x1="305.90" y1="403.15" x2="326.70" y2="403.15" stroke="#d06080" stroke-width="0.5"/>
<circle cx="316.50" cy="403.15" r="0.90" fill="#c8203f"/>
<line x1="223.00" y1="459.80" x2="223.00" y2="341.40" stroke="#bdbdbd" stroke-width="1.2"/>
<path d="M222.10,342.40 L223.00,340.10 L223.90,342.40 Z" fill="#444"/>
<line x1="222.50" y1="459.80" x2="341.60" y2="459.80" stroke="#555" stroke-width="0.6"/>
<path d="M340.10,458.60 L342.90,459.80 L340.10,461.00 Z" fill="#444"/>
<line x1="249.50" y1="459.80" x2="249.50" y2="461.10" stroke="#555" stroke-width="0.5"/>
<line x1="316.50" y1="459.80" x2="316.50" y2="461.10" stroke="#555" stroke-width="0.5"/>
<line x1="221.40" y1="348.60" x2="222.50" y2="348.60" stroke="#555" stroke-width="0.5"/>
<line x1="221.40" y1="374.70" x2="222.50" y2="374.70" stroke="#555" stroke-width="0.5"/>
<line x1="221.40" y1="400.50" x2="222.50" y2="400.50" stroke="#555" stroke-width="0.5"/>
<line x1="221.40" y1="426.30" x2="222.50" y2="426.30" stroke="#555" stroke-width="0.5"/>
<line x1="221.40" y1="451.60" x2="222.50" y2="451.60" stroke="#555" stroke-width="0.5"/>
<text x="220.80" y="350.80" font-size="6.41" fill="#333" text-anchor="end" textLength="13.33" lengthAdjust="spacingAndGlyphs" stroke="#333" stroke-width="0.16">78.8</text>
<text x="220.80" y="376.90" font-size="6.41" fill="#333" text-anchor="end" textLength="13.33" lengthAdjust="spacingAndGlyphs" stroke="#333" stroke-width="0.16">78.2</text>
<text x="220.80" y="402.70" font-size="6.41" fill="#333" text-anchor="end" textLength="13.33" lengthAdjust="spacingAndGlyphs" stroke="#333" stroke-width="0.16">77.6</text>
<text x="220.80" y="428.50" font-size="6.41" fill="#333" text-anchor="end" textLength="13.33" lengthAdjust="spacingAndGlyphs" stroke="#333" stroke-width="0.16">77.0</text>
<text x="220.80" y="453.80" font-size="6.41" fill="#333" text-anchor="end" textLength="13.33" lengthAdjust="spacingAndGlyphs" stroke="#333" stroke-width="0.16">76.4</text>
<text x="252.30" y="466.80" font-size="6.32" fill="#222" text-anchor="middle" textLength="50.79" lengthAdjust="spacingAndGlyphs" stroke="#222" stroke-width="0.16">Young individuals</text>
<text x="320.80" y="466.80" font-size="7.16" fill="#222" text-anchor="middle" textLength="48.18" lengthAdjust="spacingAndGlyphs" stroke="#222" stroke-width="0.16">Old individuals</text>
<text x="202.50" y="400.00" font-size="7.6" fill="#222" text-anchor="middle" textLength="91.5" lengthAdjust="spacingAndGlyphs" transform="rotate(-90 202.5 400)" stroke="#222" stroke-width="0.16">Memory capacity (AUC)</text>
<text x="365.60" y="185.80" font-size="15.2" fill="#111" font-weight="bold" textLength="16.8" lengthAdjust="spacingAndGlyphs">G)</text>
<text x="405.00" y="184.80" font-size="12.6" fill="#707070" textLength="95.3" lengthAdjust="spacingAndGlyphs" stroke="#707070" stroke-width="0.08">Medium density</text>
<path d="M437.2 233.8h0M404.9 245.2h0M470.5 250.7h0M448.0 222.5h0M509.4 260.2h0M493.5 262.4h0M400.6 244.0h0M465.2 257.0h0M400.5 246.2h0M450.1 251.6h0M432.9 266.6h0M487.2 258.9h0M443.5 243.2h0M406.6 214.3h0M437.5 236.4h0M500.9 253.5h0M439.9 203.7h0M416.4 246.6h0M402.4 224.2h0M454.1 292.6h0M472.2 249.6h0M442.6 246.3h0M493.2 281.2h0M487.3 268.5h0M460.3 253.3h0M463.3 241.3h0M407.4 271.4h0M494.3 246.1h0M478.8 253.9h0M443.4 204.6h0M404.8 227.1h0M416.2 258.4h0M458.7 264.3h0M471.2 288.3h0M397.7 254.8h0M504.2 293.5h0M477.6 278.2h0M509.4 248.4h0M466.7 259.4h0M474.2 271.3h0M505.3 265.8h0M451.7 265.5h0M493.7 268.9h0M505.9 247.8h0M443.0 225.5h0M465.1 250.6h0M463.6 239.2h0M450.4 259.0h0M449.1 296.5h0M420.4 248.2h0M416.4 277.9h0M430.5 262.9h0M463.4 250.3h0M471.2 265.0h0M428.0 268.3h0M447.3 276.0h0M414.4 248.4h0M508.7 282.1h0M474.9 244.2h0M474.9 285.0h0M484.2 275.7h0M491.4 264.2h0M504.6 240.8h0M431.9 254.2h0M472.3 253.5h0M431.4 251.5h0M486.7 249.5h0M481.7 254.4h0M507.0 257.5h0M467.6 253.1h0M448.6 267.6h0M500.7 268.3h0M407.6 256.1h0M429.6 260.3h0M411.3 279.0h0M432.7 225.3h0M486.0 264.6h0M412.0 250.1h0M483.1 244.4h0M464.1 230.5h0M432.9 244.6h0M493.3 242.6h0M399.6 249.7h0M452.7 234.1h0M441.1 277.6h0M439.3 267.3h0M510.5 288.2h0M458.4 247.5h0M471.4 284.8h0M447.6 272.3h0M417.7 246.4h0M406.7 215.5h0M482.4 236.6h0M478.6 266.7h0M509.8 267.6h0M423.8 237.3h0M440.4 219.3h0M438.2 255.8h0M461.3 235.6h0M400.2 264.8h0M487.2 280.3h0M479.7 269.4h0M405.6 263.1h0M477.4 278.7h0M434.0 226.5h0M444.8 253.7h0M418.0 220.6h0M461.8 270.5h0M397.3 269.1h0M412.0 256.2h0M479.7 238.2h0M410.2 231.9h0M448.9 260.8h0M472.4 249.0h0M414.3 231.5h0M452.5 242.2h0M443.4 246.8h0M410.9 262.1h0M486.2 261.0h0M404.2 264.0h0M490.6 255.8h0M436.4 256.2h0M420.7 228.9h0M493.9 255.6h0M510.5 275.2h0M416.5 251.5h0M467.6 249.0h0M440.8 254.9h0M420.2 242.7h0M418.2 245.7h0M465.7 258.3h0M506.3 261.1h0M423.7 259.1h0M409.6 252.6h0M494.1 272.1h0M400.9 271.9h0M480.6 234.2h0M498.1 243.2h0M410.3 245.1h0M454.5 261.7h0M507.9 273.5h0M491.5 262.7h0M472.7 241.0h0M403.0 259.2h0M414.5 235.0h0M501.9 275.2h0M402.2 275.5h0M436.0 250.5h0M398.7 251.2h0M424.6 236.4h0M486.4 253.9h0M404.0 228.9h0M407.6 241.4h0M457.6 279.6h0M417.8 253.1h0M455.0 267.9h0M400.8 233.7h0M434.5 269.9h0M478.1 253.5h0M416.6 258.0h0M453.5 230.7h0M456.6 251.2h0M486.6 262.8h0M465.9 280.6h0M457.0 239.6h0M418.3 229.4h0M478.7 241.1h0M496.1 270.9h0M399.0 255.7h0M505.5 258.9h0M400.9 255.4h0M441.5 227.6h0M403.5 264.4h0M438.8 248.5h0M460.7 240.3h0M435.8 271.0h0M455.3 227.7h0M475.7 276.5h0M470.7 273.1h0M412.2 254.6h0M459.1 251.0h0M402.2 266.0h0M469.3 247.5h0M399.6 287.5h0M459.5 259.3h0M400.3 235.2h0M451.1 252.3h0M430.2 230.6h0M401.3 223.0h0M485.5 258.7h0M471.3 244.7h0M443.1 263.0h0M486.2 283.6h0M429.5 250.6h0M409.6 247.4h0M473.0 244.0h0M431.2 239.1h0M490.3 261.5h0M435.6 256.2h0M461.5 241.8h0M460.9 246.3h0M462.3 267.9h0M397.7 215.4h0M456.2 286.3h0M463.6 274.8h0M412.0 245.5h0M449.4 211.9h0M468.3 242.1h0M398.3 254.1h0M486.3 275.6h0M426.3 236.1h0M488.8 258.8h0M499.7 262.3h0M397.1 246.7h0M433.6 272.8h0M403.5 231.0h0M408.5 242.0h0M486.3 268.2h0M475.2 235.7h0M420.8 244.4h0M395.0 248.4h0M467.6 264.1h0M448.3 242.4h0M478.8 236.9h0M484.1 267.8h0M490.8 272.6h0M464.1 254.7h0M502.2 276.3h0M442.6 254.1h0M434.3 273.4h0M470.6 268.7h0M461.8 219.6h0M481.0 269.4h0M484.7 264.8h0M408.8 227.4h0M495.5 290.6h0M482.1 265.2h0M440.7 261.3h0M476.4 237.6h0M510.6 272.3h0M442.7 248.6h0M451.0 249.1h0M494.1 253.4h0M415.6 225.9h0M474.9 229.3h0M436.6 221.3h0M495.7 255.8h0M467.3 283.3h0M459.5 250.4h0M466.5 240.3h0M416.2 230.0h0M499.7 273.8h0M461.9 288.1h0M502.5 289.5h0M473.8 270.8h0M485.6 275.2h0M452.7 261.8h0M458.3 260.8h0M402.5 225.4h0M475.4 237.1h0M492.6 280.8h0M457.2 252.7h0M489.5 271.5h0M502.8 246.1h0M400.2 244.5h0M396.0 259.4h0M413.6 229.2h0M397.9 234.2h0M468.8 241.1h0M418.7 262.7h0M419.2 232.5h0M474.1 233.8h0M458.2 263.5h0M475.6 254.8h0M435.2 285.0h0M467.3 242.5h0M395.6 257.6h0M463.6 264.3h0M450.1 250.9h0M453.8 260.5h0M510.2 273.5h0M459.7 229.9h0M418.3 226.2h0M504.5 274.5h0M399.3 239.8h0M428.4 268.3h0M486.3 262.5h0M472.6 278.9h0M416.6 255.8h0M480.7 261.8h0M429.8 251.3h0M467.0 255.5h0M403.6 247.5h0M481.7 251.0h0M426.8 280.2h0M401.4 269.8h0M419.2 279.6h0M407.7 259.7h0M407.5 232.7h0M479.1 237.8h0M408.6 242.9h0M465.4 249.7h0M493.4 272.1h0M398.8 202.7h0M437.5 228.4h0M436.6 282.5h0M452.6 248.5h0M480.3 283.1h0M481.7 270.8h0M442.9 241.7h0M395.1 270.9h0M495.5 227.6h0M419.5 236.2h0M476.7 296.5h0M494.6 294.8h0M438.0 250.1h0M409.1 254.2h0M441.6 245.8h0M502.5 265.3h0M493.0 269.0h0M418.5 239.8h0M455.1 238.4h0M451.0 242.5h0M399.8 238.6h0M508.5 256.7h0M412.7 278.0h0M400.7 281.7h0M501.5 253.1h0M463.2 237.1h0M510.6 249.9h0M398.5 256.3h0M434.1 254.0h0M474.8 260.3h0M444.9 244.5h0M507.0 255.9h0M405.9 269.8h0M481.0 268.9h0M455.6 223.0h0M410.7 229.7h0M425.2 270.7h0M434.9 260.1h0M474.5 272.5h0M484.4 259.8h0M502.8 263.2h0M432.7 269.1h0M439.2 253.4h0M501.4 256.0h0M406.4 263.0h0M428.0 255.5h0M498.6 249.4h0M424.8 238.2h0M441.1 273.6h0M400.2 265.3h0M443.4 237.3h0M403.0 251.9h0M399.0 246.8h0M414.2 246.3h0M436.5 255.2h0M423.2 228.7h0M433.5 252.3h0M503.9 247.1h0M423.1 239.3h0M466.7 240.1h0M454.2 279.8h0M475.3 243.3h0M495.5 268.2h0M428.7 259.6h0M445.9 266.1h0M484.5 269.4h0M423.8 220.3h0M482.5 262.1h0M445.8 227.1h0M476.1 274.3h0M438.6 211.8h0M461.9 229.8h0M449.1 246.1h0M478.5 241.4h0M473.9 244.4h0M410.9 267.3h0M405.5 250.0h0M431.8 250.1h0M396.4 205.2h0M453.0 252.4h0M434.1 269.3h0M406.3 236.4h0M402.4 252.9h0M474.7 254.8h0M420.1 232.4h0M476.9 250.7h0M494.8 215.3h0M477.0 254.1h0M448.8 244.3h0M408.1 241.4h0M395.3 249.7h0M458.9 284.2h0M400.5 243.1h0M407.4 253.2h0M464.3 267.3h0M421.3 286.9h0M501.2 234.6h0M461.7 242.4h0M438.7 250.6h0M446.7 236.6h0M443.1 244.1h0M449.7 271.0h0M473.6 246.1h0M486.1 234.3h0M446.1 277.6h0M491.4 263.0h0M507.4 265.1h0M466.3 250.9h0M465.2 251.3h0M405.9 272.7h0M405.4 224.4h0M500.9 218.1h0M454.6 247.7h0M483.1 261.0h0M472.5 250.2h0M509.2 281.8h0M433.3 237.7h0M476.2 248.6h0M396.5 218.7h0M472.9 293.5h0M413.1 235.3h0M438.9 258.1h0M415.5 258.4h0M397.5 233.1h0M422.6 235.6h0M453.3 284.5h0M483.4 249.5h0M453.9 255.7h0M492.5 264.6h0M421.9 231.4h0M406.1 268.3h0M486.3 245.8h0M430.1 235.1h0M417.2 221.8h0M410.0 243.2h0M404.5 240.5h0M478.6 268.2h0M413.1 263.2h0M488.7 274.7h0M399.4 273.5h0M450.3 239.0h0M426.7 257.6h0M459.3 240.9h0M462.6 261.6h0M505.1 277.0h0M482.7 256.8h0M490.5 267.3h0M434.5 249.5h0M436.8 254.5h0M491.8 252.6h0M491.5 247.3h0M465.0 228.0h0M461.0 260.2h0M425.8 303.1h0M440.4 244.5h0M423.2 223.8h0M417.7 217.8h0M474.5 256.2h0M466.3 229.1h0M402.4 217.2h0M440.1 232.3h0M510.1 248.3h0M448.9 254.4h0M485.4 253.4h0M428.1 287.2h0M495.3 249.2h0M435.9 241.3h0M422.3 219.2h0M397.8 217.9h0M400.5 250.2h0M438.4 253.6h0M499.7 272.7h0M443.2 254.7h0M496.7 251.2h0M505.6 301.8h0M482.6 241.4h0M433.1 252.7h0M468.2 228.8h0M419.3 252.9h0M465.2 234.5h0M489.6 268.3h0M442.3 256.9h0M498.6 237.2h0M500.0 269.0h0M416.9 227.4h0M422.5 256.1h0M476.2 268.2h0M453.8 254.8h0M504.8 279.5h0M415.9 268.6h0M404.7 240.8h0M494.0 228.9h0M429.5 268.4h0M430.4 222.0h0M474.3 278.3h0M463.9 233.5h0M485.7 241.5h0M502.1 263.7h0M399.8 291.0h0M399.6 229.8h0M426.5 249.9h0M438.7 218.4h0M422.8 235.1h0M402.5 272.8h0M397.0 236.3h0M408.4 247.1h0M454.7 269.8h0M406.2 258.4h0M455.5 230.2h0M501.3 259.4h0M486.5 278.0h0M445.0 250.6h0M502.7 254.3h0M482.4 238.2h0M484.7 255.3h0M396.0 250.7h0M456.7 274.7h0M474.0 282.1h0M505.5 242.2h0M482.4 266.3h0M423.2 238.9h0M502.5 284.0h0M492.0 281.0h0M445.2 245.2h0M427.6 249.3h0M423.8 257.9h0M426.5 247.5h0M476.1 258.7h0M414.7 224.5h0M415.5 256.0h0M483.1 264.2h0M480.3 238.9h0M449.6 257.5h0M428.2 260.5h0M470.5 235.4h0M419.6 276.2h0M432.5 253.5h0M483.3 268.1h0M433.0 244.4h0M403.7 215.5h0M496.2 254.5h0M433.4 250.6h0M457.5 252.1h0M437.3 272.9h0M446.0 252.2h0M494.7 268.1h0M460.2 282.1h0M433.1 258.1h0M398.3 237.2h0M410.1 217.4h0M430.7 240.5h0M404.8 260.3h0M398.1 210.1h0M471.8 238.6h0M408.7 241.9h0M415.0 249.7h0M471.7 247.1h0M480.7 222.9h0M409.6 225.4h0M409.0 257.7h0M478.3 273.3h0M510.3 271.8h0M500.1 267.1h0M473.2 262.6h0M480.3 258.1h0M504.9 221.0h0M446.3 294.1h0M479.1 268.6h0M409.4 245.9h0M505.2 292.8h0M475.0 278.1h0M493.4 227.9h0M505.8 277.2h0M400.0 240.2h0M455.6 242.3h0M401.3 247.1h0M494.7 251.1h0M404.5 224.9h0M468.0 254.4h0M401.5 260.8h0M433.3 254.2h0M406.9 227.6h0M508.9 285.3h0M485.1 272.4h0" stroke="#adadad" stroke-width="2.20" stroke-linecap="round" fill="none"/>
<path d="M417.8 239.8h0M491.8 261.3h0M459.1 255.0h0M419.8 234.1h0M455.6 252.8h0M442.5 233.9h0M476.5 265.7h0M478.5 253.1h0M451.8 262.3h0M420.7 241.0h0M475.9 238.1h0M503.1 264.2h0M489.8 276.0h0M454.5 265.8h0M433.6 246.8h0M429.2 251.3h0M479.6 297.1h0M408.9 260.7h0M422.9 249.2h0M474.5 249.4h0M432.5 244.9h0M399.6 232.3h0M468.1 239.8h0M412.1 244.2h0M419.5 246.6h0M416.4 239.6h0M490.8 265.8h0M494.0 275.2h0M493.5 264.0h0M433.1 274.7h0M452.9 253.5h0M421.2 279.3h0M421.6 251.5h0M434.6 217.3h0M416.8 246.0h0M399.9 224.4h0M433.1 231.0h0M461.8 213.6h0M404.8 233.9h0M446.5 270.3h0M452.4 250.6h0M407.2 217.6h0M428.2 241.1h0M434.0 252.3h0M477.8 255.2h0M430.3 268.0h0M495.2 270.0h0M409.2 252.2h0M467.5 223.3h0M404.5 226.8h0M493.0 260.5h0M498.4 266.5h0M482.2 302.9h0M411.9 268.7h0M475.3 254.1h0M469.4 273.1h0M445.2 239.9h0M464.2 225.9h0M440.3 262.5h0M450.2 238.9h0M490.8 271.8h0M436.3 262.1h0M414.4 250.7h0M417.0 249.1h0M435.0 279.2h0M488.4 257.5h0M484.4 283.8h0M423.0 266.9h0M485.3 272.3h0M430.7 241.1h0M449.4 262.7h0M465.7 243.0h0M427.9 268.1h0M412.6 246.1h0M492.3 238.3h0M426.1 243.8h0M480.6 230.5h0M459.7 264.0h0M459.0 245.2h0M457.5 278.3h0M494.2 277.0h0M480.3 266.4h0M457.8 240.6h0M502.2 256.9h0M473.1 267.9h0M458.4 262.3h0M471.1 262.5h0M408.5 242.7h0M453.8 240.5h0M419.7 230.9h0M459.4 273.8h0M442.9 277.8h0M436.6 246.2h0M495.3 271.2h0M426.1 245.2h0M441.3 264.7h0M503.1 260.3h0M481.3 274.9h0M407.9 245.7h0M482.2 277.6h0M406.3 244.2h0M452.0 242.4h0M426.8 261.7h0M429.4 216.1h0M398.2 262.5h0M449.2 254.4h0M440.8 267.2h0M480.4 276.1h0M464.3 257.5h0M497.9 255.5h0M438.9 282.1h0M445.8 265.3h0" stroke="#858585" stroke-width="2.20" stroke-linecap="round" fill="none"/>
<polygon points="393.60,239.80 512.00,260.40 512.00,267.60 393.60,247.00" fill="#f7bb8c" fill-opacity="0.95"/>
<line x1="393.60" y1="243.40" x2="512.00" y2="264.00" stroke="#1a1a1a" stroke-width="1.0" stroke-dasharray="3,2.4"/>
<line x1="393.60" y1="313.40" x2="393.60" y2="195.60" stroke="#bdbdbd" stroke-width="1.2"/>
<path d="M392.70,196.60 L393.60,194.30 L394.50,196.60 Z" fill="#444"/>
<line x1="393.10" y1="313.40" x2="511.40" y2="313.40" stroke="#555" stroke-width="0.6"/>
<path d="M509.90,312.20 L512.70,313.40 L509.90,314.60 Z" fill="#444"/>
<line x1="398.00" y1="313.40" x2="398.00" y2="314.70" stroke="#555" stroke-width="0.5"/>
<line x1="414.83" y1="313.40" x2="414.83" y2="314.70" stroke="#555" stroke-width="0.5"/>
<line x1="431.67" y1="313.40" x2="431.67" y2="314.70" stroke="#555" stroke-width="0.5"/>
<line x1="448.50" y1="313.40" x2="448.50" y2="314.70" stroke="#555" stroke-width="0.5"/>
<line x1="465.33" y1="313.40" x2="465.33" y2="314.70" stroke="#555" stroke-width="0.5"/>
<line x1="482.17" y1="313.40" x2="482.17" y2="314.70" stroke="#555" stroke-width="0.5"/>
<line x1="499.00" y1="313.40" x2="499.00" y2="314.70" stroke="#555" stroke-width="0.5"/>
<line x1="392.00" y1="204.40" x2="393.10" y2="204.40" stroke="#555" stroke-width="0.5"/>
<line x1="392.00" y1="224.20" x2="393.10" y2="224.20" stroke="#555" stroke-width="0.5"/>
<line x1="392.00" y1="244.20" x2="393.10" y2="244.20" stroke="#555" stroke-width="0.5"/>
<line x1="392.00" y1="264.00" x2="393.10" y2="264.00" stroke="#555" stroke-width="0.5"/>
<line x1="392.00" y1="283.80" x2="393.10" y2="283.80" stroke="#555" stroke-width="0.5"/>
<line x1="392.00" y1="303.40" x2="393.10" y2="303.40" stroke="#555" stroke-width="0.5"/>
<text x="391.40" y="206.60" font-size="6.41" fill="#333" text-anchor="end" textLength="13.33" lengthAdjust="spacingAndGlyphs" stroke="#333" stroke-width="0.16">79.7</text>
<text x="391.40" y="226.40" font-size="6.41" fill="#333" text-anchor="end" textLength="13.33" lengthAdjust="spacingAndGlyphs" stroke="#333" stroke-width="0.16">79.1</text>
<text x="391.40" y="246.40" font-size="6.41" fill="#333" text-anchor="end" textLength="13.33" lengthAdjust="spacingAndGlyphs" stroke="#333" stroke-width="0.16">78.5</text>
<text x="391.40" y="266.20" font-size="6.41" fill="#333" text-anchor="end" textLength="13.33" lengthAdjust="spacingAndGlyphs" stroke="#333" stroke-width="0.16">77.9</text>
<text x="391.40" y="286.00" font-size="6.41" fill="#333" text-anchor="end" textLength="13.33" lengthAdjust="spacingAndGlyphs" stroke="#333" stroke-width="0.16">77.3</text>
<text x="391.40" y="305.60" font-size="6.41" fill="#333" text-anchor="end" textLength="13.33" lengthAdjust="spacingAndGlyphs" stroke="#333" stroke-width="0.16">76.7</text>
<text x="398.00" y="321.50" font-size="6.41" fill="#333" text-anchor="middle" textLength="7.46" lengthAdjust="spacingAndGlyphs" stroke="#333" stroke-width="0.16">20</text>
<text x="414.83" y="321.50" font-size="6.41" fill="#333" text-anchor="middle" textLength="7.46" lengthAdjust="spacingAndGlyphs" stroke="#333" stroke-width="0.16">30</text>
<text x="431.67" y="321.50" font-size="6.41" fill="#333" text-anchor="middle" textLength="7.46" lengthAdjust="spacingAndGlyphs" stroke="#333" stroke-width="0.16">40</text>
<text x="448.50" y="321.50" font-size="6.41" fill="#333" text-anchor="middle" textLength="7.46" lengthAdjust="spacingAndGlyphs" stroke="#333" stroke-width="0.16">50</text>
<text x="465.33" y="321.50" font-size="6.41" fill="#333" text-anchor="middle" textLength="7.46" lengthAdjust="spacingAndGlyphs" stroke="#333" stroke-width="0.16">60</text>
<text x="482.17" y="321.50" font-size="6.41" fill="#333" text-anchor="middle" textLength="7.46" lengthAdjust="spacingAndGlyphs" stroke="#333" stroke-width="0.16">70</text>
<text x="499.00" y="321.50" font-size="6.41" fill="#333" text-anchor="middle" textLength="7.46" lengthAdjust="spacingAndGlyphs" stroke="#333" stroke-width="0.16">80</text>
<text x="455.70" y="329.40" font-size="7.6" fill="#222" text-anchor="middle" textLength="44.5" lengthAdjust="spacingAndGlyphs" stroke="#222" stroke-width="0.16">Age (years)</text>
<text x="373.10" y="254.00" font-size="7.6" fill="#222" text-anchor="middle" textLength="91.5" lengthAdjust="spacingAndGlyphs" transform="rotate(-90 373.1 254)" stroke="#222" stroke-width="0.16">Memory capacity (AUC)</text>
<path d="M415.0 364.0h0M414.2 376.3h0M411.7 414.8h0M419.9 361.3h0M429.0 373.2h0M420.8 381.3h0M426.6 404.2h0M421.4 361.3h0M410.5 373.0h0M427.6 427.6h0M414.6 410.0h0M420.4 408.0h0M430.0 418.6h0M419.2 411.4h0M424.5 371.2h0M418.0 410.2h0M411.2 403.9h0M410.7 430.4h0M422.2 409.7h0M419.2 431.3h0M409.3 421.5h0M409.0 375.0h0M411.5 378.7h0M415.4 379.5h0M418.2 413.6h0M429.0 373.3h0M418.8 364.0h0M422.3 364.2h0M422.7 424.3h0M410.1 378.0h0M411.0 432.7h0M424.7 374.3h0M417.6 407.7h0M417.2 430.2h0M418.5 412.9h0M428.5 364.5h0M420.2 381.1h0M427.7 416.4h0M423.0 364.6h0M420.9 379.6h0M421.0 360.7h0M418.8 412.8h0M418.1 376.2h0M417.6 368.4h0M424.0 364.3h0M416.2 403.7h0M422.3 377.5h0M428.9 379.1h0M427.1 370.1h0M409.2 420.6h0M410.1 407.1h0M422.3 407.7h0M409.7 407.0h0M410.6 419.6h0M409.9 423.6h0M421.0 364.2h0M420.3 408.3h0M412.7 406.0h0M417.2 403.7h0M429.4 377.1h0M427.6 427.2h0M416.4 376.7h0M429.5 367.2h0M411.4 381.4h0M413.2 359.9h0M418.6 378.1h0M421.4 372.0h0M416.8 375.4h0M427.7 377.3h0M417.9 417.3h0M416.8 357.7h0M416.4 377.7h0M409.7 419.8h0M414.0 378.2h0M428.0 378.6h0M414.9 367.8h0M429.1 407.1h0M429.0 426.9h0M424.7 361.1h0M425.4 377.8h0M411.6 416.1h0M412.6 428.4h0M420.4 417.7h0M414.3 424.5h0M429.9 422.5h0M409.0 421.3h0M419.4 406.7h0M413.9 376.5h0M414.4 378.2h0M412.7 379.6h0M429.5 377.6h0M411.5 414.7h0M423.0 357.2h0M419.0 417.7h0M415.0 409.9h0M413.9 432.0h0M418.5 357.1h0M429.0 434.0h0M414.8 423.7h0M420.9 419.2h0M410.6 414.8h0M413.5 380.5h0M414.6 367.5h0M427.9 411.1h0M420.5 378.8h0M409.6 404.8h0M412.9 428.2h0M416.9 409.1h0M415.5 416.8h0M424.8 433.5h0M419.4 431.3h0M422.3 423.3h0M408.6 428.2h0M430.4 373.5h0M416.8 415.1h0M408.9 408.2h0M410.1 374.8h0M419.4 372.5h0M415.0 379.6h0M421.5 419.6h0M423.0 409.1h0M415.8 405.2h0M420.5 369.6h0M417.3 421.0h0M427.1 425.0h0M428.1 365.3h0M423.9 406.1h0M420.9 378.8h0M423.8 410.7h0M425.2 407.8h0M412.7 430.2h0M423.3 366.5h0M428.5 404.7h0M424.0 360.7h0M412.0 406.0h0M411.7 404.6h0M414.2 419.1h0M422.2 415.9h0M419.1 404.9h0M416.2 368.2h0M412.5 407.5h0M415.4 377.9h0M421.6 407.9h0M415.0 381.4h0M419.3 408.1h0M425.3 414.0h0M421.0 434.0h0M419.8 431.8h0M412.9 418.0h0M421.2 412.5h0" stroke="#444" stroke-width="0.84" stroke-linecap="round" fill="none"/>
<line x1="419.50" y1="353.60" x2="419.50" y2="435.00" stroke="#f7a66a" stroke-width="0.8"/>
<rect x="409.10" y="381.60" width="20.80" height="22.10" fill="#fcdcc0" stroke="#f8b887" stroke-width="0.7"/>
<path d="M413.1 396.6h0M428.8 381.9h0M430.0 387.7h0M417.4 381.9h0M412.1 386.4h0M413.6 390.4h0M416.7 401.3h0M423.9 396.7h0M416.6 386.3h0M426.2 391.2h0M429.3 390.6h0M410.0 392.3h0M411.0 392.3h0M425.4 396.6h0M412.1 384.4h0M423.4 382.5h0M428.1 385.7h0M429.0 382.4h0M412.7 387.6h0M412.0 398.0h0M427.1 402.4h0M422.3 398.4h0M414.5 392.8h0M425.6 389.8h0M419.2 393.2h0M430.5 386.4h0M414.8 393.6h0M418.7 381.6h0M427.9 400.6h0M410.8 394.3h0M421.6 401.7h0M416.2 394.0h0M417.7 386.9h0M426.5 392.2h0M419.6 394.9h0M409.7 394.9h0M425.3 391.4h0M410.3 401.2h0M417.0 402.4h0M430.4 401.2h0M410.9 403.1h0M422.2 388.5h0M419.8 384.4h0M411.5 394.9h0M419.3 390.1h0M427.0 388.6h0M429.0 387.8h0M424.2 398.4h0M428.4 387.9h0M429.6 396.6h0M414.5 388.7h0M411.6 389.3h0M421.2 389.2h0M429.2 394.9h0M415.4 395.3h0M413.8 382.0h0M420.1 386.3h0M426.4 385.7h0M423.3 395.4h0M415.8 401.7h0M412.9 401.9h0M419.9 382.6h0M425.1 395.3h0M420.3 397.3h0M412.4 385.5h0M418.9 397.5h0M417.9 400.2h0M418.1 395.3h0M420.1 398.6h0M418.9 394.0h0M411.1 389.3h0M427.7 382.9h0M419.4 388.9h0M426.3 384.7h0M424.8 393.5h0M410.3 383.8h0M417.6 385.1h0M416.5 388.6h0M427.7 399.8h0M424.9 395.9h0M429.5 387.0h0M415.6 403.6h0M428.9 385.3h0M411.2 402.0h0M411.8 383.0h0M417.9 399.8h0M422.2 385.2h0M423.6 385.0h0M410.8 392.0h0M410.9 394.5h0M409.7 402.5h0M428.0 382.9h0M409.3 399.1h0M416.8 394.4h0M414.2 402.4h0M413.9 395.2h0M414.4 393.7h0M422.4 389.4h0M429.3 389.7h0M424.6 396.0h0M416.6 388.8h0M410.4 399.0h0M411.3 390.6h0M415.9 385.3h0M430.0 398.1h0M427.4 394.0h0M420.8 390.1h0M421.5 395.9h0M430.3 392.3h0M417.8 399.2h0M419.9 388.2h0M424.5 394.2h0M422.1 400.1h0M423.4 389.2h0M417.7 399.0h0M411.9 389.3h0M425.7 384.0h0M420.2 394.8h0M424.1 395.6h0M424.6 383.2h0M414.2 392.1h0M421.8 395.9h0M429.7 399.5h0M419.9 388.7h0M417.0 393.0h0M430.2 403.4h0M419.4 397.0h0M422.4 402.3h0M408.9 389.2h0M428.5 401.2h0M422.1 382.1h0M421.8 391.7h0M429.9 382.6h0M414.5 386.6h0M412.2 400.6h0M418.2 392.5h0M415.5 389.4h0M426.7 397.4h0M409.0 400.1h0M413.4 395.2h0M418.3 393.1h0M410.8 399.4h0M426.1 388.1h0M415.4 399.5h0M417.4 403.0h0M409.8 400.5h0M424.8 397.6h0" stroke="#444" stroke-width="0.84" stroke-linecap="round" fill="none"/>
<line x1="409.10" y1="392.65" x2="429.90" y2="392.65" stroke="#f8b887" stroke-width="0.5"/>
<circle cx="419.50" cy="392.65" r="0.90" fill="#f7a66a"/>
<path d="M479.0 380.2h0M476.3 433.0h0M495.3 418.0h0M496.1 449.8h0M476.2 420.3h0M493.4 420.5h0M478.3 376.2h0M487.8 376.0h0M493.8 387.1h0M479.7 376.4h0M480.6 428.3h0M476.2 388.3h0M487.5 420.0h0M475.9 378.6h0M495.6 418.4h0M495.8 428.1h0M487.2 357.6h0M475.8 363.3h0M489.4 362.8h0M479.6 430.4h0M484.4 417.7h0M485.2 372.6h0M490.7 442.8h0M494.8 429.8h0M479.2 416.2h0M484.0 384.5h0M486.8 376.9h0M487.3 439.4h0M489.9 431.2h0M492.8 365.8h0M477.6 387.7h0M481.7 416.4h0M476.7 434.3h0M494.4 388.5h0M486.6 361.6h0M493.6 416.7h0M494.3 374.2h0M489.5 436.5h0M480.8 416.7h0M477.7 443.3h0M495.1 370.6h0M493.0 431.0h0M485.2 414.6h0M495.4 379.3h0M481.5 383.7h0M493.7 355.0h0M483.7 414.8h0M484.1 442.7h0M495.3 450.4h0M488.8 373.4h0M477.4 418.5h0M495.9 419.7h0M478.6 375.8h0M475.5 386.4h0M493.4 431.9h0M476.1 355.4h0M495.0 370.3h0M481.2 422.6h0M482.3 428.7h0M496.5 434.0h0M477.1 423.6h0M490.7 364.2h0M482.3 376.2h0M492.0 427.4h0M479.8 361.9h0M484.1 415.5h0M483.6 428.7h0M496.7 426.4h0M492.1 369.6h0M475.1 374.4h0M478.0 422.3h0M479.3 375.4h0M490.8 366.6h0M492.0 358.1h0M491.3 414.8h0M491.9 376.2h0M479.9 383.2h0M485.3 418.5h0M477.6 386.4h0M486.5 444.2h0M487.0 372.0h0M489.9 430.3h0M476.5 379.9h0M476.9 430.6h0M487.7 377.9h0M475.8 420.0h0M489.7 383.5h0M487.9 384.2h0M492.2 415.2h0M493.6 372.5h0M483.6 361.3h0M492.2 422.3h0M491.2 430.2h0M477.4 423.9h0M488.2 373.7h0M479.4 436.1h0M487.9 423.1h0M486.4 388.4h0M483.6 415.4h0M492.5 357.0h0M496.2 368.6h0M478.3 357.7h0M483.7 417.8h0M486.2 368.0h0M495.3 372.7h0M495.8 422.1h0M496.3 437.7h0M491.7 421.6h0M485.0 367.2h0M478.0 354.4h0M494.9 370.3h0M496.0 434.2h0M483.5 354.9h0M486.6 367.9h0M482.2 449.1h0M495.8 428.5h0M481.3 419.6h0M475.2 375.7h0M489.2 421.3h0M493.4 368.8h0M487.4 364.4h0M488.7 368.6h0M483.4 431.6h0M494.6 374.4h0M495.5 449.7h0M479.5 447.1h0M490.8 426.8h0M493.0 427.5h0M494.1 421.7h0M477.4 434.3h0M491.8 364.1h0M484.9 388.1h0M476.8 419.9h0M486.5 416.5h0M488.2 387.1h0M490.4 415.6h0M487.7 416.2h0M487.4 427.1h0M478.1 414.5h0M486.2 374.9h0M489.4 374.4h0M493.0 430.4h0M485.4 373.1h0M481.0 383.5h0M489.0 443.9h0M476.6 418.4h0M489.5 375.1h0M484.5 377.0h0M475.7 416.5h0M494.2 431.1h0M483.3 377.6h0M478.4 426.7h0M492.3 375.8h0M479.4 430.5h0M495.1 367.1h0M482.4 365.7h0M490.6 449.0h0M495.2 379.6h0M474.9 388.5h0M492.4 381.9h0M484.8 360.3h0M482.6 387.7h0M488.7 441.2h0M495.8 434.1h0M491.4 370.3h0M479.8 378.2h0M480.5 419.9h0M488.5 374.3h0M490.4 414.5h0M480.7 374.8h0M486.7 430.6h0M492.1 382.3h0M477.9 370.6h0M495.2 382.5h0M496.6 387.2h0M487.7 436.3h0M492.1 376.4h0M491.2 414.6h0M477.2 432.6h0M480.2 384.8h0M490.1 419.1h0M476.4 365.9h0M488.5 381.9h0M485.1 417.4h0M477.3 422.0h0M475.0 369.5h0M487.8 356.7h0M490.7 372.7h0M492.5 386.0h0M478.7 422.6h0M495.1 433.6h0" stroke="#444" stroke-width="0.84" stroke-linecap="round" fill="none"/>
<line x1="485.80" y1="351.10" x2="485.80" y2="455.30" stroke="#c8203f" stroke-width="0.8"/>
<rect x="475.80" y="388.80" width="20.20" height="25.60" fill="#eba8b8" stroke="#d06080" stroke-width="0.7"/>
<path d="M496.2 408.6h0M487.1 391.6h0M487.3 411.2h0M491.7 413.4h0M491.8 410.5h0M476.6 402.3h0M483.4 413.8h0M487.5 397.0h0M496.6 392.5h0M496.8 395.8h0M494.8 400.1h0M475.1 404.2h0M489.5 395.0h0M485.5 411.3h0M481.0 411.0h0M495.0 403.7h0M493.3 401.0h0M484.3 402.9h0M493.8 412.5h0M489.3 398.2h0M485.7 393.6h0M483.2 406.5h0M487.1 399.2h0M495.1 390.7h0M483.7 406.6h0M479.0 389.5h0M476.5 406.7h0M475.5 397.3h0M475.3 392.4h0M490.1 393.3h0M492.3 395.7h0M487.0 402.8h0M483.9 403.7h0M475.0 396.8h0M484.5 405.6h0M494.3 408.0h0M478.4 412.8h0M492.4 391.2h0M493.0 390.4h0M490.1 404.4h0M495.5 408.3h0M482.1 406.5h0M495.5 397.1h0M475.0 390.2h0M480.4 413.0h0M495.1 398.7h0M496.5 389.6h0M491.4 409.6h0M484.3 411.2h0M496.3 400.0h0M479.4 394.4h0M486.8 402.8h0M481.1 390.5h0M486.8 409.8h0M491.5 404.1h0M482.4 410.6h0M496.1 400.7h0M487.4 413.3h0M483.5 392.4h0M480.3 410.9h0M476.2 398.7h0M482.5 403.3h0M493.9 410.0h0M490.6 406.3h0M485.9 405.7h0M491.7 397.7h0M478.6 391.3h0M488.8 408.0h0M483.5 407.5h0M480.7 405.2h0M489.8 404.8h0M496.7 398.3h0M491.4 409.5h0M490.7 389.1h0M496.6 404.9h0M480.2 392.3h0M486.8 412.2h0M481.5 414.0h0M475.1 389.5h0M479.2 408.6h0M496.2 396.3h0M489.3 395.0h0M482.4 404.8h0M475.8 412.5h0M475.3 397.8h0M491.9 401.5h0M480.7 399.0h0M483.1 393.6h0M483.6 404.2h0M490.6 397.7h0M495.5 411.1h0M492.9 402.7h0M490.9 400.2h0M475.0 395.3h0M490.0 401.7h0M476.4 413.8h0M484.5 400.2h0M491.5 391.1h0M485.8 401.8h0M487.3 390.6h0M494.9 408.5h0M476.7 393.2h0M486.5 393.5h0M486.0 395.9h0M489.9 403.0h0M482.6 400.9h0M477.0 395.0h0M492.4 396.4h0M476.8 394.7h0M487.7 394.1h0M476.1 410.3h0M489.8 397.6h0M496.3 398.0h0M489.8 404.9h0M488.6 411.6h0M477.7 407.5h0M494.1 413.3h0M490.1 397.8h0M496.3 396.7h0M487.5 410.2h0M484.2 402.6h0M488.2 400.1h0M489.7 411.8h0M484.3 407.9h0M488.3 408.0h0M475.4 405.8h0M477.5 412.6h0M479.6 408.9h0M480.6 407.3h0M486.8 392.1h0M481.8 402.1h0M475.5 413.3h0M490.7 400.0h0" stroke="#444" stroke-width="0.84" stroke-linecap="round" fill="none"/>
<line x1="475.80" y1="401.60" x2="496.00" y2="401.60" stroke="#d06080" stroke-width="0.5"/>
<circle cx="485.80" cy="401.60" r="0.90" fill="#c8203f"/>
<line x1="392.70" y1="459.00" x2="392.70" y2="341.40" stroke="#bdbdbd" stroke-width="1.2"/>
<path d="M391.80,342.40 L392.70,340.10 L393.60,342.40 Z" fill="#444"/>
<line x1="392.20" y1="459.00" x2="511.60" y2="459.00" stroke="#555" stroke-width="0.6"/>
<path d="M510.10,457.80 L512.90,459.00 L510.10,460.20 Z" fill="#444"/>
<line x1="419.50" y1="459.00" x2="419.50" y2="460.30" stroke="#555" stroke-width="0.5"/>
<line x1="485.80" y1="459.00" x2="485.80" y2="460.30" stroke="#555" stroke-width="0.5"/>
<line x1="391.10" y1="349.10" x2="392.20" y2="349.10" stroke="#555" stroke-width="0.5"/>
<line x1="391.10" y1="368.50" x2="392.20" y2="368.50" stroke="#555" stroke-width="0.5"/>
<line x1="391.10" y1="386.60" x2="392.20" y2="386.60" stroke="#555" stroke-width="0.5"/>
<line x1="391.10" y1="405.20" x2="392.20" y2="405.20" stroke="#555" stroke-width="0.5"/>
<line x1="391.10" y1="423.80" x2="392.20" y2="423.80" stroke="#555" stroke-width="0.5"/>
<line x1="391.10" y1="442.40" x2="392.20" y2="442.40" stroke="#555" stroke-width="0.5"/>
<text x="390.50" y="351.30" font-size="6.41" fill="#333" text-anchor="end" textLength="13.33" lengthAdjust="spacingAndGlyphs" stroke="#333" stroke-width="0.16">79.7</text>
<text x="390.50" y="370.70" font-size="6.41" fill="#333" text-anchor="end" textLength="13.33" lengthAdjust="spacingAndGlyphs" stroke="#333" stroke-width="0.16">79.1</text>
<text x="390.50" y="388.80" font-size="6.41" fill="#333" text-anchor="end" textLength="13.33" lengthAdjust="spacingAndGlyphs" stroke="#333" stroke-width="0.16">78.5</text>
<text x="390.50" y="407.40" font-size="6.41" fill="#333" text-anchor="end" textLength="13.33" lengthAdjust="spacingAndGlyphs" stroke="#333" stroke-width="0.16">77.9</text>
<text x="390.50" y="426.00" font-size="6.41" fill="#333" text-anchor="end" textLength="13.33" lengthAdjust="spacingAndGlyphs" stroke="#333" stroke-width="0.16">77.3</text>
<text x="390.50" y="444.60" font-size="6.41" fill="#333" text-anchor="end" textLength="13.33" lengthAdjust="spacingAndGlyphs" stroke="#333" stroke-width="0.16">76.7</text>
<text x="425.60" y="466.80" font-size="7.21" fill="#222" text-anchor="middle" textLength="57.95" lengthAdjust="spacingAndGlyphs" stroke="#222" stroke-width="0.16">Young individuals</text>
<text x="490.60" y="466.80" font-size="7.16" fill="#222" text-anchor="middle" textLength="48.18" lengthAdjust="spacingAndGlyphs" stroke="#222" stroke-width="0.16">Old individuals</text>
<text x="372.20" y="400.00" font-size="7.6" fill="#222" text-anchor="middle" textLength="91.5" lengthAdjust="spacingAndGlyphs" transform="rotate(-90 372.2 400)" stroke="#222" stroke-width="0.16">Memory capacity (AUC)</text>
<text x="534.90" y="185.80" font-size="15.2" fill="#111" font-weight="bold" textLength="17.6" lengthAdjust="spacingAndGlyphs">H)</text>
<text x="584.80" y="184.80" font-size="12.6" fill="#555555" textLength="74.9" lengthAdjust="spacingAndGlyphs" stroke="#555555" stroke-width="0.08">High density</text>
<path d="M644.7 274.4h0M638.6 282.1h0M578.8 262.3h0M639.9 254.6h0M663.2 237.3h0M587.3 238.3h0M589.2 262.1h0M647.3 255.5h0M618.7 272.0h0M612.2 281.4h0M604.5 275.4h0M616.8 250.7h0M598.9 272.2h0M626.8 256.3h0M643.5 246.1h0M636.6 268.3h0M650.3 246.1h0M565.9 262.4h0M640.0 264.8h0M627.0 262.6h0M565.3 222.5h0M660.3 235.6h0M593.3 253.0h0M636.6 240.9h0M652.9 256.2h0M637.8 260.7h0M663.9 277.0h0M621.8 238.6h0M591.0 250.7h0M582.5 272.4h0M621.8 267.7h0M650.7 248.6h0M677.0 262.3h0M619.0 239.8h0M660.1 271.4h0M648.7 259.0h0M654.8 247.3h0M608.5 227.8h0M576.7 240.9h0M616.9 283.2h0M602.4 266.4h0M610.3 261.5h0M679.4 241.9h0M599.8 230.5h0M655.0 279.1h0M583.2 225.9h0M633.0 234.7h0M604.2 254.2h0M592.1 262.1h0M609.6 244.4h0M672.7 284.4h0M631.2 247.4h0M624.2 232.9h0M657.4 240.6h0M622.5 249.4h0M576.9 257.6h0M579.1 231.9h0M647.5 256.0h0M618.2 260.7h0M655.0 259.1h0M650.7 270.4h0M625.3 229.9h0M568.1 249.6h0M646.9 249.1h0M614.4 237.1h0M647.0 249.4h0M679.8 256.7h0M620.4 232.5h0M641.4 262.9h0M582.3 247.7h0M580.6 232.9h0M641.6 298.2h0M571.5 240.6h0M574.0 228.7h0M665.6 262.3h0M651.2 257.1h0M575.0 258.7h0M596.6 263.0h0M662.4 275.0h0M642.2 212.4h0M567.6 233.4h0M570.4 246.7h0M598.9 268.4h0M631.0 239.3h0M660.4 237.1h0M615.4 245.3h0M637.7 253.7h0M674.7 225.7h0M629.3 229.9h0M597.6 245.1h0M651.6 247.4h0M580.9 271.5h0M641.8 246.0h0M589.3 229.2h0M642.5 265.7h0M622.3 274.4h0M629.8 241.0h0M565.6 247.9h0M677.4 250.2h0M653.4 282.2h0M659.6 240.6h0M660.3 269.2h0M578.5 256.2h0M665.7 281.0h0M573.6 263.4h0M599.8 219.1h0M582.5 238.0h0M620.1 232.9h0M585.9 254.0h0M588.4 225.6h0M631.3 267.6h0M582.6 274.2h0M620.0 264.9h0M644.7 257.3h0M565.6 237.5h0M666.8 244.6h0M651.7 247.9h0M651.4 257.0h0M648.2 266.0h0M580.6 249.1h0M573.5 249.5h0M650.0 283.9h0M565.9 232.9h0M637.2 248.8h0M636.5 277.1h0M671.5 265.1h0M575.2 241.9h0M604.8 256.1h0M652.3 276.1h0M597.8 250.7h0M584.7 269.0h0M566.2 238.0h0M618.5 232.7h0M612.6 244.8h0M634.7 260.7h0M674.8 258.2h0M584.7 242.9h0M638.8 250.4h0M641.8 264.1h0M623.1 237.2h0M603.6 249.9h0M582.8 281.2h0M607.8 272.1h0M628.3 239.6h0M677.1 262.2h0M595.7 244.2h0M663.9 278.5h0M630.9 257.0h0M566.9 216.5h0M678.1 259.0h0M581.7 250.9h0M656.3 228.1h0M678.3 290.4h0M596.1 245.1h0M628.3 258.3h0M615.1 250.6h0M638.2 278.0h0M596.5 239.3h0M618.3 259.1h0M608.5 289.9h0M645.2 255.5h0M595.5 238.6h0M680.1 264.9h0M609.2 239.6h0M603.2 263.8h0M676.2 289.6h0M673.0 259.6h0M671.0 266.1h0M575.3 258.7h0M657.5 295.4h0M639.4 268.3h0M663.6 265.5h0M650.8 264.7h0M570.7 253.0h0M633.1 277.5h0M583.8 243.3h0M660.3 243.3h0M587.8 225.6h0M605.2 270.4h0M628.0 254.3h0M669.0 241.9h0M584.6 278.5h0M661.7 233.7h0M612.9 247.4h0M589.6 246.6h0M623.0 252.4h0M650.3 267.1h0M618.2 275.9h0M607.8 281.9h0M575.7 228.2h0M646.0 268.4h0M609.9 262.5h0M644.8 254.8h0M574.0 239.3h0M593.2 217.0h0M597.4 272.1h0M599.3 259.6h0M676.5 266.5h0M663.3 262.0h0M573.9 256.9h0M631.1 277.9h0M674.6 257.4h0M658.3 233.1h0M569.6 223.1h0M650.0 283.0h0M668.9 260.4h0M631.6 286.5h0M614.8 208.6h0M633.1 256.7h0M596.4 214.6h0M625.6 261.5h0M572.4 233.9h0M620.5 248.0h0M593.1 300.6h0M617.7 261.0h0M585.7 258.6h0M650.7 263.2h0M664.4 263.6h0M668.0 241.6h0M666.9 252.3h0M651.4 269.5h0M580.5 251.8h0M628.6 257.0h0M676.4 278.0h0M650.6 258.5h0M676.8 263.6h0M600.3 242.6h0M571.2 249.6h0M566.2 258.2h0M632.8 266.4h0M646.0 272.8h0M583.9 245.9h0M674.7 288.7h0M591.4 233.3h0M646.0 262.6h0M566.9 277.0h0M618.0 256.5h0M629.1 252.5h0M590.9 260.4h0M657.9 254.5h0M628.5 257.6h0M630.6 273.9h0M608.8 238.8h0M677.7 264.5h0M570.5 225.6h0M593.4 273.8h0M647.2 258.1h0M599.4 225.6h0M651.7 267.9h0M650.8 240.8h0M644.7 229.0h0M642.2 260.9h0M627.3 264.5h0M630.1 266.8h0M671.1 253.8h0M660.5 284.8h0M592.5 255.8h0M667.6 259.1h0M634.8 258.0h0M619.2 270.4h0M626.4 258.1h0M627.3 267.4h0M620.2 237.3h0M675.7 245.6h0M651.6 246.1h0M596.7 272.2h0M606.6 227.2h0M678.1 302.2h0M629.2 271.5h0M637.1 246.8h0M675.1 267.1h0M591.3 235.1h0M593.7 239.4h0M633.7 231.2h0M622.6 286.0h0M565.5 236.3h0M626.8 246.1h0M673.5 268.1h0M643.4 271.9h0M579.8 261.6h0M645.7 276.4h0M584.5 269.2h0M677.3 276.2h0M627.1 258.6h0M667.7 274.3h0M653.7 259.5h0M676.5 257.8h0M624.1 208.4h0M621.5 245.9h0M591.9 222.2h0M594.5 248.3h0M632.4 274.6h0M578.3 253.6h0M626.1 295.2h0M568.3 254.3h0M630.2 264.8h0M645.6 255.1h0M613.2 287.9h0M636.8 249.6h0M626.7 270.1h0M667.0 255.4h0M619.2 250.2h0M659.3 244.0h0M621.0 247.0h0M637.7 277.4h0M664.4 261.1h0M662.6 292.0h0M606.0 225.4h0M673.9 244.4h0M636.2 250.9h0M595.7 249.9h0M660.1 268.2h0M590.4 259.9h0M565.0 246.9h0M667.5 287.1h0M592.0 222.1h0M605.6 245.3h0M619.5 241.7h0M576.1 255.5h0M622.3 234.1h0M608.3 264.7h0M568.5 270.3h0M605.7 279.5h0M642.7 276.2h0M671.8 271.9h0M634.5 256.0h0M675.8 252.3h0M636.6 264.0h0M636.6 240.3h0M658.6 257.6h0M657.9 261.2h0M589.1 241.5h0M599.4 243.0h0M614.2 244.2h0M593.8 251.8h0M599.4 268.2h0M604.4 256.3h0M652.2 266.1h0M618.7 251.9h0M590.6 239.0h0M573.5 228.4h0M664.2 272.3h0M643.1 256.7h0M573.3 257.4h0M567.0 263.3h0M601.5 253.0h0M567.4 275.1h0M587.8 268.4h0M677.6 271.8h0M615.7 269.6h0M669.9 282.1h0M621.3 280.4h0M616.8 242.5h0M655.0 218.5h0M586.4 234.7h0M592.5 263.3h0M631.7 276.8h0M593.3 248.5h0M578.4 269.9h0M644.1 251.1h0M607.0 247.1h0M634.4 246.9h0M597.2 220.3h0M602.3 230.2h0M585.0 224.8h0M646.9 249.5h0M618.9 260.5h0M625.2 242.0h0M639.9 263.8h0M618.7 251.4h0M636.8 266.9h0M641.9 262.9h0M584.0 258.3h0M617.1 241.3h0M581.7 245.2h0M650.7 251.6h0M625.4 248.7h0M661.1 243.4h0M664.7 274.9h0M570.7 264.5h0M573.3 263.1h0M602.2 229.3h0M590.5 266.3h0M595.9 210.5h0M646.6 257.9h0M658.5 270.5h0M657.2 276.2h0M659.4 266.5h0M578.9 272.5h0M589.2 271.9h0M665.7 259.4h0M669.5 252.7h0M677.1 268.1h0M671.7 268.0h0M596.0 248.0h0M567.3 229.1h0M622.5 225.5h0M569.8 237.9h0M630.3 264.5h0M578.1 247.0h0M585.0 239.2h0M591.6 245.3h0M619.9 286.0h0M610.9 281.8h0M669.3 289.9h0M612.3 251.9h0M664.0 274.6h0M609.8 254.9h0M583.9 236.7h0M604.0 245.4h0M664.1 260.6h0M633.8 264.7h0M605.0 257.6h0M588.6 241.7h0M610.3 239.7h0M659.0 260.9h0M583.1 261.4h0M671.4 253.1h0M652.8 234.7h0M655.5 272.3h0M626.8 274.1h0M643.8 248.7h0M625.4 264.8h0M635.5 283.1h0M607.8 254.2h0M612.1 236.8h0M599.7 266.8h0M615.1 260.4h0M667.0 249.4h0M580.5 262.0h0M614.8 267.0h0M644.0 241.8h0M598.2 250.2h0M623.5 233.5h0M600.3 210.8h0M615.8 250.6h0M637.7 253.2h0M576.6 203.6h0M638.3 269.6h0M629.0 251.3h0M654.7 231.7h0M588.6 274.8h0M566.7 261.4h0M663.4 278.4h0M660.7 263.5h0M609.0 266.1h0M583.7 255.1h0M627.1 256.0h0M624.3 234.3h0M572.7 264.0h0M578.9 230.9h0M603.9 242.2h0M604.4 266.2h0M663.8 264.3h0M577.7 232.3h0M654.1 291.5h0M580.3 233.1h0M630.1 230.3h0M667.3 265.4h0M574.2 239.7h0M664.1 289.6h0M646.3 231.5h0M647.2 277.3h0M621.4 264.0h0M572.2 241.5h0M663.8 233.1h0M667.1 269.8h0M575.5 251.5h0M626.4 252.3h0M590.5 223.8h0M658.3 237.6h0M593.1 284.4h0M612.2 280.4h0M650.9 263.7h0M600.8 240.9h0M572.4 237.7h0M595.7 258.9h0M601.7 236.1h0M576.2 246.0h0M662.6 255.8h0M608.3 245.1h0M640.8 257.6h0M600.9 253.8h0M632.7 284.6h0M646.6 254.1h0M631.8 253.3h0M571.0 238.0h0M674.5 261.5h0M675.6 232.1h0M618.4 267.7h0M614.2 266.2h0M640.4 268.0h0M608.2 253.3h0M599.8 273.7h0M573.6 260.8h0M665.1 270.4h0M574.5 253.3h0M599.5 281.2h0M660.6 242.9h0M653.0 259.4h0M665.4 288.8h0M565.0 286.1h0M602.9 259.4h0M619.0 295.8h0M599.9 242.0h0M618.0 237.3h0M677.7 248.4h0M609.2 298.5h0M661.4 283.6h0M628.9 251.7h0M675.4 276.3h0M650.7 246.9h0M575.3 258.6h0M646.1 253.4h0M640.2 256.6h0M665.8 294.4h0M620.3 241.4h0M585.2 247.0h0M587.2 219.9h0M599.3 259.0h0M612.1 256.1h0M614.5 254.5h0M626.5 241.8h0M661.8 279.7h0M616.4 253.4h0M605.8 239.3h0M593.7 224.5h0M641.1 242.5h0M623.6 240.3h0M657.2 262.4h0M635.9 258.4h0M614.7 286.8h0M621.3 259.4h0M599.2 237.1h0M624.4 245.7h0M603.9 285.1h0M588.6 233.9h0M584.5 275.1h0M593.0 274.8h0M655.0 260.5h0M614.0 254.5h0M592.4 241.5h0M636.0 254.9h0M626.8 244.1h0M670.6 284.1h0M632.2 228.6h0M641.2 239.7h0M625.2 221.2h0M576.9 258.3h0M604.9 249.8h0M669.6 244.9h0M595.6 230.7h0M584.5 230.7h0M626.1 252.1h0M667.9 272.5h0M581.2 233.1h0M668.4 258.7h0M673.3 269.9h0M592.5 265.0h0M631.5 274.1h0M602.5 267.4h0M577.2 251.1h0M653.2 275.2h0M574.4 269.9h0M575.4 244.9h0M573.3 243.5h0M601.0 285.5h0M601.6 249.1h0M662.3 217.2h0M607.6 215.0h0M648.3 285.6h0M589.5 228.1h0M598.0 210.0h0M589.8 240.3h0M679.6 256.1h0M593.9 242.1h0M678.2 271.5h0M597.9 261.5h0M603.5 236.2h0M621.4 260.3h0M642.6 249.0h0M672.5 222.1h0M583.7 278.7h0M655.6 271.5h0M568.3 256.6h0M589.9 280.8h0M603.6 219.2h0M671.1 265.9h0M605.9 244.1h0M642.5 271.8h0" stroke="#adadad" stroke-width="2.20" stroke-linecap="round" fill="none"/>
<path d="M577.1 257.9h0M571.3 255.3h0M609.1 231.6h0M663.0 259.6h0M673.2 273.9h0M662.5 239.6h0M673.4 254.2h0M616.2 262.7h0M643.2 245.7h0M578.4 253.7h0M588.2 258.2h0M676.5 237.9h0M595.3 257.1h0M600.7 237.1h0M597.8 241.4h0M615.9 256.7h0M642.1 242.7h0M679.6 255.2h0M572.0 238.0h0M672.8 272.5h0M654.3 260.2h0M645.2 274.7h0M592.9 278.8h0M620.4 240.8h0M659.9 285.3h0M669.5 267.2h0M616.3 284.2h0M675.8 231.0h0M604.4 285.0h0M625.5 251.3h0M649.3 243.4h0M655.3 259.1h0M606.6 291.4h0M621.2 250.3h0M665.3 277.0h0M649.6 267.4h0M643.3 263.9h0M602.4 250.0h0M588.3 281.8h0M590.2 226.4h0M679.6 269.9h0M637.9 246.3h0M660.7 265.5h0M649.6 274.8h0M585.2 239.4h0M597.4 237.1h0M644.5 250.6h0M632.5 248.2h0M581.0 243.2h0M596.5 230.6h0M641.7 248.7h0M612.0 269.3h0M661.9 288.7h0M576.4 207.7h0M660.0 250.8h0M571.0 267.6h0M642.2 236.8h0M641.0 265.3h0M564.7 241.9h0M660.9 258.6h0M639.4 275.4h0M637.6 283.8h0M655.9 245.8h0M641.6 258.0h0M635.3 239.9h0M609.5 242.1h0M619.7 259.1h0M646.0 265.4h0M651.2 268.2h0M654.4 285.2h0M632.9 246.5h0M629.6 251.2h0M609.8 277.7h0M653.1 254.5h0M659.1 255.7h0M607.1 273.0h0M619.4 249.8h0M623.7 249.7h0M588.8 255.8h0M639.5 227.3h0M588.1 232.1h0M627.5 271.6h0M670.4 255.2h0M668.0 260.4h0M570.7 219.6h0M577.3 238.8h0M639.5 245.4h0M600.9 280.8h0M597.2 220.2h0M638.2 231.3h0M673.7 253.6h0M598.9 224.7h0M611.6 256.2h0M670.1 270.6h0M663.5 260.9h0M597.7 241.2h0M574.4 243.9h0M605.6 258.9h0M651.9 238.8h0M656.3 251.5h0M640.8 267.5h0M677.5 262.3h0M644.6 252.3h0M586.0 268.9h0M643.6 262.8h0M653.4 218.2h0M675.8 250.6h0M572.3 228.7h0" stroke="#858585" stroke-width="2.20" stroke-linecap="round" fill="none"/>
<polygon points="562.60,240.60 683.00,261.70 683.00,268.90 562.60,247.80" fill="#f7bb8c" fill-opacity="0.95"/>
<line x1="562.60" y1="244.20" x2="683.00" y2="265.30" stroke="#1a1a1a" stroke-width="1.0" stroke-dasharray="3,2.4"/>
<line x1="562.60" y1="314.20" x2="562.60" y2="195.60" stroke="#bdbdbd" stroke-width="1.2"/>
<path d="M561.70,196.60 L562.60,194.30 L563.50,196.60 Z" fill="#444"/>
<line x1="562.10" y1="314.20" x2="680.70" y2="314.20" stroke="#555" stroke-width="0.6"/>
<path d="M679.20,313.00 L682.00,314.20 L679.20,315.40 Z" fill="#444"/>
<line x1="567.20" y1="314.20" x2="567.20" y2="315.50" stroke="#555" stroke-width="0.5"/>
<line x1="584.08" y1="314.20" x2="584.08" y2="315.50" stroke="#555" stroke-width="0.5"/>
<line x1="600.97" y1="314.20" x2="600.97" y2="315.50" stroke="#555" stroke-width="0.5"/>
<line x1="617.85" y1="314.20" x2="617.85" y2="315.50" stroke="#555" stroke-width="0.5"/>
<line x1="634.73" y1="314.20" x2="634.73" y2="315.50" stroke="#555" stroke-width="0.5"/>
<line x1="651.62" y1="314.20" x2="651.62" y2="315.50" stroke="#555" stroke-width="0.5"/>
<line x1="668.50" y1="314.20" x2="668.50" y2="315.50" stroke="#555" stroke-width="0.5"/>
<line x1="561.00" y1="198.40" x2="562.10" y2="198.40" stroke="#555" stroke-width="0.5"/>
<line x1="561.00" y1="217.20" x2="562.10" y2="217.20" stroke="#555" stroke-width="0.5"/>
<line x1="561.00" y1="235.20" x2="562.10" y2="235.20" stroke="#555" stroke-width="0.5"/>
<line x1="561.00" y1="253.70" x2="562.10" y2="253.70" stroke="#555" stroke-width="0.5"/>
<line x1="561.00" y1="272.30" x2="562.10" y2="272.30" stroke="#555" stroke-width="0.5"/>
<line x1="561.00" y1="290.50" x2="562.10" y2="290.50" stroke="#555" stroke-width="0.5"/>
<line x1="561.00" y1="309.50" x2="562.10" y2="309.50" stroke="#555" stroke-width="0.5"/>
<text x="560.40" y="200.60" font-size="6.41" fill="#333" text-anchor="end" textLength="13.33" lengthAdjust="spacingAndGlyphs" stroke="#333" stroke-width="0.16">71.5</text>
<text x="560.40" y="219.40" font-size="6.41" fill="#333" text-anchor="end" textLength="13.33" lengthAdjust="spacingAndGlyphs" stroke="#333" stroke-width="0.16">70.7</text>
<text x="560.40" y="237.40" font-size="6.41" fill="#333" text-anchor="end" textLength="13.33" lengthAdjust="spacingAndGlyphs" stroke="#333" stroke-width="0.16">69.9</text>
<text x="560.40" y="255.90" font-size="6.41" fill="#333" text-anchor="end" textLength="13.33" lengthAdjust="spacingAndGlyphs" stroke="#333" stroke-width="0.16">69.1</text>
<text x="560.40" y="274.50" font-size="6.41" fill="#333" text-anchor="end" textLength="13.33" lengthAdjust="spacingAndGlyphs" stroke="#333" stroke-width="0.16">68.3</text>
<text x="560.40" y="292.70" font-size="6.41" fill="#333" text-anchor="end" textLength="13.33" lengthAdjust="spacingAndGlyphs" stroke="#333" stroke-width="0.16">67.5</text>
<text x="560.40" y="311.70" font-size="6.41" fill="#333" text-anchor="end" textLength="13.33" lengthAdjust="spacingAndGlyphs" stroke="#333" stroke-width="0.16">66.7</text>
<text x="567.20" y="321.50" font-size="6.41" fill="#333" text-anchor="middle" textLength="7.46" lengthAdjust="spacingAndGlyphs" stroke="#333" stroke-width="0.16">20</text>
<text x="584.08" y="321.50" font-size="6.41" fill="#333" text-anchor="middle" textLength="7.46" lengthAdjust="spacingAndGlyphs" stroke="#333" stroke-width="0.16">30</text>
<text x="600.97" y="321.50" font-size="6.41" fill="#333" text-anchor="middle" textLength="7.46" lengthAdjust="spacingAndGlyphs" stroke="#333" stroke-width="0.16">40</text>
<text x="617.85" y="321.50" font-size="6.41" fill="#333" text-anchor="middle" textLength="7.46" lengthAdjust="spacingAndGlyphs" stroke="#333" stroke-width="0.16">50</text>
<text x="634.73" y="321.50" font-size="6.41" fill="#333" text-anchor="middle" textLength="7.46" lengthAdjust="spacingAndGlyphs" stroke="#333" stroke-width="0.16">60</text>
<text x="651.62" y="321.50" font-size="6.41" fill="#333" text-anchor="middle" textLength="7.46" lengthAdjust="spacingAndGlyphs" stroke="#333" stroke-width="0.16">70</text>
<text x="668.50" y="321.50" font-size="6.41" fill="#333" text-anchor="middle" textLength="7.46" lengthAdjust="spacingAndGlyphs" stroke="#333" stroke-width="0.16">80</text>
<text x="624.85" y="329.40" font-size="7.6" fill="#222" text-anchor="middle" textLength="44.5" lengthAdjust="spacingAndGlyphs" stroke="#222" stroke-width="0.16">Age (years)</text>
<text x="542.10" y="254.00" font-size="7.6" fill="#222" text-anchor="middle" textLength="91.5" lengthAdjust="spacingAndGlyphs" transform="rotate(-90 542.1 254)" stroke="#222" stroke-width="0.16">Memory capacity (AUC)</text>
<path d="M586.6 426.6h0M589.6 431.4h0M579.1 373.3h0M579.8 360.7h0M593.7 425.7h0M583.0 365.4h0M598.6 422.4h0M587.1 382.6h0M579.8 367.7h0M596.6 417.2h0M578.5 380.5h0M596.6 374.9h0M579.1 381.1h0M578.6 408.9h0M583.3 424.2h0M583.4 406.8h0M585.1 381.3h0M581.1 432.1h0M593.6 417.2h0M595.0 359.7h0M598.3 410.2h0M596.8 373.9h0M588.4 382.1h0M579.1 365.6h0M581.8 382.0h0M598.5 360.6h0M593.6 424.1h0M589.2 369.7h0M589.3 380.8h0M593.1 407.3h0M592.7 424.7h0M579.6 406.5h0M595.7 411.9h0M593.2 406.1h0M591.6 425.9h0M590.7 422.0h0M591.3 408.9h0M586.0 371.4h0M586.5 369.9h0M580.0 419.7h0M578.9 372.9h0M582.2 380.7h0M595.4 409.8h0M597.3 374.5h0M593.2 374.0h0M581.1 406.6h0M581.8 406.8h0M582.9 363.1h0M580.2 425.9h0M581.8 372.7h0M596.9 375.9h0M589.1 410.1h0M587.2 380.1h0M582.6 418.3h0M585.6 413.0h0M580.2 410.4h0M592.8 419.4h0M579.0 380.1h0M583.3 416.8h0M600.2 370.0h0M593.4 366.2h0M599.1 407.7h0M591.0 379.7h0M582.1 420.3h0M599.6 374.8h0M590.3 373.2h0M592.5 406.5h0M595.8 419.3h0M596.3 405.3h0M594.8 368.0h0M590.5 405.9h0M580.6 416.0h0M595.3 382.4h0M593.9 418.5h0M581.0 359.3h0M583.9 377.4h0M578.9 380.2h0M580.6 379.2h0M588.1 374.9h0M589.2 363.9h0M581.5 375.5h0M600.3 406.2h0M590.7 380.8h0M592.9 429.9h0M597.3 416.9h0M595.7 426.3h0M586.4 432.3h0M597.7 378.4h0M584.4 433.2h0M578.5 375.7h0M594.3 409.7h0M588.5 407.1h0M592.7 382.4h0M593.7 380.3h0M593.0 414.5h0M594.6 410.8h0M578.4 370.6h0M581.9 380.3h0M589.1 405.3h0M581.9 409.8h0M584.7 367.6h0M581.5 410.4h0M597.0 379.4h0M596.0 417.7h0M590.8 373.9h0M598.8 413.0h0M585.4 431.3h0M595.7 422.4h0M582.3 371.9h0M593.7 382.4h0M594.6 405.7h0M597.1 423.9h0M579.1 405.3h0M592.2 360.8h0M595.7 408.0h0M589.4 413.5h0M599.6 423.6h0M583.9 377.9h0M595.0 422.7h0M589.1 405.5h0M598.8 369.1h0M598.4 412.9h0M580.9 404.9h0M579.6 361.6h0M597.8 375.6h0M584.2 416.6h0M595.5 420.1h0M580.6 373.2h0M579.7 408.4h0M599.9 382.0h0M592.9 431.0h0M588.9 359.6h0M582.0 363.5h0M578.5 431.6h0M596.4 367.3h0M584.3 406.2h0M594.6 408.0h0M592.4 375.1h0M578.7 380.3h0M591.8 405.6h0M586.4 371.5h0M587.7 411.2h0M588.7 377.1h0M594.1 376.4h0M580.7 378.4h0M583.2 411.8h0M588.8 377.0h0M600.0 366.0h0M589.6 380.3h0M599.8 365.2h0M582.7 375.5h0M579.9 415.7h0M590.8 421.5h0M594.8 365.9h0M584.0 420.7h0M595.6 421.2h0M579.7 415.0h0M595.5 382.5h0M593.3 409.5h0" stroke="#444" stroke-width="0.84" stroke-linecap="round" fill="none"/>
<line x1="589.40" y1="356.00" x2="589.40" y2="434.20" stroke="#f7a66a" stroke-width="0.8"/>
<rect x="580.00" y="382.60" width="20.10" height="21.80" fill="#fcdcc0" stroke="#f8b887" stroke-width="0.7"/>
<path d="M596.2 402.8h0M580.2 398.6h0M585.2 393.6h0M587.6 394.1h0M595.3 396.0h0M589.4 400.9h0M593.7 402.8h0M593.7 383.4h0M592.8 394.4h0M596.9 385.6h0M599.1 403.2h0M578.6 397.1h0M584.8 394.8h0M586.8 389.8h0M590.4 398.1h0M582.0 384.0h0M585.5 399.0h0M593.8 391.0h0M597.3 398.2h0M588.9 402.9h0M598.8 397.7h0M598.9 388.9h0M593.2 394.8h0M594.3 394.9h0M595.7 391.5h0M581.4 390.9h0M580.2 390.3h0M596.7 390.9h0M585.2 393.3h0M594.6 384.1h0M581.4 394.6h0M592.8 387.2h0M598.8 400.1h0M585.8 390.8h0M579.1 396.4h0M596.2 402.9h0M586.8 397.1h0M589.9 396.3h0M592.3 398.3h0M597.1 402.1h0M581.3 391.6h0M581.1 384.6h0M580.1 385.8h0M581.0 395.5h0M594.1 396.2h0M579.7 392.7h0M585.8 384.4h0M596.5 388.6h0M589.1 395.1h0M582.8 397.4h0M586.4 393.9h0M600.0 398.6h0M585.5 393.3h0M578.6 395.2h0M584.5 397.3h0M590.4 401.5h0M596.4 404.1h0M584.2 390.9h0M578.6 394.6h0M595.5 386.0h0M588.3 391.1h0M598.5 397.5h0M597.4 389.4h0M598.6 395.7h0M599.2 399.3h0M591.7 402.6h0M581.4 389.8h0M587.4 383.0h0M591.3 399.2h0M583.4 396.5h0M580.1 386.4h0M598.9 404.4h0M584.8 398.3h0M596.2 387.6h0M597.0 388.4h0M589.2 395.0h0M594.9 382.9h0M578.5 386.9h0M599.7 390.2h0M582.5 399.7h0M591.6 395.1h0M584.9 388.5h0M583.1 386.1h0M578.9 403.4h0M593.5 393.2h0M591.3 392.2h0M591.4 391.3h0M590.9 394.2h0M581.9 396.2h0M583.4 385.4h0M582.6 403.2h0M583.1 388.0h0M593.9 393.4h0M581.7 395.8h0M586.1 402.4h0M595.6 391.6h0M595.4 396.5h0M580.1 398.0h0M586.5 401.9h0M591.9 396.3h0M585.2 397.7h0M591.8 392.9h0M590.7 392.1h0M585.2 386.2h0M591.7 401.4h0M596.6 384.7h0M584.7 385.1h0M582.8 397.1h0M591.0 395.5h0M597.1 388.6h0M589.4 386.9h0M593.2 396.3h0M595.4 393.7h0M588.4 386.6h0M580.8 404.2h0M590.8 383.7h0M585.4 399.5h0M592.5 395.5h0M585.7 387.5h0M581.9 385.3h0M595.6 387.1h0M589.2 392.9h0M592.6 395.0h0M594.7 398.6h0M587.5 383.8h0M586.0 402.5h0M591.9 392.5h0M591.5 398.1h0M579.6 385.9h0M589.3 383.8h0M581.6 397.1h0M596.0 392.6h0M583.0 388.5h0M592.5 394.0h0" stroke="#444" stroke-width="0.84" stroke-linecap="round" fill="none"/>
<line x1="580.00" y1="393.50" x2="600.10" y2="393.50" stroke="#f8b887" stroke-width="0.5"/>
<circle cx="589.40" cy="393.50" r="0.90" fill="#f7a66a"/>
<path d="M648.4 374.5h0M659.7 428.8h0M657.9 438.6h0M666.0 422.7h0M647.2 376.1h0M660.4 384.2h0M647.4 369.3h0M665.7 455.0h0M652.9 419.7h0M664.4 427.4h0M652.9 422.1h0M647.4 387.9h0M662.7 452.5h0M651.3 388.9h0M658.9 453.7h0M655.1 421.1h0M645.8 369.9h0M655.2 383.5h0M646.5 377.8h0M659.7 392.1h0M662.6 418.5h0M650.7 363.5h0M648.8 438.3h0M660.7 438.6h0M654.3 422.7h0M655.7 382.6h0M646.7 420.5h0M648.6 434.7h0M666.2 380.0h0M654.5 418.7h0M649.8 381.8h0M663.4 423.1h0M660.4 393.2h0M660.1 382.0h0M649.5 422.7h0M664.7 379.4h0M654.6 418.4h0M658.7 420.3h0M657.4 388.6h0M653.4 379.6h0M648.9 429.6h0M661.9 430.0h0M656.3 441.0h0M654.6 420.4h0M661.6 453.6h0M646.3 385.8h0M646.2 436.3h0M650.9 422.3h0M646.5 389.5h0M650.0 383.2h0M659.7 420.6h0M658.6 425.2h0M645.1 448.6h0M653.4 384.2h0M651.8 382.8h0M653.9 431.2h0M653.4 436.5h0M658.7 434.1h0M651.0 376.8h0M646.7 432.4h0M650.6 443.9h0M655.5 390.3h0M650.8 393.6h0M653.3 389.2h0M660.9 428.2h0M652.2 441.5h0M661.1 364.1h0M658.5 387.0h0M647.8 377.5h0M661.0 385.3h0M664.0 389.5h0M652.0 421.1h0M663.0 388.1h0M661.9 378.5h0M659.9 419.5h0M658.3 428.1h0M647.8 390.8h0M655.3 383.9h0M655.9 425.5h0M645.9 449.1h0M658.2 391.8h0M662.0 448.8h0M660.6 382.3h0M652.9 426.5h0M655.9 383.8h0M653.6 372.1h0M657.7 369.3h0M664.5 387.2h0M655.9 455.5h0M645.9 430.0h0M664.1 393.6h0M665.5 440.7h0M645.0 383.1h0M663.9 383.5h0M647.8 426.8h0M651.8 393.3h0M649.9 438.3h0M649.6 433.5h0M664.5 390.7h0M653.8 438.2h0M653.3 426.4h0M654.3 421.8h0M652.6 378.5h0M665.5 386.9h0M660.3 423.2h0M665.2 385.8h0M662.6 423.5h0M657.1 425.6h0M661.1 429.4h0M660.1 391.4h0M659.1 378.0h0M654.2 431.1h0M659.6 429.9h0M665.9 441.9h0M660.3 436.3h0M648.9 419.1h0M655.5 423.9h0M660.9 389.0h0M646.2 390.1h0M652.5 426.0h0M658.9 391.4h0M657.1 390.1h0M665.1 376.0h0M657.5 431.9h0M664.2 432.5h0M654.6 381.8h0M662.8 374.7h0M656.3 419.5h0M646.5 380.0h0M657.1 389.4h0M664.4 420.4h0M665.1 422.7h0M655.9 373.7h0M651.8 373.8h0M651.3 421.6h0M650.0 423.5h0M660.4 444.3h0M657.4 381.8h0M652.9 426.5h0M665.3 369.1h0M647.9 389.5h0M653.6 418.8h0M654.9 436.9h0M654.3 429.2h0M655.8 375.7h0M664.7 390.6h0M653.1 385.6h0M664.8 437.5h0M650.4 441.6h0M659.6 418.7h0M655.0 374.1h0M662.8 383.4h0M647.0 420.8h0M658.5 425.9h0M660.2 386.1h0M648.7 423.4h0M664.5 373.1h0M658.3 376.1h0M652.7 371.6h0M656.7 420.9h0M650.8 426.2h0M651.1 425.7h0M655.4 391.3h0M666.7 421.7h0M656.7 386.7h0M656.8 386.4h0M648.4 372.6h0M658.8 424.9h0M666.4 368.4h0M645.3 389.7h0M653.2 429.7h0M650.2 393.7h0M645.2 419.0h0M659.3 441.8h0M662.1 383.7h0" stroke="#444" stroke-width="0.84" stroke-linecap="round" fill="none"/>
<line x1="655.70" y1="360.30" x2="655.70" y2="456.60" stroke="#c8203f" stroke-width="0.8"/>
<rect x="645.80" y="394.00" width="19.80" height="24.10" fill="#eba8b8" stroke="#d06080" stroke-width="0.7"/>
<path d="M658.2 407.6h0M665.5 404.0h0M652.4 408.0h0M661.7 413.6h0M647.8 406.5h0M649.6 412.7h0M653.7 414.4h0M659.1 396.4h0M666.0 411.8h0M650.1 408.1h0M661.5 402.6h0M658.2 402.3h0M650.4 407.7h0M660.4 410.3h0M644.9 404.0h0M658.8 410.8h0M656.8 409.5h0M655.7 415.9h0M666.4 404.8h0M665.6 402.6h0M647.8 402.5h0M664.8 403.3h0M659.2 394.3h0M650.4 397.5h0M649.0 401.3h0M656.3 394.2h0M649.1 415.1h0M661.9 399.0h0M657.8 398.2h0M654.9 411.1h0M653.4 412.1h0M653.5 394.6h0M658.3 411.3h0M645.3 408.2h0M648.6 406.5h0M652.0 395.4h0M665.6 401.3h0M663.7 414.4h0M659.5 413.7h0M664.3 407.9h0M645.1 417.5h0M663.7 416.7h0M653.8 394.1h0M659.4 408.9h0M647.9 408.9h0M652.4 407.7h0M663.0 400.3h0M650.9 417.4h0M653.8 406.0h0M653.6 405.5h0M662.8 399.5h0M659.9 414.7h0M647.3 414.9h0M649.4 400.3h0M648.0 404.7h0M666.5 398.3h0M654.8 416.9h0M658.6 415.8h0M654.1 400.0h0M651.2 408.9h0M660.8 412.6h0M652.5 409.2h0M662.2 412.9h0M646.9 412.2h0M662.6 405.3h0M660.5 399.6h0M663.5 409.3h0M645.6 412.8h0M656.0 398.1h0M653.9 404.3h0M652.5 416.8h0M666.3 395.0h0M651.8 412.8h0M646.8 397.4h0M656.5 402.8h0M654.4 411.5h0M656.3 418.0h0M658.8 394.5h0M657.9 395.1h0M662.9 408.8h0M661.7 414.6h0M662.8 413.6h0M666.4 412.2h0M652.7 402.0h0M665.4 409.0h0M645.2 405.9h0M652.9 413.3h0M659.5 412.4h0M662.1 400.9h0M658.9 396.5h0M664.4 396.9h0M650.6 399.5h0M659.1 399.8h0M651.7 398.8h0M665.4 409.9h0M662.5 416.6h0M664.9 414.5h0M658.2 407.8h0M658.3 411.4h0M656.6 408.9h0M656.2 414.0h0M665.0 401.6h0M658.5 407.0h0M657.5 406.3h0M652.6 404.9h0M655.5 406.8h0M650.0 414.5h0M662.2 397.6h0M650.3 399.2h0M665.9 404.8h0M658.8 397.2h0M661.1 409.1h0M651.6 409.8h0M648.6 398.1h0M660.5 409.9h0M648.6 412.3h0M659.5 397.2h0M655.7 397.1h0M653.3 402.1h0M645.4 418.0h0M660.9 415.4h0M657.3 414.7h0M647.8 398.8h0M659.1 414.8h0M657.9 412.3h0M646.0 404.0h0M653.6 414.8h0M666.2 413.0h0M666.4 400.8h0M664.3 414.7h0M660.3 416.5h0M663.0 412.4h0M648.7 415.0h0M660.0 408.5h0M665.5 403.8h0M647.7 398.6h0M645.7 399.8h0M655.5 408.3h0M662.9 412.4h0M664.3 418.1h0M663.1 417.4h0M664.5 415.8h0M654.6 399.1h0M649.7 399.7h0M646.0 402.2h0M649.4 412.5h0M654.0 398.2h0M661.5 400.9h0M661.1 398.1h0M649.6 401.7h0M651.9 417.8h0M651.1 417.8h0M661.0 414.5h0M660.1 411.0h0" stroke="#444" stroke-width="0.84" stroke-linecap="round" fill="none"/>
<line x1="645.80" y1="406.05" x2="665.60" y2="406.05" stroke="#d06080" stroke-width="0.5"/>
<circle cx="655.70" cy="406.05" r="0.90" fill="#c8203f"/>
<line x1="562.60" y1="459.00" x2="562.60" y2="341.40" stroke="#bdbdbd" stroke-width="1.2"/>
<path d="M561.70,342.40 L562.60,340.10 L563.50,342.40 Z" fill="#444"/>
<line x1="562.10" y1="459.00" x2="682.20" y2="459.00" stroke="#555" stroke-width="0.6"/>
<path d="M680.70,457.80 L683.50,459.00 L680.70,460.20 Z" fill="#444"/>
<line x1="589.40" y1="459.00" x2="589.40" y2="460.30" stroke="#555" stroke-width="0.5"/>
<line x1="655.70" y1="459.00" x2="655.70" y2="460.30" stroke="#555" stroke-width="0.5"/>
<line x1="561.00" y1="344.40" x2="562.10" y2="344.40" stroke="#555" stroke-width="0.5"/>
<line x1="561.00" y1="362.80" x2="562.10" y2="362.80" stroke="#555" stroke-width="0.5"/>
<line x1="561.00" y1="381.10" x2="562.10" y2="381.10" stroke="#555" stroke-width="0.5"/>
<line x1="561.00" y1="399.70" x2="562.10" y2="399.70" stroke="#555" stroke-width="0.5"/>
<line x1="561.00" y1="418.10" x2="562.10" y2="418.10" stroke="#555" stroke-width="0.5"/>
<line x1="561.00" y1="436.70" x2="562.10" y2="436.70" stroke="#555" stroke-width="0.5"/>
<line x1="561.00" y1="454.80" x2="562.10" y2="454.80" stroke="#555" stroke-width="0.5"/>
<text x="560.40" y="346.60" font-size="6.41" fill="#333" text-anchor="end" textLength="13.33" lengthAdjust="spacingAndGlyphs" stroke="#333" stroke-width="0.16">71.5</text>
<text x="560.40" y="365.00" font-size="6.41" fill="#333" text-anchor="end" textLength="13.33" lengthAdjust="spacingAndGlyphs" stroke="#333" stroke-width="0.16">70.7</text>
<text x="560.40" y="383.30" font-size="6.41" fill="#333" text-anchor="end" textLength="13.33" lengthAdjust="spacingAndGlyphs" stroke="#333" stroke-width="0.16">69.9</text>
<text x="560.40" y="401.90" font-size="6.41" fill="#333" text-anchor="end" textLength="13.33" lengthAdjust="spacingAndGlyphs" stroke="#333" stroke-width="0.16">69.1</text>
<text x="560.40" y="420.30" font-size="6.41" fill="#333" text-anchor="end" textLength="13.33" lengthAdjust="spacingAndGlyphs" stroke="#333" stroke-width="0.16">68.3</text>
<text x="560.40" y="438.90" font-size="6.41" fill="#333" text-anchor="end" textLength="13.33" lengthAdjust="spacingAndGlyphs" stroke="#333" stroke-width="0.16">67.5</text>
<text x="560.40" y="457.00" font-size="6.41" fill="#333" text-anchor="end" textLength="13.33" lengthAdjust="spacingAndGlyphs" stroke="#333" stroke-width="0.16">66.7</text>
<text x="595.60" y="466.80" font-size="7.05" fill="#222" text-anchor="middle" textLength="56.67" lengthAdjust="spacingAndGlyphs" stroke="#222" stroke-width="0.16">Young individuals</text>
<text x="660.20" y="466.80" font-size="7.16" fill="#222" text-anchor="middle" textLength="48.18" lengthAdjust="spacingAndGlyphs" stroke="#222" stroke-width="0.16">Old individuals</text>
<text x="542.10" y="400.00" font-size="7.6" fill="#222" text-anchor="middle" textLength="91.5" lengthAdjust="spacingAndGlyphs" transform="rotate(-90 542.1 400)" stroke="#222" stroke-width="0.16">Memory capacity (AUC)</text>
<text x="1.50" y="502.00" font-size="15.2" fill="#111" font-weight="bold" textLength="14.5" lengthAdjust="spacingAndGlyphs" style="font-family:'Liberation Serif',serif">I)</text>
<defs><clipPath id="gb1"><path d="M2.3,544.0 C2.5,540.4 3.2,534.4 4.6,530.3 C6.0,526.2 7.9,522.8 10.7,519.5 C13.5,516.2 17.7,512.5 21.5,510.3 C25.3,508.1 29.1,507.6 33.7,506.5 C38.3,505.4 44.4,504.0 49.0,503.4 C53.6,502.8 57.2,502.4 61.3,502.7 C65.4,503.0 69.8,503.5 73.6,505.0 C77.4,506.5 81.0,508.7 84.3,511.9 C87.6,515.1 91.2,519.8 93.5,524.1 C95.8,528.4 97.3,533.5 98.1,537.9 C98.9,542.2 99.1,546.9 98.1,550.2 C97.1,553.5 95.1,556.0 92.0,557.8 C88.9,559.6 84.0,559.6 79.7,560.9 C75.4,562.2 70.8,563.7 65.9,565.5 C61.1,567.3 54.9,570.5 50.6,571.6 C46.3,572.8 43.2,572.9 39.9,572.4 C36.6,571.9 32.8,570.3 30.7,568.6 C28.6,566.9 29.7,563.9 27.6,562.4 C25.6,560.9 21.7,560.4 18.4,559.4 C15.1,558.4 10.2,557.6 7.7,556.3 C5.2,555.0 4.0,553.8 3.1,551.7 C2.2,549.7 2.0,547.6 2.3,544.0Z"/></clipPath></defs>
<path d="M2.3,544.0 C2.5,540.4 3.2,534.4 4.6,530.3 C6.0,526.2 7.9,522.8 10.7,519.5 C13.5,516.2 17.7,512.5 21.5,510.3 C25.3,508.1 29.1,507.6 33.7,506.5 C38.3,505.4 44.4,504.0 49.0,503.4 C53.6,502.8 57.2,502.4 61.3,502.7 C65.4,503.0 69.8,503.5 73.6,505.0 C77.4,506.5 81.0,508.7 84.3,511.9 C87.6,515.1 91.2,519.8 93.5,524.1 C95.8,528.4 97.3,533.5 98.1,537.9 C98.9,542.2 99.1,546.9 98.1,550.2 C97.1,553.5 95.1,556.0 92.0,557.8 C88.9,559.6 84.0,559.6 79.7,560.9 C75.4,562.2 70.8,563.7 65.9,565.5 C61.1,567.3 54.9,570.5 50.6,571.6 C46.3,572.8 43.2,572.9 39.9,572.4 C36.6,571.9 32.8,570.3 30.7,568.6 C28.6,566.9 29.7,563.9 27.6,562.4 C25.6,560.9 21.7,560.4 18.4,559.4 C15.1,558.4 10.2,557.6 7.7,556.3 C5.2,555.0 4.0,553.8 3.1,551.7 C2.2,549.7 2.0,547.6 2.3,544.0Z" fill="#e9e9e9"/>
<g clip-path="url(#gb1)">
<path d="M7.7,543.4 C8.0,540.3 8.5,535.1 9.8,531.6 C11.0,528.1 12.6,525.2 15.1,522.3 C17.6,519.5 21.3,516.3 24.6,514.4 C28.0,512.5 31.3,512.1 35.4,511.1 C39.4,510.2 44.8,509.0 48.8,508.5 C52.9,507.9 56.0,507.6 59.7,507.9 C63.3,508.1 67.1,508.5 70.5,509.9 C73.8,511.2 77.0,513.0 79.9,515.8 C82.8,518.5 86.0,522.6 88.0,526.3 C90.0,530.0 91.4,534.4 92.0,538.1 C92.7,541.9 92.9,545.9 92.0,548.7 C91.1,551.6 89.4,553.7 86.7,555.3 C84.0,556.8 79.7,556.8 75.8,557.9 C72.0,559.0 68.0,560.3 63.7,561.9 C59.4,563.4 54.0,566.1 50.2,567.1 C46.4,568.1 43.7,568.2 40.8,567.8 C37.9,567.4 34.5,566.0 32.7,564.5 C30.9,563.1 31.8,560.5 30.0,559.2 C28.2,557.9 24.8,557.5 21.9,556.6 C19.0,555.8 14.7,555.1 12.5,554.0 C10.2,552.9 9.2,551.8 8.4,550.0 C7.6,548.3 7.5,546.5 7.7,543.4Z" fill="#f1f1f1"/>
<path d="M88.8 507.4l-2.2 -1.4 -2.5 -.4 -2.5 .6 -2.3 1.3 -2.6 .3 -2.5 .7 -2.5 .6M96.6 551.8l-1.3 2.3 -.9 2.5 -.3 2.5 0.7 2.5 -.1 2.6 -.9 2.4 -1 2.4M63.2 544.2l2.3 1.1 2.6 .4 2.5 .8 2.3 1.2 1.8 1.8 1.5 2.2 1.8 1.8M6.2 533.9l2.3 1.2 2.3 1.3 2 1.6 2.4 1.0 2.5 .8 2.5 .6 2.6 -.4M93.5 508.5l1.7 2.0 1.9 1.8 2.2 1.3 2.1 1.6 2.6 .5 2.5 .4 2.5 .9M45.9 546.4l2.6 .5 2.5 .8 2 1.6 1.5 2.1 1.4 2.2 1.6 2.0 1.2 2.3M67.7 524.8l-2 -1.7 -2.3 -1.2 -2.4 -1.1 -1.9 -1.7 -2 -1.7 -2.3 -1.3 -2.5 -.6M71.8 549.1l-2.4 1.1 -2.5 .2 -2.6 -.1 -2.5 .8 -2.5 .6 -2.6 -.4 -2.6 -.3M85.8 565.5l-1.6 2.0 -1.6 2.1 -1.9 1.8 -2.2 1.3 -1.6 2.0 -2.3 1.3 -1.6 2.1M90.5 535.9l-.6 2.5 0.6 2.5 -.4 2.6 -.6 2.5 -.1 2.6 0.9 2.5 0.8 2.4M39.7 514.2l1.5 -2.1 2.1 -1.6 2.5 -.6 2.6 .1 2.5 -.7 2.6 .0 2.6 .4M7.9 512.8l-2.6 .3 -2.6 .0 -2.6 -.2 -2.6 .4 -2.5 -.7 -2.1 -1.6 -2.3 -1.0M88.8 558.5l2.5 -.7 2.5 -.6 2.5 -.8 1.8 -1.8 2.4 -1.0 2.6 -.1 2.6 .0M63.0 557.7l0 2.6 -1.1 2.4 -1 2.4 -.7 2.5 -1.4 2.2 -1.3 2.2 -1.4 2.2M94.2 545.6l-2.5 .4 -2.6 .6 -2.5 .5 -2.6 .2 -2.6 .3 -2.6 -.1 -2.3 -1.2M92.9 509.0l-2.1 -1.6 -2.5 -.6 -2.1 -1.6 -1.5 -2.1 -.5 -2.5 -1.4 -2.3 -1.7 -2.0M47.9 535.3l1.1 2.4 1.9 1.7 2.3 1.3 2.5 .4 2.3 1.4 1.7 1.9 1.4 2.2M20.8 554.0l2.6 .6 2.4 1.0 1.8 1.9 0.8 2.4 -.1 2.6 0.9 2.5 0.5 2.5M18.2 521.6l2.4 1.1 2.4 .8 2.1 1.6 2 1.6 2.6 .5 2.3 1.2 2.3 1.2M27.6 512.5l2.3 1.3 1.7 2.0 1.3 2.2 1.1 2.4 1.8 1.9 1.3 2.2 1.9 1.8M48.5 567.1l-2.2 -1.4 -2.3 -1.2 -1.9 -1.8 -2.1 -1.5 -1.9 -1.8 -2 -1.6 -2.5 -.8M3.4 519.0l0.8 2.4 0.8 2.5 0.3 2.6 -.7 2.5 -1.7 2.0 -1.9 1.7 -1.8 1.9M43.3 521.0l0.7 2.5 1.3 2.3 2 1.6 2 1.6 2.4 1.1 2.1 1.5 2.6 .5M39.3 551.7l2.4 -.9 2.4 -1.0 2.6 -.1 2.5 .8 2.2 1.3 2.3 1.2 2.1 1.5M55.9 514.9l-1.2 -2.3 -.1 -2.6 0.2 -2.6 1.3 -2.3 2 -1.6 1.9 -1.8 1.8 -1.8M61.3 558.9l1.5 -2.1 0.7 -2.5 -.2 -2.6 -.7 -2.5 -1.4 -2.2 -.7 -2.5 -1 -2.4M12.3 512.5l-.8 -2.5 -1.2 -2.3 -1.7 -2.0 -1 -2.4 -1.6 -2.1 -.7 -2.5 -.4 -2.5M11.7 549.1l-2.5 -1.0 -2.6 .0 -2.6 -.2 -2.2 -1.3 -2.6 -.2 -2.5 -.7 -2.5 -.7M87.3 519.3l-.9 2.4 -.2 2.6 -.3 2.6 -.1 2.6 0.4 2.5 -.3 2.6 0.6 2.5M2.5 519.3l-1.7 2.0 -.8 2.5 -.3 2.6 -.8 2.4 0.3 2.6 1 2.4 1.3 2.2M72.5 524.4l-2.5 .8 -2.6 -.2 -2.3 -1.2 -2 -1.7 -2.1 -1.4 -2.5 -.9 -2.6 -.4M24.6 525.2l1 -2.4 1.5 -2.1 0.7 -2.5 0.3 -2.6 0.2 -2.6 -.6 -2.5 -.2 -2.6M96.6 524.0l-1.7 1.9 -2.1 1.5 -2.4 1.0 -2.6 .4 -2.5 .5 -2.6 -.6 -2.2 -1.4M21.5 526.7l-2.6 .4 -2.6 .4 -2.1 1.4 -2.4 1.1 -2.2 1.4 -2.1 1.5 -1.6 2.1M89.0 508.3l-2.3 1.3 -2.5 .5 -2.1 1.5 -2.4 1.0 -1.9 1.8 -1.7 2.0 -.8 2.5M53.2 549.2l-2.1 -1.6 -2.3 -1.1 -2.4 -1.0 -2.5 -.8 -2.6 -.1 -2.5 -.6 -2.1 -1.6M31.5 531.8l1.3 2.2 0.8 2.5 1.6 2.1 1.1 2.3 1.7 2.0 1.3 2.2 1.5 2.2M92.0 555.9l-2.1 1.6 -1.5 2.1 -1.7 2.0 -.8 2.4 -.4 2.6 -.7 2.5 0.3 2.6M35.2 517.9l2.5 -1.0 2 -1.6 1.3 -2.2 0.5 -2.6 1 -2.4 1 -2.4 1 -2.4M10.9 504.9l1.9 1.7 2.3 1.3 2.4 1.0 2.6 .0 2.5 -.7 2.5 .4 2.3 1.2M47.3 546.0l0.8 2.4 0.6 2.6 0.1 2.6 0.6 2.5 0.6 2.5 -.2 2.6 -.5 2.6M82.1 517.7l-2.3 -1.2 -1.8 -1.9 -1.5 -2.2 -2.1 -1.5 -2.3 -1.1 -2 -1.7 -2.2 -1.5M61.5 537.7l-2.6 -.3 -2.6 .2 -2.5 -.6 -2.6 .1 -2.4 -.8 -2.6 -.5 -2.6 .0M68.9 545.2l2.5 -.8 2.6 .0 2.4 .9 2.3 1.3 1.5 2.0 0.6 2.6 -.5 2.6M91.3 550.5l2.6 .2 2.5 .7 2.6 -.3 2.6 -.5 2.3 -1.3 2.4 -.8 2.6 -.1M18.9 561.8l1.7 2.0 2.3 1.2 1.7 2.0 2.2 1.4 2 1.6 1.9 1.8 2.5 .9M92.5 520.9l-1.2 2.4 -.9 2.4 -1.8 1.9 -.8 2.5 -.5 2.5 0.2 2.6 0.2 2.6M45.8 568.5l2.6 .0 2.6 .3 2.6 .0 2.5 .7 2.5 .9 2.4 .9 2.2 1.4M89.4 520.9l2.6 -.4 2.6 -.2 2.6 .2 2.5 -.5 2.6 -.1 2.5 .6 2.6 .6M35.7 572.0l2.5 .7 2.1 1.4 1.6 2.1 2.2 1.4 2.5 .7 2.3 1.1 2.4 1.2M9.6 533.4l1.1 -2.4 2 -1.7 2.2 -1.3 2.4 -1.1 2.2 -1.3 1.6 -2.1 2 -1.6M11.1 548.3l-2.6 .3 -2.6 -.5 -2.5 .6 -2.2 1.4 -1.4 2.2 -1.9 1.8 -1.7 1.9M37.8 528.5l-.7 -2.5 -.6 -2.5 0 -2.6 -1 -2.4 -.6 -2.5 -.5 -2.6 -.4 -2.5M22.3 549.3l-2.4 -1.0 -2.6 -.4 -2.2 -1.2 -2 -1.7 -1.8 -1.9 -2.3 -1.2 -2.5 -.8M77.2 557.1l-2 1.7 -1.4 2.2 -1.8 1.9 -1.7 1.9 -2.3 1.2 -2.6 .3 -2.6 .4M57.0 527.8l-2.6 -.6 -2.1 -1.4 -2.4 -1.1 -2.3 -1.2 -2.6 -.1 -2.4 -1.1 -2.5 -.6M53.6 552.2l-1.5 -2.0 -1.2 -2.4 -1.5 -2.1 -2.1 -1.5 -1.9 -1.7 -1.7 -2.1 -1.3 -2.2M13.1 556.3l-2.6 .5 -2.3 1.1 -2.1 1.6 -1.7 1.9 -2.1 1.6 -1.6 2.0 -2.4 1.1M72.2 543.9l-1.3 2.2 -1.8 1.9 -1 2.4 -1.2 2.3 -.2 2.6 -.1 2.6 0 2.6M47.1 506.6l-2.3 -1.2 -2.5 -.7 -2.2 -1.4 -2.6 -.6 -2.5 .4 -2.6 .2 -2.6 .5" fill="none" stroke="#dadada" stroke-width="1.3" stroke-linecap="round" stroke-linejoin="round"/>
<path d="M90.2 508.6l-2.2 -1.4 -2.5 -.4 -2.5 .6 -2.3 1.3 -2.6 .3 -2.5 .7 -2.5 .6M64.6 545.4l2.3 1.1 2.6 .4 2.5 .8 2.3 1.2 1.8 1.8 1.5 2.2 1.8 1.8M94.9 509.7l1.7 2.0 1.9 1.8 2.2 1.3 2.1 1.6 2.6 .5 2.5 .4 2.5 .9M69.1 526.0l-2 -1.7 -2.3 -1.2 -2.4 -1.1 -1.9 -1.7 -2 -1.7 -2.3 -1.3 -2.5 -.6M87.2 566.7l-1.6 2.0 -1.6 2.1 -1.9 1.8 -2.2 1.3 -1.6 2.0 -2.3 1.3 -1.6 2.1M41.1 515.4l1.5 -2.1 2.1 -1.6 2.5 -.6 2.6 .1 2.5 -.7 2.6 .0 2.6 .4M90.2 559.7l2.5 -.7 2.5 -.6 2.5 -.8 1.8 -1.8 2.4 -1.0 2.6 -.1 2.6 .0M95.6 546.8l-2.5 .4 -2.6 .6 -2.5 .5 -2.6 .2 -2.6 .3 -2.6 -.1 -2.3 -1.2M49.3 536.5l1.1 2.4 1.9 1.7 2.3 1.3 2.5 .4 2.3 1.4 1.7 1.9 1.4 2.2M19.6 522.8l2.4 1.1 2.4 .8 2.1 1.6 2 1.6 2.6 .5 2.3 1.2 2.3 1.2M49.9 568.3l-2.2 -1.4 -2.3 -1.2 -1.9 -1.8 -2.1 -1.5 -1.9 -1.8 -2 -1.6 -2.5 -.8M44.7 522.2l0.7 2.5 1.3 2.3 2 1.6 2 1.6 2.4 1.1 2.1 1.5 2.6 .5M57.3 516.1l-1.2 -2.3 -.1 -2.6 0.2 -2.6 1.3 -2.3 2 -1.6 1.9 -1.8 1.8 -1.8M13.7 513.7l-.8 -2.5 -1.2 -2.3 -1.7 -2.0 -1 -2.4 -1.6 -2.1 -.7 -2.5 -.4 -2.5M88.7 520.5l-.9 2.4 -.2 2.6 -.3 2.6 -.1 2.6 0.4 2.5 -.3 2.6 0.6 2.5M73.9 525.6l-2.5 .8 -2.6 -.2 -2.3 -1.2 -2 -1.7 -2.1 -1.4 -2.5 -.9 -2.6 -.4M98.0 525.2l-1.7 1.9 -2.1 1.5 -2.4 1.0 -2.6 .4 -2.5 .5 -2.6 -.6 -2.2 -1.4M90.4 509.5l-2.3 1.3 -2.5 .5 -2.1 1.5 -2.4 1.0 -1.9 1.8 -1.7 2.0 -.8 2.5M32.9 533.0l1.3 2.2 0.8 2.5 1.6 2.1 1.1 2.3 1.7 2.0 1.3 2.2 1.5 2.2M36.6 519.1l2.5 -1.0 2 -1.6 1.3 -2.2 0.5 -2.6 1 -2.4 1 -2.4 1 -2.4M48.7 547.2l0.8 2.4 0.6 2.6 0.1 2.6 0.6 2.5 0.6 2.5 -.2 2.6 -.5 2.6M62.9 538.9l-2.6 -.3 -2.6 .2 -2.5 -.6 -2.6 .1 -2.4 -.8 -2.6 -.5 -2.6 .0M92.7 551.7l2.6 .2 2.5 .7 2.6 -.3 2.6 -.5 2.3 -1.3 2.4 -.8 2.6 -.1M93.9 522.1l-1.2 2.4 -.9 2.4 -1.8 1.9 -.8 2.5 -.5 2.5 0.2 2.6 0.2 2.6M90.8 522.1l2.6 -.4 2.6 -.2 2.6 .2 2.5 -.5 2.6 -.1 2.5 .6 2.6 .6M11.0 534.6l1.1 -2.4 2 -1.7 2.2 -1.3 2.4 -1.1 2.2 -1.3 1.6 -2.1 2 -1.6M39.2 529.7l-.7 -2.5 -.6 -2.5 0 -2.6 -1 -2.4 -.6 -2.5 -.5 -2.6 -.4 -2.5M78.6 558.3l-2 1.7 -1.4 2.2 -1.8 1.9 -1.7 1.9 -2.3 1.2 -2.6 .3 -2.6 .4M55.0 553.4l-1.5 -2.0 -1.2 -2.4 -1.5 -2.1 -2.1 -1.5 -1.9 -1.7 -1.7 -2.1 -1.3 -2.2M73.6 545.1l-1.3 2.2 -1.8 1.9 -1 2.4 -1.2 2.3 -.2 2.6 -.1 2.6 0 2.6" fill="none" stroke="#fafafa" stroke-width="1.0" stroke-linecap="round" stroke-linejoin="round"/>
</g>
<path d="M2.3,544.0 C2.5,540.4 3.2,534.4 4.6,530.3 C6.0,526.2 7.9,522.8 10.7,519.5 C13.5,516.2 17.7,512.5 21.5,510.3 C25.3,508.1 29.1,507.6 33.7,506.5 C38.3,505.4 44.4,504.0 49.0,503.4 C53.6,502.8 57.2,502.4 61.3,502.7 C65.4,503.0 69.8,503.5 73.6,505.0 C77.4,506.5 81.0,508.7 84.3,511.9 C87.6,515.1 91.2,519.8 93.5,524.1 C95.8,528.4 97.3,533.5 98.1,537.9 C98.9,542.2 99.1,546.9 98.1,550.2 C97.1,553.5 95.1,556.0 92.0,557.8 C88.9,559.6 84.0,559.6 79.7,560.9 C75.4,562.2 70.8,563.7 65.9,565.5 C61.1,567.3 54.9,570.5 50.6,571.6 C46.3,572.8 43.2,572.9 39.9,572.4 C36.6,571.9 32.8,570.3 30.7,568.6 C28.6,566.9 29.7,563.9 27.6,562.4 C25.6,560.9 21.7,560.4 18.4,559.4 C15.1,558.4 10.2,557.6 7.7,556.3 C5.2,555.0 4.0,553.8 3.1,551.7 C2.2,549.7 2.0,547.6 2.3,544.0Z" fill="none" stroke="#d2d2d2" stroke-width="0.8"/>
<circle cx="13.80" cy="530.00" r="2.31" fill="#2a82aa"/>
<circle cx="13.54" cy="529.74" r="1.50" fill="#47b0dd"/>
<circle cx="21.50" cy="526.40" r="2.62" fill="#2a82aa"/>
<circle cx="21.20" cy="526.10" r="1.70" fill="#58c6ef"/>
<circle cx="23.00" cy="530.30" r="1.89" fill="#2a82aa"/>
<circle cx="22.78" cy="530.08" r="1.22" fill="#47b0dd"/>
<circle cx="21.50" cy="538.70" r="2.62" fill="#2a82aa"/>
<circle cx="21.20" cy="538.40" r="1.70" fill="#58c6ef"/>
<circle cx="24.50" cy="539.50" r="1.89" fill="#2a82aa"/>
<circle cx="24.28" cy="539.28" r="1.22" fill="#47b0dd"/>
<circle cx="11.50" cy="551.00" r="2.10" fill="#2a82aa"/>
<circle cx="11.26" cy="550.76" r="1.36" fill="#47b0dd"/>
<circle cx="23.00" cy="551.00" r="1.89" fill="#2a82aa"/>
<circle cx="22.78" cy="550.78" r="1.22" fill="#47b0dd"/>
<circle cx="14.60" cy="555.50" r="1.26" fill="#2a82aa"/>
<circle cx="14.46" cy="555.36" r="0.82" fill="#47b0dd"/>
<circle cx="19.20" cy="554.80" r="1.26" fill="#2a82aa"/>
<circle cx="19.06" cy="554.66" r="0.82" fill="#47b0dd"/>
<circle cx="28.40" cy="557.00" r="1.58" fill="#2a82aa"/>
<circle cx="28.22" cy="556.82" r="1.02" fill="#47b0dd"/>
<circle cx="33.00" cy="557.80" r="1.05" fill="#2a82aa"/>
<circle cx="32.88" cy="557.68" r="0.68" fill="#47b0dd"/>
<circle cx="33.70" cy="565.50" r="1.37" fill="#2a82aa"/>
<circle cx="33.54" cy="565.34" r="0.88" fill="#47b0dd"/>
<circle cx="39.90" cy="512.60" r="1.05" fill="#2a82aa"/>
<circle cx="39.78" cy="512.48" r="0.68" fill="#47b0dd"/>
<circle cx="46.00" cy="518.00" r="1.58" fill="#2a82aa"/>
<circle cx="45.82" cy="517.82" r="1.02" fill="#47b0dd"/>
<circle cx="47.50" cy="524.10" r="2.31" fill="#2a82aa"/>
<circle cx="47.24" cy="523.84" r="1.50" fill="#47b0dd"/>
<circle cx="50.60" cy="523.40" r="3.36" fill="#2a82aa"/>
<circle cx="50.22" cy="523.02" r="2.18" fill="#58c6ef"/>
<circle cx="55.20" cy="518.80" r="1.89" fill="#2a82aa"/>
<circle cx="54.98" cy="518.58" r="1.22" fill="#47b0dd"/>
<circle cx="59.00" cy="528.00" r="1.58" fill="#2a82aa"/>
<circle cx="58.82" cy="527.82" r="1.02" fill="#47b0dd"/>
<circle cx="33.70" cy="534.90" r="1.89" fill="#2a82aa"/>
<circle cx="33.48" cy="534.68" r="1.22" fill="#47b0dd"/>
<circle cx="38.30" cy="545.60" r="1.37" fill="#2a82aa"/>
<circle cx="38.14" cy="545.44" r="0.88" fill="#47b0dd"/>
<circle cx="46.00" cy="538.70" r="1.26" fill="#2a82aa"/>
<circle cx="45.86" cy="538.56" r="0.82" fill="#47b0dd"/>
<circle cx="52.90" cy="543.30" r="1.26" fill="#2a82aa"/>
<circle cx="52.76" cy="543.16" r="0.82" fill="#47b0dd"/>
<circle cx="65.90" cy="534.90" r="1.26" fill="#2a82aa"/>
<circle cx="65.76" cy="534.76" r="0.82" fill="#47b0dd"/>
<circle cx="67.40" cy="519.50" r="2.42" fill="#2a82aa"/>
<circle cx="67.12" cy="519.22" r="1.56" fill="#47b0dd"/>
<circle cx="73.60" cy="521.80" r="2.10" fill="#2a82aa"/>
<circle cx="73.36" cy="521.56" r="1.36" fill="#47b0dd"/>
<circle cx="75.10" cy="512.60" r="2.10" fill="#2a82aa"/>
<circle cx="74.86" cy="512.36" r="1.36" fill="#47b0dd"/>
<circle cx="75.90" cy="526.40" r="1.37" fill="#2a82aa"/>
<circle cx="75.74" cy="526.24" r="0.88" fill="#47b0dd"/>
<circle cx="58.20" cy="508.80" r="1.37" fill="#2a82aa"/>
<circle cx="58.04" cy="508.64" r="0.88" fill="#47b0dd"/>
<circle cx="87.40" cy="531.00" r="1.58" fill="#2a82aa"/>
<circle cx="87.22" cy="530.82" r="1.02" fill="#47b0dd"/>
<circle cx="86.60" cy="536.40" r="1.89" fill="#2a82aa"/>
<circle cx="86.38" cy="536.18" r="1.22" fill="#47b0dd"/>
<circle cx="87.40" cy="551.00" r="0.84" fill="#2a82aa"/>
<circle cx="62.10" cy="547.90" r="1.05" fill="#2a82aa"/>
<circle cx="61.98" cy="547.78" r="0.68" fill="#47b0dd"/>
<circle cx="58.20" cy="560.10" r="0.84" fill="#2a82aa"/>
<circle cx="51.30" cy="541.00" r="1.00" fill="#e0502c"/>
<circle cx="50.60" cy="558.60" r="0.80" fill="#e0502c"/>
<defs><clipPath id="gb2"><path d="M205.0,544.0 C204.8,540.4 204.1,534.4 202.7,530.3 C201.3,526.2 199.4,522.8 196.6,519.5 C193.8,516.2 189.6,512.5 185.8,510.3 C182.0,508.1 178.2,507.6 173.6,506.5 C169.0,505.4 162.9,504.0 158.3,503.4 C153.7,502.8 150.1,502.4 146.0,502.7 C141.9,503.0 137.5,503.5 133.7,505.0 C129.9,506.5 126.3,508.7 123.0,511.9 C119.7,515.1 116.1,519.8 113.8,524.1 C111.5,528.4 110.0,533.5 109.2,537.9 C108.4,542.2 108.2,546.9 109.2,550.2 C110.2,553.5 112.2,556.0 115.3,557.8 C118.4,559.6 123.3,559.6 127.6,560.9 C132.0,562.2 136.6,563.7 141.4,565.5 C146.2,567.3 152.4,570.5 156.7,571.6 C161.0,572.8 164.1,572.9 167.4,572.4 C170.7,571.9 174.6,570.3 176.6,568.6 C178.7,566.9 177.7,563.9 179.7,562.4 C181.8,560.9 185.6,560.4 188.9,559.4 C192.2,558.4 197.1,557.6 199.6,556.3 C202.2,555.0 203.3,553.8 204.2,551.7 C205.1,549.7 205.2,547.6 205.0,544.0Z"/></clipPath></defs>
<path d="M205.0,544.0 C204.8,540.4 204.1,534.4 202.7,530.3 C201.3,526.2 199.4,522.8 196.6,519.5 C193.8,516.2 189.6,512.5 185.8,510.3 C182.0,508.1 178.2,507.6 173.6,506.5 C169.0,505.4 162.9,504.0 158.3,503.4 C153.7,502.8 150.1,502.4 146.0,502.7 C141.9,503.0 137.5,503.5 133.7,505.0 C129.9,506.5 126.3,508.7 123.0,511.9 C119.7,515.1 116.1,519.8 113.8,524.1 C111.5,528.4 110.0,533.5 109.2,537.9 C108.4,542.2 108.2,546.9 109.2,550.2 C110.2,553.5 112.2,556.0 115.3,557.8 C118.4,559.6 123.3,559.6 127.6,560.9 C132.0,562.2 136.6,563.7 141.4,565.5 C146.2,567.3 152.4,570.5 156.7,571.6 C161.0,572.8 164.1,572.9 167.4,572.4 C170.7,571.9 174.6,570.3 176.6,568.6 C178.7,566.9 177.7,563.9 179.7,562.4 C181.8,560.9 185.6,560.4 188.9,559.4 C192.2,558.4 197.1,557.6 199.6,556.3 C202.2,555.0 203.3,553.8 204.2,551.7 C205.1,549.7 205.2,547.6 205.0,544.0Z" fill="#e9e9e9"/>
<g clip-path="url(#gb2)">
<path d="M199.6,543.4 C199.3,540.3 198.8,535.1 197.5,531.6 C196.3,528.1 194.7,525.2 192.2,522.3 C189.7,519.5 186.0,516.3 182.7,514.4 C179.3,512.5 176.0,512.1 171.9,511.1 C167.9,510.2 162.5,509.0 158.5,508.5 C154.4,507.9 151.3,507.6 147.6,507.9 C144.0,508.1 140.2,508.5 136.8,509.9 C133.5,511.2 130.3,513.0 127.4,515.8 C124.5,518.5 121.3,522.6 119.3,526.3 C117.3,530.0 115.9,534.4 115.3,538.1 C114.6,541.9 114.4,545.9 115.3,548.7 C116.2,551.6 117.9,553.7 120.6,555.3 C123.3,556.8 127.6,556.8 131.5,557.9 C135.3,559.0 139.3,560.3 143.6,561.9 C147.9,563.4 153.3,566.1 157.1,567.1 C160.9,568.1 163.6,568.2 166.5,567.8 C169.4,567.4 172.8,566.0 174.6,564.5 C176.4,563.1 175.5,560.5 177.3,559.2 C179.1,557.9 182.5,557.5 185.4,556.6 C188.3,555.8 192.6,555.1 194.8,554.0 C197.1,552.9 198.1,551.8 198.9,550.0 C199.7,548.3 199.8,546.5 199.6,543.4Z" fill="#f1f1f1"/>
<path d="M176.7 548.8l0.9 -2.4 0.8 -2.5 1.8 -1.8 1 -2.5 0.2 -2.6 -.7 -2.5 0.1 -2.6M176.2 519.8l1 -2.4 0.6 -2.6 1 -2.4 0 -2.6 -.5 -2.5 -.4 -2.6 -.1 -2.6M147.4 571.9l-2.3 -1.2 -2.6 -.2 -2.4 -.9 -2.6 .0 -2.6 .2 -2.5 -.4 -2.6 -.1M111.7 520.9l2.6 -.4 2.6 -.3 2.2 -1.4 2.5 -.6 2.5 -.8 2.6 -.2 2.5 -.9M112.7 527.6l1.9 1.8 1.3 2.3 0.7 2.5 1.8 1.9 2.1 1.5 2.5 .7 2.3 1.2M119.9 528.0l2.3 -1.1 2.5 -.9 2.2 -1.4 2.3 -1.2 2.3 -1.2 2.3 -1.1 2.6 -.3M167.8 522.4l-.5 2.6 0.1 2.6 0.8 2.4 1.3 2.3 1.3 2.2 1.8 1.9 1.2 2.3M163.8 522.2l-2 -1.7 -1.5 -2.1 -1.4 -2.2 -1.1 -2.4 -1.9 -1.7 -2.2 -1.4 -2.5 -.6M174.2 546.8l0.5 2.6 1 2.4 1.5 2.1 1.1 2.3 0.7 2.5 0.2 2.6 0 2.6M132.9 559.0l-1.3 2.2 -1.6 2.1 -.9 2.4 -1.2 2.3 -.3 2.6 -1.1 2.3 -1.6 2.1M193.1 558.2l2.1 1.4 2.5 .6 2.6 .0 2.6 -.4 2.4 -1.0 2 -1.7 1.4 -2.2M125.5 513.6l2.3 1.3 2.5 .4 2.6 -.4 2.5 -.6 2.3 -1.2 2.1 -1.6 2.5 -.6M151.2 533.7l2.6 .6 2.1 1.4 2.5 .9 1.8 1.9 2.3 1.2 1.9 1.8 1.8 1.9M195.2 519.2l-2.6 .2 -2.6 -.5 -2.1 -1.5 -2.2 -1.4 -1.6 -2.0 -1.6 -2.1 -1.2 -2.3M164.2 554.2l2.5 -.8 2.3 -1.1 2 -1.6 1.4 -2.2 1.9 -1.8 1.5 -2.2 1.5 -2.1M195.5 530.2l-1.6 -2.0 -1.1 -2.4 -1.4 -2.2 -1.9 -1.7 -2.5 -.8 -2.6 .1 -2.5 -.9M137.9 524.1l1.1 -2.3 1.6 -2.0 1.9 -1.8 2.2 -1.4 1.9 -1.8 2.2 -1.4 2 -1.7M171.5 504.2l-2.1 1.5 -1.7 1.9 -2.1 1.6 -2.2 1.3 -2.1 1.6 -1.7 2.0 -1.5 2.1M181.7 525.9l-2.5 .7 -2.6 -.3 -2.6 -.3 -2.4 -.9 -2.5 -.7 -2.4 -.9 -2.6 -.1M139.0 523.9l2.3 1.2 2.5 .9 2.6 -.2 2.5 -.4 2.5 -.9 2.2 -1.3 2.4 -.9M110.2 570.3l-2.2 -1.3 -1.7 -2.0 -2.2 -1.4 -2.2 -1.4 -2 -1.7 -1.7 -1.9 -2.3 -1.2M193.5 528.3l-2.1 -1.6 -2.2 -1.3 -1.9 -1.8 -1.7 -1.9 -1.3 -2.3 -1.8 -1.9 -2.4 -.9M152.0 520.9l-2.5 -.8 -2 -1.6 -1.9 -1.8 -2 -1.7 -1.6 -2.0 -2.3 -1.3 -2.5 -.3M191.4 504.2l-1.4 -2.2 -1.7 -2.0 -1.1 -2.4 -1.2 -2.2 -.2 -2.6 -.3 -2.6 -.2 -2.6M147.4 531.1l2.5 -.7 2.4 -1.1 2.5 -.6 2.2 -1.4 2.5 -.6 2.2 -1.4 1.3 -2.3M114.5 508.1l-2.2 1.3 -2.6 .5 -2.4 .9 -2 1.7 -2.2 1.3 -2.1 1.6 -1.4 2.2M136.6 515.8l0.9 2.4 0 2.6 0.2 2.6 -.7 2.5 -1.4 2.2 -.5 2.5 -1.3 2.3M160.3 542.2l-1 2.4 -.2 2.6 -.6 2.5 -.8 2.5 -.1 2.6 -.4 2.5 0.5 2.6M138.2 535.5l-1.6 2.0 -1.6 2.1 -1 2.4 -1.2 2.2 -1.6 2.1 -2.3 1.3 -2.2 1.3M115.1 537.4l-2.3 -1.2 -1.8 -1.9 -1.5 -2.0 -1.4 -2.2 -.6 -2.6 -.9 -2.4 -.5 -2.6M174.4 514.7l-2.4 -1.0 -2 -1.7 -1.7 -2.0 -2 -1.6 -2.1 -1.5 -2 -1.7 -2.3 -1.2M162.1 546.5l-2.6 -.4 -2.6 -.4 -2.6 .3 -2.3 1.2 -2.1 1.4 -2.5 1.0 -2.2 1.4M181.0 540.7l-1.4 2.2 -.9 2.4 -1.6 2.1 -2.3 1.2 -2.6 .3 -2.6 -.1 -2.5 -.6M197.3 503.9l2.6 -.3 2.6 -.6 2.5 .1 2.6 -.4 2.5 .7 2.3 1.3 2.2 1.4M186.7 516.8l2.2 -1.4 1.5 -2.1 0.4 -2.6 0.6 -2.5 1 -2.4 0.8 -2.5 -.1 -2.6M157.0 561.6l2.1 1.5 2.5 .9 2.6 -.1 2.5 -.6 2.6 -.1 2.5 -.6 2.5 -.8M194.6 511.1l-2.5 .7 -2.6 -.4 -2.4 -.7 -2.1 -1.7 -1.3 -2.2 -1 -2.4 -.1 -2.6M142.4 536.4l-2.2 1.4 -1.6 2.0 -.9 2.4 -1.2 2.3 -1.3 2.3 -1.9 1.8 -1.5 2.1M193.2 536.1l-2.5 -.7 -2.6 .0 -2.5 .6 -2.5 .6 -2.6 .3 -2.5 -.8 -2.6 .1M160.9 545.8l-2.4 1.2 -2.4 .7 -2.6 -.4 -2.6 .1 -2.5 .8 -2.6 -.2 -2.6 -.3M187.2 534.0l-2.2 1.4 -2.6 .2 -2.6 -.2 -2.3 -1.3 -2.6 -.5 -2.2 -1.4 -2.4 -.7M163.0 531.5l-.6 2.5 -.7 2.5 0.1 2.6 0.6 2.6 0.2 2.6 0.4 2.5 -.5 2.6M128.3 569.8l2.4 -1.1 2.1 -1.5 1.7 -1.9 1.9 -1.9 2.1 -1.4 1.6 -2.1 0.6 -2.5M158.8 556.4l2.5 .3 2.6 -.4 2.6 .0 2.6 .3 2.5 .5 2.6 -.1 2.6 .5M176.0 516.7l-1.7 -2.0 -2.1 -1.4 -2.3 -1.4 -2 -1.6 -2.2 -1.3 -1.9 -1.9 -1 -2.3M203.8 536.9l-1.9 1.7 -2.3 1.2 -1.9 1.8 -2.2 1.4 -2.4 .9 -2.6 .2 -2.4 1.0M138.8 540.3l-1.2 2.4 -1.6 2.0 -1.1 2.3 0.1 2.6 -.2 2.6 -.3 2.6 0.6 2.5M184.5 569.8l-2.4 -1.0 -2.5 -.7 -2.6 .4 -2.2 1.4 -1.9 1.8 -1.6 2.0 -2.2 1.4M193.0 520.6l-2.4 1.0 -2.4 1.1 -2.4 1.0 -2.5 .5 -2.6 .2 -2.5 .6 -2.6 .0M190.3 547.2l-2.6 .6 -2.3 1.1 -2.5 .7 -2.6 .1 -2.4 1.0 -2.3 1.2 -2.4 1.2M134.0 509.8l2.6 .5 2.1 1.5 2.6 .5 2.5 .4 2.2 1.3 2.5 .8 2.5 .7M135.1 560.8l2.1 1.6 2.5 .6 2.6 .0 2.4 -1.1 2 -1.6 1.2 -2.3 1.6 -2.1M116.4 543.0l1.9 1.8 2.2 1.3 2.5 .9 2.4 .8 2.4 1.0 2.5 .8 2.5 .6M123.3 565.3l2.6 .1 2.5 -.8 2.6 -.1 2.3 -1.1 2.5 -.6 2.1 -1.7 2.2 -1.2M195.5 512.9l-2 1.8 -2.4 .8 -2.6 -.1 -2.6 -.3 -2.4 -1.0 -2.4 -1.0 -1.9 -1.8M163.9 537.9l1.7 1.9 1.9 1.9 1.1 2.3 0.6 2.5 1.6 2.1 1.3 2.3 2 1.6M195.2 526.2l2.1 1.5 2.4 1.0 1.9 1.8 1.7 2.0 2.3 1.2 2 1.7 1.2 2.3M170.0 559.4l2.5 -.8 2.5 -.6 2.2 -1.3 1.6 -2.1 1.7 -1.9 1.6 -2.1 2.3 -1.2M163.0 561.4l0.7 2.5 0.5 2.5 1.2 2.3 0.4 2.6 -.5 2.5 -1.5 2.2 -1.5 2.1M119.1 560.4l-2.5 -1.0 -2.6 -.1 -2.5 .2 -2.6 .2 -2.5 .7 -2.4 1.0 -2.5 .7" fill="none" stroke="#dadada" stroke-width="1.3" stroke-linecap="round" stroke-linejoin="round"/>
<path d="M178.1 550.0l0.9 -2.4 0.8 -2.5 1.8 -1.8 1 -2.5 0.2 -2.6 -.7 -2.5 0.1 -2.6M148.8 573.1l-2.3 -1.2 -2.6 -.2 -2.4 -.9 -2.6 .0 -2.6 .2 -2.5 -.4 -2.6 -.1M114.1 528.8l1.9 1.8 1.3 2.3 0.7 2.5 1.8 1.9 2.1 1.5 2.5 .7 2.3 1.2M169.2 523.6l-.5 2.6 0.1 2.6 0.8 2.4 1.3 2.3 1.3 2.2 1.8 1.9 1.2 2.3M175.6 548.0l0.5 2.6 1 2.4 1.5 2.1 1.1 2.3 0.7 2.5 0.2 2.6 0 2.6M194.5 559.4l2.1 1.4 2.5 .6 2.6 .0 2.6 -.4 2.4 -1.0 2 -1.7 1.4 -2.2M152.6 534.9l2.6 .6 2.1 1.4 2.5 .9 1.8 1.9 2.3 1.2 1.9 1.8 1.8 1.9M165.6 555.4l2.5 -.8 2.3 -1.1 2 -1.6 1.4 -2.2 1.9 -1.8 1.5 -2.2 1.5 -2.1M139.3 525.3l1.1 -2.3 1.6 -2.0 1.9 -1.8 2.2 -1.4 1.9 -1.8 2.2 -1.4 2 -1.7M183.1 527.1l-2.5 .7 -2.6 -.3 -2.6 -.3 -2.4 -.9 -2.5 -.7 -2.4 -.9 -2.6 -.1M111.6 571.5l-2.2 -1.3 -1.7 -2.0 -2.2 -1.4 -2.2 -1.4 -2 -1.7 -1.7 -1.9 -2.3 -1.2M153.4 522.1l-2.5 -.8 -2 -1.6 -1.9 -1.8 -2 -1.7 -1.6 -2.0 -2.3 -1.3 -2.5 -.3M148.8 532.3l2.5 -.7 2.4 -1.1 2.5 -.6 2.2 -1.4 2.5 -.6 2.2 -1.4 1.3 -2.3M138.0 517.0l0.9 2.4 0 2.6 0.2 2.6 -.7 2.5 -1.4 2.2 -.5 2.5 -1.3 2.3M139.6 536.7l-1.6 2.0 -1.6 2.1 -1 2.4 -1.2 2.2 -1.6 2.1 -2.3 1.3 -2.2 1.3M175.8 515.9l-2.4 -1.0 -2 -1.7 -1.7 -2.0 -2 -1.6 -2.1 -1.5 -2 -1.7 -2.3 -1.2M182.4 541.9l-1.4 2.2 -.9 2.4 -1.6 2.1 -2.3 1.2 -2.6 .3 -2.6 -.1 -2.5 -.6M188.1 518.0l2.2 -1.4 1.5 -2.1 0.4 -2.6 0.6 -2.5 1 -2.4 0.8 -2.5 -.1 -2.6M196.0 512.3l-2.5 .7 -2.6 -.4 -2.4 -.7 -2.1 -1.7 -1.3 -2.2 -1 -2.4 -.1 -2.6M194.6 537.3l-2.5 -.7 -2.6 .0 -2.5 .6 -2.5 .6 -2.6 .3 -2.5 -.8 -2.6 .1M188.6 535.2l-2.2 1.4 -2.6 .2 -2.6 -.2 -2.3 -1.3 -2.6 -.5 -2.2 -1.4 -2.4 -.7M129.7 571.0l2.4 -1.1 2.1 -1.5 1.7 -1.9 1.9 -1.9 2.1 -1.4 1.6 -2.1 0.6 -2.5M177.4 517.9l-1.7 -2.0 -2.1 -1.4 -2.3 -1.4 -2 -1.6 -2.2 -1.3 -1.9 -1.9 -1 -2.3M140.2 541.5l-1.2 2.4 -1.6 2.0 -1.1 2.3 0.1 2.6 -.2 2.6 -.3 2.6 0.6 2.5M194.4 521.8l-2.4 1.0 -2.4 1.1 -2.4 1.0 -2.5 .5 -2.6 .2 -2.5 .6 -2.6 .0M135.4 511.0l2.6 .5 2.1 1.5 2.6 .5 2.5 .4 2.2 1.3 2.5 .8 2.5 .7M117.8 544.2l1.9 1.8 2.2 1.3 2.5 .9 2.4 .8 2.4 1.0 2.5 .8 2.5 .6M196.9 514.1l-2 1.8 -2.4 .8 -2.6 -.1 -2.6 -.3 -2.4 -1.0 -2.4 -1.0 -1.9 -1.8M196.6 527.4l2.1 1.5 2.4 1.0 1.9 1.8 1.7 2.0 2.3 1.2 2 1.7 1.2 2.3M164.4 562.6l0.7 2.5 0.5 2.5 1.2 2.3 0.4 2.6 -.5 2.5 -1.5 2.2 -1.5 2.1" fill="none" stroke="#fafafa" stroke-width="1.0" stroke-linecap="round" stroke-linejoin="round"/>
</g>
<path d="M205.0,544.0 C204.8,540.4 204.1,534.4 202.7,530.3 C201.3,526.2 199.4,522.8 196.6,519.5 C193.8,516.2 189.6,512.5 185.8,510.3 C182.0,508.1 178.2,507.6 173.6,506.5 C169.0,505.4 162.9,504.0 158.3,503.4 C153.7,502.8 150.1,502.4 146.0,502.7 C141.9,503.0 137.5,503.5 133.7,505.0 C129.9,506.5 126.3,508.7 123.0,511.9 C119.7,515.1 116.1,519.8 113.8,524.1 C111.5,528.4 110.0,533.5 109.2,537.9 C108.4,542.2 108.2,546.9 109.2,550.2 C110.2,553.5 112.2,556.0 115.3,557.8 C118.4,559.6 123.3,559.6 127.6,560.9 C132.0,562.2 136.6,563.7 141.4,565.5 C146.2,567.3 152.4,570.5 156.7,571.6 C161.0,572.8 164.1,572.9 167.4,572.4 C170.7,571.9 174.6,570.3 176.6,568.6 C178.7,566.9 177.7,563.9 179.7,562.4 C181.8,560.9 185.6,560.4 188.9,559.4 C192.2,558.4 197.1,557.6 199.6,556.3 C202.2,555.0 203.3,553.8 204.2,551.7 C205.1,549.7 205.2,547.6 205.0,544.0Z" fill="none" stroke="#d2d2d2" stroke-width="0.8"/>
<circle cx="132.10" cy="512.70" r="2.10" fill="#2a82aa"/>
<circle cx="131.86" cy="512.46" r="1.36" fill="#47b0dd"/>
<circle cx="147.40" cy="509.10" r="1.37" fill="#2a82aa"/>
<circle cx="147.24" cy="508.94" r="0.88" fill="#47b0dd"/>
<circle cx="151.40" cy="507.80" r="1.05" fill="#2a82aa"/>
<circle cx="151.28" cy="507.68" r="0.68" fill="#47b0dd"/>
<circle cx="166.60" cy="512.70" r="1.05" fill="#2a82aa"/>
<circle cx="166.48" cy="512.58" r="0.68" fill="#47b0dd"/>
<circle cx="133.70" cy="522.30" r="2.31" fill="#2a82aa"/>
<circle cx="133.44" cy="522.04" r="1.50" fill="#47b0dd"/>
<circle cx="131.30" cy="526.30" r="1.37" fill="#2a82aa"/>
<circle cx="131.14" cy="526.14" r="0.88" fill="#47b0dd"/>
<circle cx="139.30" cy="519.90" r="2.31" fill="#2a82aa"/>
<circle cx="139.04" cy="519.64" r="1.50" fill="#47b0dd"/>
<circle cx="151.40" cy="518.30" r="1.37" fill="#2a82aa"/>
<circle cx="151.24" cy="518.14" r="0.88" fill="#47b0dd"/>
<circle cx="153.00" cy="520.70" r="1.37" fill="#2a82aa"/>
<circle cx="152.84" cy="520.54" r="0.88" fill="#47b0dd"/>
<circle cx="161.00" cy="518.30" r="1.89" fill="#2a82aa"/>
<circle cx="160.78" cy="518.08" r="1.22" fill="#47b0dd"/>
<circle cx="157.00" cy="523.90" r="2.94" fill="#2a82aa"/>
<circle cx="156.66" cy="523.56" r="1.90" fill="#58c6ef"/>
<circle cx="160.70" cy="525.20" r="2.10" fill="#2a82aa"/>
<circle cx="160.46" cy="524.96" r="1.36" fill="#47b0dd"/>
<circle cx="147.90" cy="528.20" r="2.31" fill="#2a82aa"/>
<circle cx="147.64" cy="527.94" r="1.50" fill="#47b0dd"/>
<circle cx="120.10" cy="530.70" r="1.26" fill="#2a82aa"/>
<circle cx="119.96" cy="530.56" r="0.82" fill="#47b0dd"/>
<circle cx="120.60" cy="537.10" r="2.10" fill="#2a82aa"/>
<circle cx="120.36" cy="536.86" r="1.36" fill="#47b0dd"/>
<circle cx="141.80" cy="534.30" r="1.05" fill="#2a82aa"/>
<circle cx="141.68" cy="534.18" r="0.68" fill="#47b0dd"/>
<circle cx="173.90" cy="535.10" r="2.10" fill="#2a82aa"/>
<circle cx="173.66" cy="534.86" r="1.36" fill="#47b0dd"/>
<circle cx="161.80" cy="539.20" r="1.58" fill="#2a82aa"/>
<circle cx="161.62" cy="539.02" r="1.02" fill="#47b0dd"/>
<circle cx="184.80" cy="525.50" r="1.89" fill="#2a82aa"/>
<circle cx="184.58" cy="525.28" r="1.22" fill="#47b0dd"/>
<circle cx="184.30" cy="529.50" r="2.10" fill="#2a82aa"/>
<circle cx="184.06" cy="529.26" r="1.36" fill="#47b0dd"/>
<circle cx="193.10" cy="530.30" r="2.31" fill="#2a82aa"/>
<circle cx="192.84" cy="530.04" r="1.50" fill="#47b0dd"/>
<circle cx="182.70" cy="539.20" r="1.58" fill="#2a82aa"/>
<circle cx="182.52" cy="539.02" r="1.02" fill="#47b0dd"/>
<circle cx="185.90" cy="538.40" r="2.10" fill="#2a82aa"/>
<circle cx="185.66" cy="538.16" r="1.36" fill="#47b0dd"/>
<circle cx="172.30" cy="541.60" r="0.84" fill="#2a82aa"/>
<circle cx="168.30" cy="546.10" r="1.58" fill="#2a82aa"/>
<circle cx="168.12" cy="545.92" r="1.02" fill="#47b0dd"/>
<circle cx="153.80" cy="543.20" r="0.84" fill="#2a82aa"/>
<circle cx="145.80" cy="548.00" r="1.26" fill="#2a82aa"/>
<circle cx="145.66" cy="547.86" r="0.82" fill="#47b0dd"/>
<circle cx="120.90" cy="543.20" r="0.84" fill="#2a82aa"/>
<circle cx="120.10" cy="551.20" r="1.05" fill="#2a82aa"/>
<circle cx="119.98" cy="551.08" r="0.68" fill="#47b0dd"/>
<circle cx="183.50" cy="551.20" r="1.58" fill="#2a82aa"/>
<circle cx="183.32" cy="551.02" r="1.02" fill="#47b0dd"/>
<circle cx="194.80" cy="551.20" r="1.89" fill="#2a82aa"/>
<circle cx="194.58" cy="550.98" r="1.22" fill="#47b0dd"/>
<circle cx="186.70" cy="555.70" r="1.58" fill="#2a82aa"/>
<circle cx="186.52" cy="555.52" r="1.02" fill="#47b0dd"/>
<circle cx="193.10" cy="555.70" r="1.05" fill="#2a82aa"/>
<circle cx="192.98" cy="555.58" r="0.68" fill="#47b0dd"/>
<circle cx="179.50" cy="556.80" r="1.05" fill="#2a82aa"/>
<circle cx="179.38" cy="556.68" r="0.68" fill="#47b0dd"/>
<circle cx="173.90" cy="558.40" r="1.05" fill="#2a82aa"/>
<circle cx="173.78" cy="558.28" r="0.68" fill="#47b0dd"/>
<circle cx="148.20" cy="560.00" r="0.84" fill="#2a82aa"/>
<circle cx="173.10" cy="565.30" r="1.58" fill="#2a82aa"/>
<circle cx="172.92" cy="565.12" r="1.02" fill="#47b0dd"/>
<circle cx="156.20" cy="541.60" r="1.20" fill="#e0502c"/>
<circle cx="156.50" cy="558.90" r="0.80" fill="#e0502c"/>
<defs><clipPath id="gb3"><path d="M103.3,562.2 C101.3,555.7 95.6,562.9 92.1,563.8 C88.6,564.7 84.9,565.8 82.5,567.8 C80.1,569.8 78.9,572.7 77.6,575.9 C76.2,579.1 75.5,583.6 74.4,587.1 C73.3,590.6 72.3,593.2 71.2,596.7 C70.1,600.2 68.7,604.1 68.0,607.9 C67.3,611.6 66.8,615.7 67.2,619.2 C67.6,622.7 69.2,625.6 70.4,628.8 C71.6,632.0 73.2,635.2 74.4,638.4 C75.6,641.6 75.7,645.4 77.6,648.1 C79.5,650.8 82.8,652.9 85.7,654.5 C88.7,656.1 92.5,657.3 95.3,657.7 C98.1,658.1 101.1,658.5 102.5,656.9 C103.9,655.3 103.3,657.1 103.6,648.1 C103.9,639.1 104.1,617.4 104.1,603.1 C104.0,588.8 105.3,568.8 103.3,562.2Z"/></clipPath></defs>
<path d="M103.3,562.2 C101.3,555.7 95.6,562.9 92.1,563.8 C88.6,564.7 84.9,565.8 82.5,567.8 C80.1,569.8 78.9,572.7 77.6,575.9 C76.2,579.1 75.5,583.6 74.4,587.1 C73.3,590.6 72.3,593.2 71.2,596.7 C70.1,600.2 68.7,604.1 68.0,607.9 C67.3,611.6 66.8,615.7 67.2,619.2 C67.6,622.7 69.2,625.6 70.4,628.8 C71.6,632.0 73.2,635.2 74.4,638.4 C75.6,641.6 75.7,645.4 77.6,648.1 C79.5,650.8 82.8,652.9 85.7,654.5 C88.7,656.1 92.5,657.3 95.3,657.7 C98.1,658.1 101.1,658.5 102.5,656.9 C103.9,655.3 103.3,657.1 103.6,648.1 C103.9,639.1 104.1,617.4 104.1,603.1 C104.0,588.8 105.3,568.8 103.3,562.2Z" fill="#e9e9e9"/>
<g clip-path="url(#gb3)">
<path d="M101.0,569.4 C99.3,563.8 94.2,570.0 91.2,570.8 C88.1,571.6 84.9,572.5 82.7,574.2 C80.6,575.9 79.6,578.4 78.4,581.2 C77.2,583.9 76.5,587.8 75.6,590.8 C74.7,593.8 73.7,596.1 72.8,599.1 C71.8,602.0 70.6,605.5 70.0,608.7 C69.4,611.9 68.9,615.4 69.3,618.4 C69.6,621.4 71.0,623.9 72.1,626.7 C73.1,629.4 74.5,632.1 75.6,634.9 C76.7,637.7 76.8,641.0 78.4,643.3 C80.1,645.6 82.9,647.4 85.5,648.8 C88.1,650.1 91.5,651.2 94.0,651.5 C96.5,651.9 99.1,652.2 100.3,650.8 C101.5,649.4 101.1,651.0 101.3,643.3 C101.5,635.5 101.8,616.9 101.7,604.6 C101.7,592.2 102.8,575.0 101.0,569.4Z" fill="#f1f1f1"/>
<path d="M102.4 635.5l2.2 -1.4 1.9 -1.7 2 -1.7 2.1 -1.5 1.9 -1.8 2.1 -1.6 2.3 -1.1M99.0 594.5l2.5 .6 2.1 1.6 2.5 .6 2.3 1.2 2.5 .5 2.6 -.1 2.6 .2M96.0 578.8l-.7 -2.6 0.3 -2.5 -.3 -2.6 -1.1 -2.4 -.2 -2.6 -1.1 -2.4 -.4 -2.5M103.9 570.0l-2.5 -.9 -2 -1.7 -2.2 -1.3 -2.4 -.9 -2.6 -.4 -2.3 -1.2 -2 -1.7M99.0 615.4l-.8 -2.5 -1 -2.4 -1.2 -2.3 -.5 -2.5 0 -2.6 -.9 -2.4 -1.5 -2.2M101.2 572.2l-2.3 -1.1 -2 -1.7 -1.3 -2.2 -2.2 -1.5 -1.5 -2.1 -2.2 -1.4 -2.1 -1.5M87.5 571.4l0.1 2.6 -.4 2.6 -.8 2.5 0.1 2.6 0.3 2.6 0.1 2.6 1.1 2.3M71.9 624.6l-2.2 -1.4 -2.2 -1.4 -1.9 -1.7 -2.4 -1.2 -2 -1.6 -1.2 -2.3 -.8 -2.5M83.9 630.4l1.3 -2.3 1 -2.3 1.1 -2.4 0.4 -2.6 -.1 -2.6 0.4 -2.5 0.3 -2.6M97.6 655.9l-1.6 -2.1 -1.7 -2.0 -1.1 -2.3 -1.9 -1.8 -2.2 -1.4 -2 -1.6 -1.8 -1.9M70.6 637.6l-1.3 -2.3 -1.1 -2.4 -1.6 -2.0 -1.7 -2.0 -1.2 -2.3 -1.9 -1.8 -2 -1.6M102.5 656.3l1 -2.4 0.9 -2.5 0.3 -2.5 -.5 -2.6 -.3 -2.6 -.8 -2.5 -.4 -2.5M74.5 631.7l1.4 2.2 0.8 2.4 0.2 2.6 0.6 2.6 -.1 2.6 0.2 2.6 0 2.6M98.6 635.7l-1.5 2.2 -1 2.3 -1.8 2.0 -2.2 1.3 -2.4 1.1 -2.6 .2 -2.5 -.5M78.1 576.0l-2.2 -1.5 -2.3 -1.1 -2.6 -.6 -2.5 .2 -2.6 -.5 -2.5 -.7 -2.2 -1.5M81.6 619.4l-2.6 .1 -2.6 -.1 -2.5 .5 -2.6 .1 -2.5 -.6 -2.6 -.6 -2 -1.6M98.4 584.2l1.8 1.8 2.3 1.3 2.6 .4 2.5 -.4 2.6 .6 2.5 .8 2.4 .8M103.3 610.4l-2.6 .4 -2.5 .3 -2.6 .3 -2.5 .9 -1.9 1.8 -1.3 2.2 -.9 2.5M83.3 632.8l0.6 -2.6 1 -2.4 0.9 -2.4 -.3 -2.6 -.9 -2.4 -.9 -2.5 -1.3 -2.3M81.4 614.8l-2.5 .9 -2.5 .5 -2.6 .0 -2.6 .5 -2.6 -.1 -2.6 -.1 -2.5 -.6M93.1 586.2l-2.5 .8 -2.6 .3 -2.5 -.5 -2.5 -1.0 -2.3 -1.1 -2 -1.7 -2 -1.7M91.7 628.6l-1.5 2.1 -2.2 1.4 -2.5 .6 -2.6 .2 -2.4 1.1 -1.7 2.0 -1.6 2.0M92.7 610.9l-1.8 1.9 -2.4 1.1 -2 1.6 -2.5 .9 -2.4 1.0 -2.2 1.4 -2 1.6M80.3 582.2l-2.6 -.3 -2.6 .1 -2.6 -.3 -2.5 .7 -2.6 -.3 -2.5 .4 -2.6 .4M87.6 625.4l2.5 -.8 2.2 -1.2 1.7 -2.0 2.2 -1.5 2.3 -1.2 2.4 -.9 2.1 -1.6M96.0 573.9l-1.6 -2.0 -.8 -2.5 0.3 -2.6 0.2 -2.6 0.4 -2.5 1 -2.4 0.2 -2.6M70.9 602.8l1.6 -2.1 2.3 -1.2 2.6 -.4 2.3 -1.0 2.5 -.7 2.6 .4 2.3 1.3M78.1 616.8l-1.9 1.7 -1.7 2.0 -2 1.7 -2.1 1.5 -2.5 .6 -2.5 1.0 -2.1 1.5M94.3 629.7l-2.4 -.9 -2.5 -.7 -2.6 -.2 -2.6 -.5 -2.5 -.2 -2.6 .3 -2.6 -.2M68.3 630.7l-2.2 1.4 -2.4 1.0 -2.5 .2 -2.6 -.3 -2.4 -1.0 -2.6 .0 -2.5 -.5M103.5 651.6l2.6 -.4 2.3 -1.2 2.4 -1.0 1.9 -1.7 1.4 -2.3 0.8 -2.4 0.9 -2.5M93.1 640.8l1.9 -1.8 1.7 -2.0 1 -2.4 0.3 -2.6 -.3 -2.6 0 -2.6 0.2 -2.6M84.4 564.1l-1.7 -2.0 -1.7 -1.9 -1.1 -2.4 -.4 -2.6 -1.1 -2.3 -.9 -2.5 -1.8 -1.8M82.0 656.8l2.4 -1.1 2.6 -.2 2.5 .6 2.5 .5 2.4 1.2 2.5 .4 2.6 -.4" fill="none" stroke="#dadada" stroke-width="1.3" stroke-linecap="round" stroke-linejoin="round"/>
<path d="M103.8 636.7l2.2 -1.4 1.9 -1.7 2 -1.7 2.1 -1.5 1.9 -1.8 2.1 -1.6 2.3 -1.1M97.4 580.0l-.7 -2.6 0.3 -2.5 -.3 -2.6 -1.1 -2.4 -.2 -2.6 -1.1 -2.4 -.4 -2.5M100.4 616.6l-.8 -2.5 -1 -2.4 -1.2 -2.3 -.5 -2.5 0 -2.6 -.9 -2.4 -1.5 -2.2M88.9 572.6l0.1 2.6 -.4 2.6 -.8 2.5 0.1 2.6 0.3 2.6 0.1 2.6 1.1 2.3M85.3 631.6l1.3 -2.3 1 -2.3 1.1 -2.4 0.4 -2.6 -.1 -2.6 0.4 -2.5 0.3 -2.6M72.0 638.8l-1.3 -2.3 -1.1 -2.4 -1.6 -2.0 -1.7 -2.0 -1.2 -2.3 -1.9 -1.8 -2 -1.6M75.9 632.9l1.4 2.2 0.8 2.4 0.2 2.6 0.6 2.6 -.1 2.6 0.2 2.6 0 2.6M79.5 577.2l-2.2 -1.5 -2.3 -1.1 -2.6 -.6 -2.5 .2 -2.6 -.5 -2.5 -.7 -2.2 -1.5M99.8 585.4l1.8 1.8 2.3 1.3 2.6 .4 2.5 -.4 2.6 .6 2.5 .8 2.4 .8M84.7 634.0l0.6 -2.6 1 -2.4 0.9 -2.4 -.3 -2.6 -.9 -2.4 -.9 -2.5 -1.3 -2.3M94.5 587.4l-2.5 .8 -2.6 .3 -2.5 -.5 -2.5 -1.0 -2.3 -1.1 -2 -1.7 -2 -1.7M94.1 612.1l-1.8 1.9 -2.4 1.1 -2 1.6 -2.5 .9 -2.4 1.0 -2.2 1.4 -2 1.6M89.0 626.6l2.5 -.8 2.2 -1.2 1.7 -2.0 2.2 -1.5 2.3 -1.2 2.4 -.9 2.1 -1.6M72.3 604.0l1.6 -2.1 2.3 -1.2 2.6 -.4 2.3 -1.0 2.5 -.7 2.6 .4 2.3 1.3M95.7 630.9l-2.4 -.9 -2.5 -.7 -2.6 -.2 -2.6 -.5 -2.5 -.2 -2.6 .3 -2.6 -.2M104.9 652.8l2.6 -.4 2.3 -1.2 2.4 -1.0 1.9 -1.7 1.4 -2.3 0.8 -2.4 0.9 -2.5M85.8 565.3l-1.7 -2.0 -1.7 -1.9 -1.1 -2.4 -.4 -2.6 -1.1 -2.3 -.9 -2.5 -1.8 -1.8" fill="none" stroke="#fafafa" stroke-width="1.0" stroke-linecap="round" stroke-linejoin="round"/>
</g>
<path d="M103.3,562.2 C101.3,555.7 95.6,562.9 92.1,563.8 C88.6,564.7 84.9,565.8 82.5,567.8 C80.1,569.8 78.9,572.7 77.6,575.9 C76.2,579.1 75.5,583.6 74.4,587.1 C73.3,590.6 72.3,593.2 71.2,596.7 C70.1,600.2 68.7,604.1 68.0,607.9 C67.3,611.6 66.8,615.7 67.2,619.2 C67.6,622.7 69.2,625.6 70.4,628.8 C71.6,632.0 73.2,635.2 74.4,638.4 C75.6,641.6 75.7,645.4 77.6,648.1 C79.5,650.8 82.8,652.9 85.7,654.5 C88.7,656.1 92.5,657.3 95.3,657.7 C98.1,658.1 101.1,658.5 102.5,656.9 C103.9,655.3 103.3,657.1 103.6,648.1 C103.9,639.1 104.1,617.4 104.1,603.1 C104.0,588.8 105.3,568.8 103.3,562.2Z" fill="none" stroke="#d2d2d2" stroke-width="0.8"/>
<defs><clipPath id="gb4"><path d="M106.5,562.2 C108.5,555.7 114.2,562.9 117.7,563.8 C121.2,564.7 124.9,565.8 127.3,567.8 C129.7,569.8 130.9,572.7 132.2,575.9 C133.6,579.1 134.3,583.6 135.4,587.1 C136.5,590.6 137.5,593.2 138.6,596.7 C139.7,600.2 141.1,604.1 141.8,607.9 C142.5,611.6 143.0,615.7 142.6,619.2 C142.2,622.7 140.6,625.6 139.4,628.8 C138.2,632.0 136.6,635.2 135.4,638.4 C134.2,641.6 134.1,645.4 132.2,648.1 C130.3,650.8 127.1,652.9 124.1,654.5 C121.2,656.1 117.3,657.3 114.5,657.7 C111.7,658.1 108.7,658.5 107.3,656.9 C105.9,655.3 106.5,657.1 106.2,648.1 C105.9,639.1 105.7,617.4 105.7,603.1 C105.8,588.8 104.5,568.8 106.5,562.2Z"/></clipPath></defs>
<path d="M106.5,562.2 C108.5,555.7 114.2,562.9 117.7,563.8 C121.2,564.7 124.9,565.8 127.3,567.8 C129.7,569.8 130.9,572.7 132.2,575.9 C133.6,579.1 134.3,583.6 135.4,587.1 C136.5,590.6 137.5,593.2 138.6,596.7 C139.7,600.2 141.1,604.1 141.8,607.9 C142.5,611.6 143.0,615.7 142.6,619.2 C142.2,622.7 140.6,625.6 139.4,628.8 C138.2,632.0 136.6,635.2 135.4,638.4 C134.2,641.6 134.1,645.4 132.2,648.1 C130.3,650.8 127.1,652.9 124.1,654.5 C121.2,656.1 117.3,657.3 114.5,657.7 C111.7,658.1 108.7,658.5 107.3,656.9 C105.9,655.3 106.5,657.1 106.2,648.1 C105.9,639.1 105.7,617.4 105.7,603.1 C105.8,588.8 104.5,568.8 106.5,562.2Z" fill="#e9e9e9"/>
<g clip-path="url(#gb4)">
<path d="M108.8,569.4 C110.5,563.8 115.6,570.0 118.6,570.8 C121.7,571.6 124.9,572.5 127.1,574.2 C129.2,575.9 130.2,578.4 131.4,581.2 C132.6,583.9 133.3,587.8 134.2,590.8 C135.1,593.8 136.1,596.1 137.0,599.1 C138.0,602.0 139.2,605.5 139.8,608.7 C140.4,611.9 140.9,615.4 140.5,618.4 C140.2,621.4 138.8,623.9 137.7,626.7 C136.7,629.4 135.3,632.1 134.2,634.9 C133.1,637.7 133.0,641.0 131.4,643.3 C129.7,645.6 126.9,647.4 124.3,648.8 C121.7,650.1 118.3,651.2 115.8,651.5 C113.3,651.9 110.7,652.2 109.5,650.8 C108.3,649.4 108.7,651.0 108.5,643.3 C108.3,635.5 108.0,616.9 108.1,604.6 C108.1,592.2 107.0,575.0 108.8,569.4Z" fill="#f1f1f1"/>
<path d="M129.8 566.4l1.2 -2.3 0.7 -2.5 1.1 -2.3 0.7 -2.5 0.5 -2.6 0.4 -2.6 1.4 -2.2M138.6 588.8l-1.4 2.2 -1.1 2.3 -1.9 1.8 -2.4 1.1 -2.4 1.0 -2.3 1.1 -2.6 .0M127.6 652.2l-1.7 -1.9 -1.2 -2.3 -1.9 -1.8 -2.2 -1.5 -2.3 -1.0 -2.4 -1.2 -2.5 -.2M122.3 615.2l-1.6 2.1 -1.2 2.3 -1 2.4 -.9 2.4 0.1 2.6 -.1 2.6 0.9 2.5M127.1 570.1l2.6 -.2 2.3 -1.2 2.1 -1.6 2 -1.6 2.2 -1.5 1.5 -2.1 0.6 -2.5M136.8 605.7l2.4 1.0 1.9 1.8 2.2 1.4 2.5 .8 2.5 -.4 2.6 -.6 2.6 -.3M126.6 646.1l-2.3 -1.1 -2.4 -1.1 -1.7 -1.9 -1.1 -2.4 -.6 -2.5 -.3 -2.6 0.5 -2.6M131.1 621.8l-2.6 .6 -2.6 -.2 -2.5 -.6 -2.3 -1.3 -2.2 -1.2 -2.2 -1.4 -2 -1.7M131.3 583.2l-1 -2.4 -1.3 -2.3 -1.7 -1.9 -.7 -2.5 -.4 -2.6 -.8 -2.5 -.2 -2.6M133.5 596.9l1.7 1.9 1.4 2.2 1.8 1.8 2.3 1.3 1.9 1.8 1 2.4 1.1 2.3M117.3 589.2l2.5 .6 2.3 1.3 1.7 1.9 1.3 2.3 1.4 2.1 0.4 2.6 0.2 2.6M122.4 627.0l2.2 1.5 1.5 2.1 1.4 2.1 1.4 2.2 0.5 2.6 -.7 2.5 -.9 2.4M121.5 576.0l-.4 2.6 -1.2 2.3 -.6 2.5 0.1 2.6 0.3 2.6 -.2 2.6 1 2.4M110.4 653.9l2.6 .0 2.5 .7 2.6 -.1 2.6 .1 2.4 .9 2.6 .1 2.5 -.8M129.6 607.9l2.3 1.1 2.3 1.3 1.8 1.9 0.8 2.5 -.3 2.5 -.1 2.6 0.5 2.6M137.5 593.8l-2.3 -1.2 -2.4 -.9 -2.5 -.8 -2.6 .3 -2.5 -.9 -2.5 -.4 -2.6 .5M114.8 569.2l2.5 .7 2.5 .6 2.4 1.2 2.4 1.0 2.6 -.2 2.5 -.3 2.3 -1.2M111.1 575.7l-2.3 1.1 -2.6 .0 -2.6 -.1 -2.5 -1.0 -1.8 -1.8 -1.7 -1.9 -2.4 -1.2M107.5 642.7l-2.2 -1.3 -2.6 -.2 -2.4 -1.0 -2.2 -1.5 -2.1 -1.5 -1.8 -1.9 -1.7 -2.0M122.2 609.8l1.9 -1.7 1.8 -1.9 1 -2.4 1.4 -2.2 1.2 -2.3 0.5 -2.5 0.5 -2.6M111.1 640.5l2.4 -1.0 1.9 -1.8 2.3 -1.1 2.3 -1.3 2.5 -.6 2.1 -1.5 1.8 -2.0M139.3 573.3l-2.6 .2 -2.3 1.3 -2.4 .8 -2 1.8 -1.6 2.0 -1.7 1.9 -2.4 1.1M137.1 608.7l-2.4 -.9 -2.6 -.2 -2.5 .9 -2.3 1.2 -2.3 1.2 -2.1 1.4 -2.2 1.5M124.4 587.1l-2.2 -1.4 -2.1 -1.5 -1.9 -1.7 -1.8 -1.9 -1.4 -2.2 -1.6 -2.0 -2.1 -1.6M140.1 624.1l-1.5 2.1 -1.6 2.0 -2.4 1.1 -2 1.7 -2.3 1.2 -2.6 .2 -2.6 .5M131.8 577.4l-2.5 .7 -2.3 1.3 -2.5 .6 -2.6 .5 -2.6 -.2 -2.6 .1 -2.5 .5M117.7 585.5l2.5 .6 2.6 -.6 2.1 -1.5 1.4 -2.2 1.3 -2.2 1.8 -1.9 1.6 -2.1M120.6 647.4l-1.8 -1.8 -1 -2.4 -.2 -2.6 0.7 -2.5 1.4 -2.2 1.2 -2.3 1.2 -2.3M131.6 629.2l-2.1 -1.4 -2.4 -1.1 -2.6 .0 -2.6 -.4 -2.5 -.5 -2.5 -.8 -2.2 -1.4M109.4 649.1l-2 -1.5 -1.4 -2.3 -1.5 -2.1 -1.1 -2.4 -.5 -2.5 0.2 -2.6 0.1 -2.6M128.9 614.6l-2.6 .4 -2.5 .7 -2.3 1.2 -1.6 2.1 -1.5 2.1 -1.8 1.9 -2.3 1.2M126.5 599.2l-.4 2.6 -.3 2.6 0.6 2.5 -.4 2.6 0.8 2.5 0.6 2.5 0.1 2.6M117.2 616.1l2.4 .9 2.2 1.4 1.6 2.1 2.2 1.4 2.3 1.0 1.9 1.8 2.3 1.3M112.7 649.4l-1.7 -2.0 -1 -2.4 -.8 -2.5 -.2 -2.6 0.1 -2.6 0.3 -2.6 -.3 -2.5" fill="none" stroke="#dadada" stroke-width="1.3" stroke-linecap="round" stroke-linejoin="round"/>
<path d="M131.2 567.6l1.2 -2.3 0.7 -2.5 1.1 -2.3 0.7 -2.5 0.5 -2.6 0.4 -2.6 1.4 -2.2M129.0 653.4l-1.7 -1.9 -1.2 -2.3 -1.9 -1.8 -2.2 -1.5 -2.3 -1.0 -2.4 -1.2 -2.5 -.2M128.5 571.3l2.6 -.2 2.3 -1.2 2.1 -1.6 2 -1.6 2.2 -1.5 1.5 -2.1 0.6 -2.5M128.0 647.3l-2.3 -1.1 -2.4 -1.1 -1.7 -1.9 -1.1 -2.4 -.6 -2.5 -.3 -2.6 0.5 -2.6M132.7 584.4l-1 -2.4 -1.3 -2.3 -1.7 -1.9 -.7 -2.5 -.4 -2.6 -.8 -2.5 -.2 -2.6M118.7 590.4l2.5 .6 2.3 1.3 1.7 1.9 1.3 2.3 1.4 2.1 0.4 2.6 0.2 2.6M122.9 577.2l-.4 2.6 -1.2 2.3 -.6 2.5 0.1 2.6 0.3 2.6 -.2 2.6 1 2.4M131.0 609.1l2.3 1.1 2.3 1.3 1.8 1.9 0.8 2.5 -.3 2.5 -.1 2.6 0.5 2.6M116.2 570.4l2.5 .7 2.5 .6 2.4 1.2 2.4 1.0 2.6 -.2 2.5 -.3 2.3 -1.2M108.9 643.9l-2.2 -1.3 -2.6 -.2 -2.4 -1.0 -2.2 -1.5 -2.1 -1.5 -1.8 -1.9 -1.7 -2.0M112.5 641.7l2.4 -1.0 1.9 -1.8 2.3 -1.1 2.3 -1.3 2.5 -.6 2.1 -1.5 1.8 -2.0M138.5 609.9l-2.4 -.9 -2.6 -.2 -2.5 .9 -2.3 1.2 -2.3 1.2 -2.1 1.4 -2.2 1.5M141.5 625.3l-1.5 2.1 -1.6 2.0 -2.4 1.1 -2 1.7 -2.3 1.2 -2.6 .2 -2.6 .5M119.1 586.7l2.5 .6 2.6 -.6 2.1 -1.5 1.4 -2.2 1.3 -2.2 1.8 -1.9 1.6 -2.1M133.0 630.4l-2.1 -1.4 -2.4 -1.1 -2.6 .0 -2.6 -.4 -2.5 -.5 -2.5 -.8 -2.2 -1.4M130.3 615.8l-2.6 .4 -2.5 .7 -2.3 1.2 -1.6 2.1 -1.5 2.1 -1.8 1.9 -2.3 1.2M118.6 617.3l2.4 .9 2.2 1.4 1.6 2.1 2.2 1.4 2.3 1.0 1.9 1.8 2.3 1.3" fill="none" stroke="#fafafa" stroke-width="1.0" stroke-linecap="round" stroke-linejoin="round"/>
</g>
<path d="M106.5,562.2 C108.5,555.7 114.2,562.9 117.7,563.8 C121.2,564.7 124.9,565.8 127.3,567.8 C129.7,569.8 130.9,572.7 132.2,575.9 C133.6,579.1 134.3,583.6 135.4,587.1 C136.5,590.6 137.5,593.2 138.6,596.7 C139.7,600.2 141.1,604.1 141.8,607.9 C142.5,611.6 143.0,615.7 142.6,619.2 C142.2,622.7 140.6,625.6 139.4,628.8 C138.2,632.0 136.6,635.2 135.4,638.4 C134.2,641.6 134.1,645.4 132.2,648.1 C130.3,650.8 127.1,652.9 124.1,654.5 C121.2,656.1 117.3,657.3 114.5,657.7 C111.7,658.1 108.7,658.5 107.3,656.9 C105.9,655.3 106.5,657.1 106.2,648.1 C105.9,639.1 105.7,617.4 105.7,603.1 C105.8,588.8 104.5,568.8 106.5,562.2Z" fill="none" stroke="#d2d2d2" stroke-width="0.8"/>
<circle cx="100.90" cy="571.80" r="1.58" fill="#2a82aa"/>
<circle cx="100.72" cy="571.62" r="1.02" fill="#47b0dd"/>
<circle cx="101.40" cy="574.30" r="1.89" fill="#2a82aa"/>
<circle cx="101.18" cy="574.08" r="1.22" fill="#47b0dd"/>
<circle cx="108.90" cy="573.50" r="2.31" fill="#2a82aa"/>
<circle cx="108.64" cy="573.24" r="1.50" fill="#47b0dd"/>
<circle cx="120.20" cy="574.30" r="1.26" fill="#2a82aa"/>
<circle cx="120.06" cy="574.16" r="0.82" fill="#47b0dd"/>
<circle cx="90.50" cy="575.00" r="1.05" fill="#2a82aa"/>
<circle cx="90.38" cy="574.88" r="0.68" fill="#47b0dd"/>
<circle cx="92.90" cy="580.70" r="2.42" fill="#2a82aa"/>
<circle cx="92.62" cy="580.42" r="1.56" fill="#47b0dd"/>
<circle cx="101.70" cy="582.00" r="2.10" fill="#2a82aa"/>
<circle cx="101.46" cy="581.76" r="1.36" fill="#47b0dd"/>
<circle cx="108.90" cy="580.70" r="1.89" fill="#2a82aa"/>
<circle cx="108.68" cy="580.48" r="1.22" fill="#47b0dd"/>
<circle cx="117.00" cy="582.60" r="2.10" fill="#2a82aa"/>
<circle cx="116.76" cy="582.36" r="1.36" fill="#47b0dd"/>
<circle cx="125.80" cy="582.60" r="2.31" fill="#2a82aa"/>
<circle cx="125.54" cy="582.34" r="1.50" fill="#47b0dd"/>
<circle cx="130.60" cy="580.70" r="1.58" fill="#2a82aa"/>
<circle cx="130.42" cy="580.52" r="1.02" fill="#47b0dd"/>
<circle cx="132.20" cy="584.70" r="1.58" fill="#2a82aa"/>
<circle cx="132.02" cy="584.52" r="1.02" fill="#47b0dd"/>
<circle cx="80.90" cy="579.10" r="1.26" fill="#2a82aa"/>
<circle cx="80.76" cy="578.96" r="0.82" fill="#47b0dd"/>
<circle cx="79.30" cy="584.70" r="1.58" fill="#2a82aa"/>
<circle cx="79.12" cy="584.52" r="1.02" fill="#47b0dd"/>
<circle cx="84.10" cy="583.10" r="1.58" fill="#2a82aa"/>
<circle cx="83.92" cy="582.92" r="1.02" fill="#47b0dd"/>
<circle cx="81.70" cy="584.70" r="1.37" fill="#2a82aa"/>
<circle cx="81.54" cy="584.54" r="0.88" fill="#47b0dd"/>
<circle cx="88.10" cy="587.90" r="1.58" fill="#2a82aa"/>
<circle cx="87.92" cy="587.72" r="1.02" fill="#47b0dd"/>
<circle cx="76.80" cy="594.30" r="1.05" fill="#2a82aa"/>
<circle cx="76.68" cy="594.18" r="0.68" fill="#47b0dd"/>
<circle cx="82.50" cy="593.50" r="1.37" fill="#2a82aa"/>
<circle cx="82.34" cy="593.34" r="0.88" fill="#47b0dd"/>
<circle cx="84.10" cy="598.30" r="1.05" fill="#2a82aa"/>
<circle cx="83.98" cy="598.18" r="0.68" fill="#47b0dd"/>
<circle cx="100.90" cy="599.10" r="1.37" fill="#2a82aa"/>
<circle cx="100.74" cy="598.94" r="0.88" fill="#47b0dd"/>
<circle cx="97.70" cy="595.90" r="0.84" fill="#2a82aa"/>
<circle cx="112.10" cy="595.10" r="0.84" fill="#2a82aa"/>
<circle cx="129.00" cy="593.50" r="1.58" fill="#2a82aa"/>
<circle cx="128.82" cy="593.32" r="1.02" fill="#47b0dd"/>
<circle cx="132.20" cy="593.50" r="1.89" fill="#2a82aa"/>
<circle cx="131.98" cy="593.28" r="1.22" fill="#47b0dd"/>
<circle cx="125.80" cy="598.30" r="1.26" fill="#2a82aa"/>
<circle cx="125.66" cy="598.16" r="0.82" fill="#47b0dd"/>
<circle cx="108.90" cy="602.30" r="0.95" fill="#2a82aa"/>
<circle cx="108.10" cy="607.10" r="2.62" fill="#2a82aa"/>
<circle cx="107.80" cy="606.80" r="1.70" fill="#58c6ef"/>
<circle cx="100.90" cy="610.30" r="3.15" fill="#2a82aa"/>
<circle cx="100.54" cy="609.94" r="2.04" fill="#58c6ef"/>
<circle cx="98.50" cy="611.20" r="1.58" fill="#2a82aa"/>
<circle cx="98.32" cy="611.02" r="1.02" fill="#47b0dd"/>
<circle cx="127.40" cy="606.70" r="1.58" fill="#2a82aa"/>
<circle cx="127.22" cy="606.52" r="1.02" fill="#47b0dd"/>
<circle cx="133.80" cy="605.50" r="1.37" fill="#2a82aa"/>
<circle cx="133.64" cy="605.34" r="0.88" fill="#47b0dd"/>
<circle cx="77.60" cy="607.10" r="0.95" fill="#2a82aa"/>
<circle cx="80.10" cy="614.40" r="1.37" fill="#2a82aa"/>
<circle cx="79.94" cy="614.24" r="0.88" fill="#47b0dd"/>
<circle cx="74.40" cy="613.60" r="0.95" fill="#2a82aa"/>
<circle cx="100.10" cy="616.00" r="1.05" fill="#2a82aa"/>
<circle cx="99.98" cy="615.88" r="0.68" fill="#47b0dd"/>
<circle cx="127.40" cy="616.00" r="1.37" fill="#2a82aa"/>
<circle cx="127.24" cy="615.84" r="0.88" fill="#47b0dd"/>
<circle cx="137.00" cy="619.20" r="1.89" fill="#2a82aa"/>
<circle cx="136.78" cy="618.98" r="1.22" fill="#47b0dd"/>
<circle cx="72.80" cy="620.80" r="0.84" fill="#2a82aa"/>
<circle cx="108.10" cy="619.20" r="1.37" fill="#2a82aa"/>
<circle cx="107.94" cy="619.04" r="0.88" fill="#47b0dd"/>
<circle cx="108.10" cy="625.60" r="1.05" fill="#2a82aa"/>
<circle cx="107.98" cy="625.48" r="0.68" fill="#47b0dd"/>
<circle cx="101.70" cy="625.60" r="0.84" fill="#2a82aa"/>
<circle cx="80.10" cy="627.20" r="1.89" fill="#2a82aa"/>
<circle cx="79.88" cy="626.98" r="1.22" fill="#47b0dd"/>
<circle cx="130.60" cy="627.50" r="1.89" fill="#2a82aa"/>
<circle cx="130.38" cy="627.28" r="1.22" fill="#47b0dd"/>
<circle cx="91.30" cy="635.20" r="1.37" fill="#2a82aa"/>
<circle cx="91.14" cy="635.04" r="0.88" fill="#47b0dd"/>
<circle cx="100.10" cy="633.10" r="1.05" fill="#2a82aa"/>
<circle cx="99.98" cy="632.98" r="0.68" fill="#47b0dd"/>
<circle cx="109.70" cy="633.10" r="1.89" fill="#2a82aa"/>
<circle cx="109.48" cy="632.88" r="1.22" fill="#47b0dd"/>
<circle cx="119.00" cy="634.70" r="1.89" fill="#2a82aa"/>
<circle cx="118.78" cy="634.48" r="1.22" fill="#47b0dd"/>
<circle cx="129.80" cy="635.20" r="1.37" fill="#2a82aa"/>
<circle cx="129.64" cy="635.04" r="0.88" fill="#47b0dd"/>
<circle cx="79.30" cy="636.00" r="1.05" fill="#2a82aa"/>
<circle cx="79.18" cy="635.88" r="0.68" fill="#47b0dd"/>
<circle cx="85.70" cy="646.40" r="1.37" fill="#2a82aa"/>
<circle cx="85.54" cy="646.24" r="0.88" fill="#47b0dd"/>
<circle cx="94.50" cy="648.90" r="1.05" fill="#2a82aa"/>
<circle cx="94.38" cy="648.78" r="0.68" fill="#47b0dd"/>
<circle cx="100.90" cy="646.80" r="0.95" fill="#2a82aa"/>
<circle cx="111.30" cy="646.40" r="0.95" fill="#2a82aa"/>
<circle cx="117.80" cy="647.20" r="1.05" fill="#2a82aa"/>
<circle cx="117.68" cy="647.08" r="0.68" fill="#47b0dd"/>
<circle cx="125.00" cy="646.40" r="1.58" fill="#2a82aa"/>
<circle cx="124.82" cy="646.22" r="1.02" fill="#47b0dd"/>
<circle cx="92.10" cy="611.20" r="0.80" fill="#e0502c"/>
<circle cx="111.30" cy="611.50" r="0.50" fill="#e0502c"/>
<circle cx="129.80" cy="611.50" r="1.30" fill="#e0502c"/>
<circle cx="164.60" cy="607.20" r="0.80" fill="#3f8db0"/>
<text x="169.4" y="609.9" font-size="8.8" fill="#222" textLength="36" lengthAdjust="spacingAndGlyphs"><tspan font-style="italic">r</tspan>=-0.21</text>
<circle cx="164.60" cy="615.50" r="1.30" fill="#389fc8"/>
<text x="169.4" y="618.2" font-size="8.8" fill="#222" textLength="36.2" lengthAdjust="spacingAndGlyphs"><tspan font-style="italic">r</tspan>=-0.34</text>
<circle cx="164.60" cy="624.00" r="1.80" fill="#4dbbe3"/>
<text x="169.4" y="626.7" font-size="8.8" fill="#222" textLength="36.2" lengthAdjust="spacingAndGlyphs"><tspan font-style="italic">r</tspan>=-0.46</text>
<circle cx="164.60" cy="632.40" r="2.40" fill="#6ad3f5"/>
<text x="169.4" y="635.1" font-size="8.8" fill="#222" textLength="29.4" lengthAdjust="spacingAndGlyphs"><tspan font-style="italic">r</tspan>=-0.6</text>
<text x="277.90" y="502.40" font-size="15.2" fill="#111" font-weight="bold" textLength="14.8" lengthAdjust="spacingAndGlyphs">J)</text>
<text x="381.00" y="502.20" font-size="9" fill="#222" text-anchor="middle" textLength="59" lengthAdjust="spacingAndGlyphs" stroke="#222" stroke-width="0.16">Hidden Layers</text>
<text x="276.60" y="544.60" font-size="9" fill="#222" textLength="28" lengthAdjust="spacingAndGlyphs" stroke="#222" stroke-width="0.16">Inputs</text>
<line x1="294.0" y1="564.7" x2="335.0" y2="612.6" stroke="#222" stroke-width="0.6"/>
<path d="M337.2,615.1 L334.0,613.4 L336.0,611.7 Z" fill="#222"/>
<line x1="293.9" y1="595.9" x2="335.2" y2="545.8" stroke="#222" stroke-width="0.6"/>
<path d="M337.3,543.3 L336.2,546.7 L334.2,545.0 Z" fill="#222"/>
<line x1="295.90" y1="556.40" x2="306.50" y2="552.40" stroke="#222" stroke-width="0.6"/>
<line x1="324.8" y1="544.0" x2="332.0" y2="541.3" stroke="#222" stroke-width="0.6"/>
<path d="M335.1,540.2 L332.4,542.6 L331.5,540.1 Z" fill="#222"/>
<line x1="295.90" y1="604.30" x2="303.00" y2="606.40" stroke="#222" stroke-width="0.6"/>
<line x1="328.8" y1="615.8" x2="332.0" y2="617.0" stroke="#222" stroke-width="0.6"/>
<path d="M335.1,618.2 L331.5,618.2 L332.4,615.8 Z" fill="#222"/>
<text x="313.9" y="551.6" font-size="9" fill="#333" text-anchor="middle" font-style="italic" style="font-family:'Liberation Serif',serif">w<tspan font-size="6" dy="1.4" font-style="normal">11</tspan></text>
<text x="314" y="612" font-size="9" fill="#333" text-anchor="middle" font-style="italic" style="font-family:'Liberation Serif',serif">w<tspan font-size="6" dy="1.4" font-style="normal">N256</tspan></text>
<line x1="347.2" y1="532.8" x2="358.1" y2="522.6" stroke="#222" stroke-width="0.6"/>
<path d="M360.5,520.3 L359.0,523.6 L357.2,521.6 Z" fill="#222"/>
<line x1="343.6" y1="544.7" x2="363.3" y2="624.6" stroke="#222" stroke-width="0.6"/>
<path d="M364.1,627.9 L362.0,625.0 L364.6,624.3 Z" fill="#222"/>
<line x1="343.5" y1="613.6" x2="363.5" y2="525.7" stroke="#222" stroke-width="0.6"/>
<path d="M364.2,522.4 L364.7,526.0 L362.2,525.4 Z" fill="#222"/>
<line x1="348.1" y1="624.3" x2="356.7" y2="629.5" stroke="#222" stroke-width="0.6"/>
<path d="M359.6,631.2 L356.1,630.6 L357.4,628.3 Z" fill="#222"/>
<line x1="373.0" y1="515.4" x2="380.0" y2="515.4" stroke="#222" stroke-width="0.6"/>
<path d="M383.4,515.4 L380.0,516.7 L380.0,514.1 Z" fill="#222"/>
<line x1="367.3" y1="522.4" x2="388.5" y2="624.6" stroke="#222" stroke-width="0.6"/>
<path d="M389.1,627.9 L387.2,624.8 L389.7,624.3 Z" fill="#222"/>
<line x1="367.3" y1="627.9" x2="388.5" y2="525.7" stroke="#222" stroke-width="0.6"/>
<path d="M389.1,522.4 L389.7,526.0 L387.2,525.5 Z" fill="#222"/>
<line x1="373.0" y1="634.9" x2="380.0" y2="634.9" stroke="#222" stroke-width="0.6"/>
<path d="M383.4,634.9 L380.0,636.2 L380.0,633.6 Z" fill="#222"/>
<line x1="395.7" y1="520.5" x2="405.5" y2="530.2" stroke="#222" stroke-width="0.6"/>
<path d="M407.9,532.6 L404.6,531.2 L406.4,529.3 Z" fill="#222"/>
<line x1="392.1" y1="522.4" x2="410.8" y2="610.3" stroke="#222" stroke-width="0.6"/>
<path d="M411.5,613.6 L409.5,610.5 L412.1,610.0 Z" fill="#222"/>
<line x1="392.2" y1="627.9" x2="410.6" y2="548.0" stroke="#222" stroke-width="0.6"/>
<path d="M411.4,544.7 L411.9,548.3 L409.3,547.7 Z" fill="#222"/>
<line x1="396.7" y1="631.0" x2="404.1" y2="626.3" stroke="#222" stroke-width="0.6"/>
<path d="M406.9,624.5 L404.8,627.4 L403.4,625.2 Z" fill="#222"/>
<circle cx="289.3" cy="559.2" r="7" fill="#f9c867" stroke="#4a4a4a" stroke-width="0.6"/>
<text x="289.0" y="561.8" font-size="9.8" fill="#333" text-anchor="middle" font-style="italic" style="font-family:'Liberation Serif',serif">x<tspan font-size="6.2" dy="1.6" font-style="normal">1</tspan></text>
<circle cx="289.3" cy="601.5" r="7" fill="#f9c867" stroke="#4a4a4a" stroke-width="0.6"/>
<text x="289.0" y="604.1" font-size="9.8" fill="#333" text-anchor="middle" font-style="italic" style="font-family:'Liberation Serif',serif">x<tspan font-size="6.2" dy="1.6" font-style="normal">N</tspan></text>
<circle cx="341.9" cy="537.7" r="7" fill="#f9c867" stroke="#4a4a4a" stroke-width="0.6"/>
<text x="341.6" y="540.3" font-size="9.8" fill="#333" text-anchor="middle" font-style="italic" style="font-family:'Liberation Serif',serif">z<tspan font-size="6.2" dy="1.6" font-style="normal">1</tspan></text>
<circle cx="341.9" cy="579.4" r="7" fill="#fff" stroke="#999" stroke-width="0.55" stroke-dasharray="0.9,0.7"/>
<text x="341.6" y="582.0" font-size="9.8" fill="#888" text-anchor="middle" font-style="italic" style="font-family:'Liberation Serif',serif">z<tspan font-size="6.2" dy="1.6" font-style="normal">j</tspan></text>
<circle cx="341.9" cy="620.6" r="7" fill="#f9c867" stroke="#4a4a4a" stroke-width="0.6"/>
<text x="341.6" y="623.2" font-size="9.8" fill="#333" text-anchor="middle" font-style="italic" style="font-family:'Liberation Serif',serif">z<tspan font-size="6.2" dy="1.6" font-style="normal">256</tspan></text>
<circle cx="365.8" cy="515.4" r="7" fill="#f9c867" stroke="#4a4a4a" stroke-width="0.6"/>
<text x="365.5" y="518.0" font-size="9.8" fill="#333" text-anchor="middle" font-style="italic" style="font-family:'Liberation Serif',serif">z<tspan font-size="6.2" dy="1.6" font-style="normal">1</tspan></text>
<circle cx="365.8" cy="554.8" r="7" fill="#fff" stroke="#999" stroke-width="0.55" stroke-dasharray="0.9,0.7"/>
<text x="365.5" y="557.4" font-size="9.8" fill="#888" text-anchor="middle" font-style="italic" style="font-family:'Liberation Serif',serif">z<tspan font-size="6.2" dy="1.6" font-style="normal">j</tspan></text>
<circle cx="365.8" cy="595.0" r="7" fill="#fff" stroke="#999" stroke-width="0.55" stroke-dasharray="0.9,0.7"/>
<text x="365.5" y="597.6" font-size="9.8" fill="#888" text-anchor="middle" font-style="italic" style="font-family:'Liberation Serif',serif">z<tspan font-size="6.2" dy="1.6" font-style="normal">k</tspan></text>
<circle cx="365.8" cy="634.9" r="7" fill="#f9c867" stroke="#4a4a4a" stroke-width="0.6"/>
<text x="365.5" y="637.5" font-size="9.8" fill="#333" text-anchor="middle" font-style="italic" style="font-family:'Liberation Serif',serif">z<tspan font-size="6.2" dy="1.6" font-style="normal">512</tspan></text>
<circle cx="390.6" cy="515.4" r="7" fill="#f9c867" stroke="#4a4a4a" stroke-width="0.6"/>
<text x="390.3" y="518.0" font-size="9.8" fill="#333" text-anchor="middle" font-style="italic" style="font-family:'Liberation Serif',serif">z<tspan font-size="6.2" dy="1.6" font-style="normal">1</tspan></text>
<circle cx="390.6" cy="554.8" r="7" fill="#fff" stroke="#999" stroke-width="0.55" stroke-dasharray="0.9,0.7"/>
<text x="390.3" y="557.4" font-size="9.8" fill="#888" text-anchor="middle" font-style="italic" style="font-family:'Liberation Serif',serif">z<tspan font-size="6.2" dy="1.6" font-style="normal">j</tspan></text>
<circle cx="390.6" cy="595.0" r="7" fill="#fff" stroke="#999" stroke-width="0.55" stroke-dasharray="0.9,0.7"/>
<text x="390.3" y="597.6" font-size="9.8" fill="#888" text-anchor="middle" font-style="italic" style="font-family:'Liberation Serif',serif">z<tspan font-size="6.2" dy="1.6" font-style="normal">k</tspan></text>
<circle cx="390.6" cy="634.9" r="7" fill="#f9c867" stroke="#4a4a4a" stroke-width="0.6"/>
<text x="390.3" y="637.5" font-size="9.8" fill="#333" text-anchor="middle" font-style="italic" style="font-family:'Liberation Serif',serif">z<tspan font-size="6.2" dy="1.6" font-style="normal">512</tspan></text>
<circle cx="413.0" cy="537.7" r="7" fill="#f9c867" stroke="#4a4a4a" stroke-width="0.6"/>
<text x="412.7" y="540.3" font-size="9.8" fill="#333" text-anchor="middle" font-style="italic" style="font-family:'Liberation Serif',serif">z<tspan font-size="6.2" dy="1.6" font-style="normal">1</tspan></text>
<circle cx="413.0" cy="579.4" r="7" fill="#fff" stroke="#999" stroke-width="0.55" stroke-dasharray="0.9,0.7"/>
<text x="412.7" y="582.0" font-size="9.8" fill="#888" text-anchor="middle" font-style="italic" style="font-family:'Liberation Serif',serif">z<tspan font-size="6.2" dy="1.6" font-style="normal">j</tspan></text>
<circle cx="413.0" cy="620.6" r="7" fill="#f9c867" stroke="#4a4a4a" stroke-width="0.6"/>
<text x="412.7" y="623.2" font-size="9.8" fill="#333" text-anchor="middle" font-style="italic" style="font-family:'Liberation Serif',serif">z<tspan font-size="6.2" dy="1.6" font-style="normal">256</tspan></text>
<path d="M289.3 575.7h0M289.3 580.0h0M289.3 584.4h0M341.9 554.8h0M341.9 559.6h0M341.9 564.4h0M341.9 597.6h0M341.9 602.2h0M341.9 606.8h0M413.0 554.8h0M413.0 559.6h0M413.0 564.4h0M413.0 597.6h0M413.0 602.2h0M413.0 606.8h0M365.8 530.7h0M365.8 535.3h0M365.8 540.0h0M365.8 571.3h0M365.8 575.6h0M365.8 580.0h0M365.8 610.7h0M365.8 615.0h0M365.8 619.3h0M390.6 530.7h0M390.6 535.3h0M390.6 540.0h0M390.6 571.3h0M390.6 575.6h0M390.6 580.0h0M390.6 610.7h0M390.6 615.0h0M390.6 619.3h0" stroke="#111" stroke-width="2.20" stroke-linecap="round" fill="none"/>
<line x1="419.00" y1="541.70" x2="430.50" y2="547.60" stroke="#222" stroke-width="0.6"/>
<line x1="449.5" y1="565.0" x2="463.0" y2="574.7" stroke="#222" stroke-width="0.6"/>
<path d="M465.7,576.6 L462.2,575.7 L463.8,573.6 Z" fill="#222"/>
<line x1="420.00" y1="579.40" x2="429.50" y2="580.00" stroke="#222" stroke-width="0.6"/>
<line x1="453.9" y1="580.3" x2="461.0" y2="580.5" stroke="#222" stroke-width="0.6"/>
<path d="M464.4,580.6 L461.0,581.8 L461.1,579.2 Z" fill="#222"/>
<line x1="419.00" y1="616.60" x2="434.60" y2="607.90" stroke="#222" stroke-width="0.6"/>
<line x1="453.8" y1="591.9" x2="462.7" y2="586.2" stroke="#222" stroke-width="0.6"/>
<path d="M465.5,584.4 L463.4,587.4 L461.9,585.1 Z" fill="#222"/>
<text x="437.7" y="555.4" font-size="9" fill="#333" text-anchor="middle" font-style="italic" style="font-family:'Liberation Serif',serif">u<tspan font-size="6" dy="1.4" font-style="normal">11</tspan></text>
<text x="437.7" y="582.6" font-size="9" fill="#333" text-anchor="middle" font-style="italic" style="font-family:'Liberation Serif',serif">u<tspan font-size="6" dy="1.4" font-style="normal">ij</tspan></text>
<text x="443.8" y="604" font-size="9" fill="#333" text-anchor="middle" font-style="italic" style="font-family:'Liberation Serif',serif">u<tspan font-size="6" dy="1.4" font-style="normal">1256</tspan></text>
<circle cx="471.4" cy="580.7" r="6.7" fill="#fff" stroke="#f5a05a" stroke-width="0.8"/>
<text x="471.40" y="583.90" font-size="9" fill="#f5a05a" text-anchor="middle" style="font-family:'Liberation Serif',serif" stroke="#f5a05a" stroke-width="0.16">Σ</text>
<text x="493.60" y="578.20" font-size="7" fill="#222" text-anchor="middle" textLength="28.5" lengthAdjust="spacingAndGlyphs" stroke="#222" stroke-width="0.16">Activation</text>
<text x="494.40" y="586.00" font-size="7" fill="#222" text-anchor="middle" textLength="24" lengthAdjust="spacingAndGlyphs" stroke="#222" stroke-width="0.16">function</text>
<line x1="505.5" y1="580.0" x2="512.7" y2="580.0" stroke="#222" stroke-width="0.6"/>
<path d="M515.8,580.0 L512.7,581.2 L512.7,578.8 Z" fill="#222"/>
<circle cx="522.5" cy="579.9" r="6.8" fill="#f4a259" stroke="#333" stroke-width="0.8"/>
<text x="522.2" y="582.5" font-size="8.5" fill="#333" text-anchor="middle" font-style="italic" style="font-family:'Liberation Serif',serif">y<tspan font-size="5.5" dy="1.5" font-style="normal">1</tspan></text>
<text x="523.70" y="568.80" font-size="10" fill="#222" text-anchor="middle" textLength="28.5" lengthAdjust="spacingAndGlyphs" stroke="#222" stroke-width="0.16">Output</text>
<text x="494.00" y="554.40" font-size="6.6" fill="#f5a05a" text-anchor="middle" textLength="31.6" lengthAdjust="spacingAndGlyphs" stroke="#f5a05a" stroke-width="0.16">Regression</text>
<text x="494.00" y="608.80" font-size="6.6" fill="#f5a05a" text-anchor="middle" textLength="37.8" lengthAdjust="spacingAndGlyphs" stroke="#f5a05a" stroke-width="0.16">Classification</text>
<line x1="488.80" y1="570.10" x2="499.40" y2="558.80" stroke="#f5a05a" stroke-width="1.1"/>
<path d="M489.2,602.2 C494.5,602.2 493.5,590.5 499,590.5" fill="none" stroke="#f5a05a" stroke-width="1.1"/>
<text x="545.70" y="502.40" font-size="15.2" fill="#111" font-weight="bold" textLength="17.2" lengthAdjust="spacingAndGlyphs">K)</text>
<path d="M569.5,594.2 Q624.0,560.9 678.5,522.8 L678.5,535.2 Q624.0,568.1 569.5,605.8 Z" fill="#fadbe3"/>
<line x1="569.50" y1="600.00" x2="678.50" y2="529.00" stroke="#e0405f" stroke-width="0.85" stroke-dasharray="1.6,1.3"/>
<path d="M654.0 507.7h0M655.4 512.3h0M664.5 512.3h0M668.8 518.1h0M642.2 522.2h0M644.9 523.2h0M663.0 523.2h0M665.8 527.1h0M658.5 527.1h0M639.1 527.3h0M637.6 535.9h0M634.9 539.9h0M635.8 541.3h0M638.5 544.6h0M639.4 546.8h0M633.1 545.8h0M636.7 550.8h0M652.1 539.5h0M646.7 544.0h0M648.5 545.0h0M649.4 547.1h0M660.3 536.8h0M664.5 538.6h0M668.5 536.8h0M658.5 543.1h0M659.4 546.8h0M663.0 543.1h0M667.0 544.0h0M611.3 544.0h0M616.7 542.8h0M581.3 558.0h0M600.4 552.2h0M600.4 555.8h0M603.1 559.5h0M618.2 552.6h0M621.3 555.8h0M612.2 557.6h0M614.0 558.6h0M630.4 559.5h0M637.6 557.6h0M638.5 558.0h0M642.2 552.6h0M644.9 554.0h0M645.8 555.8h0M647.6 558.6h0M650.3 560.4h0M657.6 553.1h0M658.5 555.8h0M659.4 562.7h0M643.4 563.5h0M627.6 562.7h0M597.7 564.0h0M581.3 572.5h0M582.8 572.5h0M600.4 571.3h0M600.8 574.9h0M606.8 573.1h0M612.2 567.6h0M612.6 570.4h0M611.3 575.8h0M614.0 574.9h0M617.6 565.8h0M618.6 569.4h0M617.6 577.3h0M616.7 579.1h0M623.1 571.3h0M624.9 569.4h0M624.0 571.8h0M629.5 570.4h0M631.3 569.4h0M632.2 576.7h0M624.0 577.3h0M626.7 582.2h0M627.1 584.9h0M640.9 571.3h0M640.9 579.8h0M652.7 565.8h0M652.1 569.4h0M569.5 579.8h0M569.5 592.1h0M577.3 587.6h0M578.1 588.5h0M584.1 582.7h0M584.1 585.8h0M587.7 587.1h0M588.6 588.9h0M590.4 587.1h0M594.0 583.4h0M595.5 584.9h0M592.2 590.3h0M606.8 591.2h0M608.6 594.9h0M609.5 595.8h0M598.6 594.9h0M599.1 596.1h0M594.0 594.0h0M593.1 595.4h0M603.1 598.5h0M624.0 598.5h0M588.6 598.5h0M590.4 599.8h0M591.9 600.3h0M586.4 601.6h0M584.1 605.2h0M573.7 604.5h0M576.8 609.8h0M599.5 590.3h0M604.9 577.6h0M602.2 574.9h0M597.7 573.6h0" stroke="#363636" stroke-width="2.30" stroke-linecap="round" fill="none"/>
<line x1="566.20" y1="624.60" x2="566.20" y2="508.50" stroke="#9a9a9a" stroke-width="1.0"/>
<path d="M565.20,509.70 L566.20,507.20 L567.20,509.70 Z" fill="#333"/>
<line x1="565.70" y1="624.60" x2="682.50" y2="624.60" stroke="#9a9a9a" stroke-width="1.0"/>
<path d="M681.00,623.40 L683.80,624.60 L681.00,625.80 Z" fill="#333"/>
<text x="564.00" y="623.50" font-size="6.57" fill="#222" text-anchor="end" textLength="7.65" lengthAdjust="spacingAndGlyphs" stroke="#222" stroke-width="0.16">20</text>
<line x1="564.60" y1="621.30" x2="565.70" y2="621.30" stroke="#555" stroke-width="0.5"/>
<text x="564.00" y="608.50" font-size="6.57" fill="#222" text-anchor="end" textLength="7.65" lengthAdjust="spacingAndGlyphs" stroke="#222" stroke-width="0.16">30</text>
<line x1="564.60" y1="606.30" x2="565.70" y2="606.30" stroke="#555" stroke-width="0.5"/>
<text x="564.00" y="593.50" font-size="6.57" fill="#222" text-anchor="end" textLength="7.65" lengthAdjust="spacingAndGlyphs" stroke="#222" stroke-width="0.16">40</text>
<line x1="564.60" y1="591.30" x2="565.70" y2="591.30" stroke="#555" stroke-width="0.5"/>
<text x="564.00" y="578.50" font-size="6.57" fill="#222" text-anchor="end" textLength="7.65" lengthAdjust="spacingAndGlyphs" stroke="#222" stroke-width="0.16">50</text>
<line x1="564.60" y1="576.30" x2="565.70" y2="576.30" stroke="#555" stroke-width="0.5"/>
<text x="564.00" y="563.50" font-size="6.57" fill="#222" text-anchor="end" textLength="7.65" lengthAdjust="spacingAndGlyphs" stroke="#222" stroke-width="0.16">60</text>
<line x1="564.60" y1="561.30" x2="565.70" y2="561.30" stroke="#555" stroke-width="0.5"/>
<text x="564.00" y="548.50" font-size="6.57" fill="#222" text-anchor="end" textLength="7.65" lengthAdjust="spacingAndGlyphs" stroke="#222" stroke-width="0.16">70</text>
<line x1="564.60" y1="546.30" x2="565.70" y2="546.30" stroke="#555" stroke-width="0.5"/>
<text x="564.00" y="533.50" font-size="6.57" fill="#222" text-anchor="end" textLength="7.65" lengthAdjust="spacingAndGlyphs" stroke="#222" stroke-width="0.16">80</text>
<line x1="564.60" y1="531.30" x2="565.70" y2="531.30" stroke="#555" stroke-width="0.5"/>
<text x="564.00" y="518.50" font-size="6.57" fill="#222" text-anchor="end" textLength="7.65" lengthAdjust="spacingAndGlyphs" stroke="#222" stroke-width="0.16">90</text>
<line x1="564.60" y1="516.30" x2="565.70" y2="516.30" stroke="#555" stroke-width="0.5"/>
<text x="570.40" y="631.20" font-size="6.57" fill="#222" text-anchor="middle" textLength="7.65" lengthAdjust="spacingAndGlyphs" stroke="#222" stroke-width="0.16">20</text>
<line x1="570.40" y1="624.60" x2="570.40" y2="625.90" stroke="#555" stroke-width="0.5"/>
<text x="585.40" y="631.20" font-size="6.57" fill="#222" text-anchor="middle" textLength="7.65" lengthAdjust="spacingAndGlyphs" stroke="#222" stroke-width="0.16">30</text>
<line x1="585.40" y1="624.60" x2="585.40" y2="625.90" stroke="#555" stroke-width="0.5"/>
<text x="600.40" y="631.20" font-size="6.57" fill="#222" text-anchor="middle" textLength="7.65" lengthAdjust="spacingAndGlyphs" stroke="#222" stroke-width="0.16">40</text>
<line x1="600.40" y1="624.60" x2="600.40" y2="625.90" stroke="#555" stroke-width="0.5"/>
<text x="615.40" y="631.20" font-size="6.57" fill="#222" text-anchor="middle" textLength="7.65" lengthAdjust="spacingAndGlyphs" stroke="#222" stroke-width="0.16">50</text>
<line x1="615.40" y1="624.60" x2="615.40" y2="625.90" stroke="#555" stroke-width="0.5"/>
<text x="630.40" y="631.20" font-size="6.57" fill="#222" text-anchor="middle" textLength="7.65" lengthAdjust="spacingAndGlyphs" stroke="#222" stroke-width="0.16">60</text>
<line x1="630.40" y1="624.60" x2="630.40" y2="625.90" stroke="#555" stroke-width="0.5"/>
<text x="645.40" y="631.20" font-size="6.57" fill="#222" text-anchor="middle" textLength="7.65" lengthAdjust="spacingAndGlyphs" stroke="#222" stroke-width="0.16">70</text>
<line x1="645.40" y1="624.60" x2="645.40" y2="625.90" stroke="#555" stroke-width="0.5"/>
<text x="660.40" y="631.20" font-size="6.57" fill="#222" text-anchor="middle" textLength="7.65" lengthAdjust="spacingAndGlyphs" stroke="#222" stroke-width="0.16">80</text>
<line x1="660.40" y1="624.60" x2="660.40" y2="625.90" stroke="#555" stroke-width="0.5"/>
<text x="675.40" y="631.20" font-size="6.57" fill="#222" text-anchor="middle" textLength="7.65" lengthAdjust="spacingAndGlyphs" stroke="#222" stroke-width="0.16">90</text>
<line x1="675.40" y1="624.60" x2="675.40" y2="625.90" stroke="#555" stroke-width="0.5"/>
<text x="628.80" y="640.80" font-size="8.3" fill="#222" text-anchor="middle" textLength="62" lengthAdjust="spacingAndGlyphs" stroke="#222" stroke-width="0.16">True age (years)</text>
<text x="552.00" y="562.30" font-size="8.3" fill="#222" text-anchor="middle" textLength="80" lengthAdjust="spacingAndGlyphs" transform="rotate(-90 552 562.3)" stroke="#222" stroke-width="0.16">Predicted age (years)</text>
<text x="571.2" y="519.5" font-size="9.5" fill="#222" textLength="38.5" lengthAdjust="spacingAndGlyphs"><tspan font-style="italic">r</tspan> = 0.78</text>
</svg>
</body></html>
